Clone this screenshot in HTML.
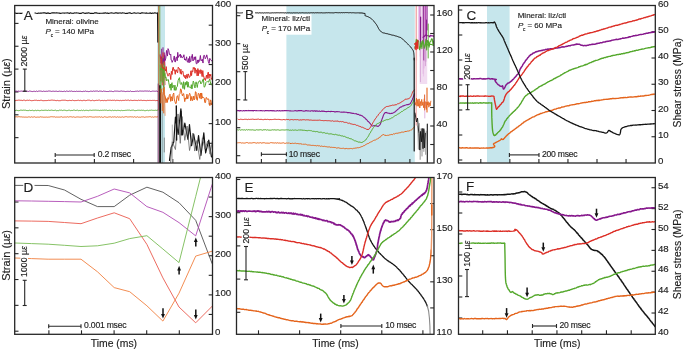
<!DOCTYPE html>
<html><head><meta charset="utf-8"><style>
html,body{margin:0;padding:0;background:#fff;}
svg{display:block;font-family:"Liberation Sans",sans-serif;will-change:transform;}
text{fill:#1e1e1e;stroke:#1e1e1e;stroke-width:0.15px;}
</style></head><body>
<svg width="685" height="350" viewBox="0 0 685 350">
<defs>
<clipPath id="c00"><rect x="14.7" y="5.5" width="197.8" height="157.5"/></clipPath>
<clipPath id="c01"><rect x="14.7" y="177.5" width="197.8" height="156.8"/></clipPath>
<clipPath id="c10"><rect x="236.5" y="5.5" width="197.5" height="157.5"/></clipPath>
<clipPath id="c11"><rect x="236.5" y="177.5" width="197.5" height="156.8"/></clipPath>
<clipPath id="c20"><rect x="458.5" y="5.5" width="196.8" height="157.5"/></clipPath>
<clipPath id="c21"><rect x="458.5" y="177.5" width="196.8" height="156.8"/></clipPath>
</defs>
<rect x="157.2" y="6" width="7.8" height="156.4" fill="#c6e6ec"/>
<rect x="286.4" y="6" width="128.4" height="156.4" fill="#c6e6ec"/>
<rect x="487" y="6" width="22.6" height="156.4" fill="#c6e6ec"/>
<line x1="14.7" y1="23.4" x2="18.5" y2="23.4" stroke="#262626" stroke-width="1.1"/>
<line x1="14.7" y1="46.25" x2="18.5" y2="46.25" stroke="#262626" stroke-width="1.1"/>
<line x1="14.7" y1="69.1" x2="18.5" y2="69.1" stroke="#262626" stroke-width="1.1"/>
<line x1="14.7" y1="91.95" x2="18.5" y2="91.95" stroke="#262626" stroke-width="1.1"/>
<line x1="14.7" y1="114.8" x2="18.5" y2="114.8" stroke="#262626" stroke-width="1.1"/>
<line x1="14.7" y1="137.65" x2="18.5" y2="137.65" stroke="#262626" stroke-width="1.1"/>
<line x1="208.7" y1="143.31" x2="212.5" y2="143.31" stroke="#262626" stroke-width="1.1"/>
<line x1="208.7" y1="123.62" x2="212.5" y2="123.62" stroke="#262626" stroke-width="1.1"/>
<line x1="208.7" y1="103.94" x2="212.5" y2="103.94" stroke="#262626" stroke-width="1.1"/>
<line x1="208.7" y1="84.25" x2="212.5" y2="84.25" stroke="#262626" stroke-width="1.1"/>
<line x1="208.7" y1="64.56" x2="212.5" y2="64.56" stroke="#262626" stroke-width="1.1"/>
<line x1="208.7" y1="44.88" x2="212.5" y2="44.88" stroke="#262626" stroke-width="1.1"/>
<line x1="208.7" y1="25.19" x2="212.5" y2="25.19" stroke="#262626" stroke-width="1.1"/>
<line x1="55.2" y1="159" x2="55.2" y2="163" stroke="#262626" stroke-width="1.1"/>
<line x1="94.4" y1="159" x2="94.4" y2="163" stroke="#262626" stroke-width="1.1"/>
<line x1="133.6" y1="159" x2="133.6" y2="163" stroke="#262626" stroke-width="1.1"/>
<line x1="172.8" y1="159" x2="172.8" y2="163" stroke="#262626" stroke-width="1.1"/>
<text x="215.1" y="6.7" font-size="9.7" text-anchor="start" >400</text>
<text x="215.1" y="46.08" font-size="9.7" text-anchor="start" >300</text>
<text x="215.1" y="85.45" font-size="9.7" text-anchor="start" >200</text>
<text x="215.1" y="124.83" font-size="9.7" text-anchor="start" >100</text>
<text x="215.1" y="164.2" font-size="9.7" text-anchor="start" >0</text>
<line x1="236.5" y1="15.7" x2="240.3" y2="15.7" stroke="#262626" stroke-width="1.1"/>
<line x1="236.5" y1="43.7" x2="240.3" y2="43.7" stroke="#262626" stroke-width="1.1"/>
<line x1="236.5" y1="71.7" x2="240.3" y2="71.7" stroke="#262626" stroke-width="1.1"/>
<line x1="236.5" y1="99.7" x2="240.3" y2="99.7" stroke="#262626" stroke-width="1.1"/>
<line x1="236.5" y1="127.7" x2="240.3" y2="127.7" stroke="#262626" stroke-width="1.1"/>
<line x1="236.5" y1="155.7" x2="240.3" y2="155.7" stroke="#262626" stroke-width="1.1"/>
<line x1="430.2" y1="144.5" x2="434" y2="144.5" stroke="#262626" stroke-width="1.1"/>
<line x1="430.2" y1="126" x2="434" y2="126" stroke="#262626" stroke-width="1.1"/>
<line x1="430.2" y1="107.5" x2="434" y2="107.5" stroke="#262626" stroke-width="1.1"/>
<line x1="430.2" y1="89" x2="434" y2="89" stroke="#262626" stroke-width="1.1"/>
<line x1="430.2" y1="70.5" x2="434" y2="70.5" stroke="#262626" stroke-width="1.1"/>
<line x1="430.2" y1="52" x2="434" y2="52" stroke="#262626" stroke-width="1.1"/>
<line x1="430.2" y1="33.5" x2="434" y2="33.5" stroke="#262626" stroke-width="1.1"/>
<line x1="430.2" y1="15" x2="434" y2="15" stroke="#262626" stroke-width="1.1"/>
<line x1="261.4" y1="159" x2="261.4" y2="163" stroke="#262626" stroke-width="1.1"/>
<line x1="286.15" y1="159" x2="286.15" y2="163" stroke="#262626" stroke-width="1.1"/>
<line x1="310.9" y1="159" x2="310.9" y2="163" stroke="#262626" stroke-width="1.1"/>
<line x1="335.65" y1="159" x2="335.65" y2="163" stroke="#262626" stroke-width="1.1"/>
<line x1="360.4" y1="159" x2="360.4" y2="163" stroke="#262626" stroke-width="1.1"/>
<line x1="385.15" y1="159" x2="385.15" y2="163" stroke="#262626" stroke-width="1.1"/>
<line x1="409.9" y1="159" x2="409.9" y2="163" stroke="#262626" stroke-width="1.1"/>
<text x="436.6" y="16.2" font-size="9.7" text-anchor="start" >160</text>
<text x="436.6" y="53.2" font-size="9.7" text-anchor="start" >120</text>
<text x="436.6" y="90.2" font-size="9.7" text-anchor="start" >80</text>
<text x="436.6" y="127.2" font-size="9.7" text-anchor="start" >40</text>
<text x="436.6" y="164.2" font-size="9.7" text-anchor="start" >0</text>
<line x1="458.5" y1="10" x2="462.3" y2="10" stroke="#262626" stroke-width="1.1"/>
<line x1="458.5" y1="35" x2="462.3" y2="35" stroke="#262626" stroke-width="1.1"/>
<line x1="458.5" y1="60" x2="462.3" y2="60" stroke="#262626" stroke-width="1.1"/>
<line x1="458.5" y1="85" x2="462.3" y2="85" stroke="#262626" stroke-width="1.1"/>
<line x1="458.5" y1="110" x2="462.3" y2="110" stroke="#262626" stroke-width="1.1"/>
<line x1="458.5" y1="135" x2="462.3" y2="135" stroke="#262626" stroke-width="1.1"/>
<line x1="458.5" y1="160" x2="462.3" y2="160" stroke="#262626" stroke-width="1.1"/>
<line x1="651.5" y1="136.75" x2="655.3" y2="136.75" stroke="#262626" stroke-width="1.1"/>
<line x1="651.5" y1="110.5" x2="655.3" y2="110.5" stroke="#262626" stroke-width="1.1"/>
<line x1="651.5" y1="84.25" x2="655.3" y2="84.25" stroke="#262626" stroke-width="1.1"/>
<line x1="651.5" y1="58" x2="655.3" y2="58" stroke="#262626" stroke-width="1.1"/>
<line x1="651.5" y1="31.75" x2="655.3" y2="31.75" stroke="#262626" stroke-width="1.1"/>
<line x1="480.8" y1="159" x2="480.8" y2="163" stroke="#262626" stroke-width="1.1"/>
<line x1="509.85" y1="159" x2="509.85" y2="163" stroke="#262626" stroke-width="1.1"/>
<line x1="538.9" y1="159" x2="538.9" y2="163" stroke="#262626" stroke-width="1.1"/>
<line x1="567.95" y1="159" x2="567.95" y2="163" stroke="#262626" stroke-width="1.1"/>
<line x1="597" y1="159" x2="597" y2="163" stroke="#262626" stroke-width="1.1"/>
<line x1="626.05" y1="159" x2="626.05" y2="163" stroke="#262626" stroke-width="1.1"/>
<text x="657.9" y="6.7" font-size="9.7" text-anchor="start" >60</text>
<text x="657.9" y="32.95" font-size="9.7" text-anchor="start" >50</text>
<text x="657.9" y="59.2" font-size="9.7" text-anchor="start" >40</text>
<text x="657.9" y="85.45" font-size="9.7" text-anchor="start" >30</text>
<text x="657.9" y="111.7" font-size="9.7" text-anchor="start" >20</text>
<text x="657.9" y="137.95" font-size="9.7" text-anchor="start" >10</text>
<text x="657.9" y="164.2" font-size="9.7" text-anchor="start" >0</text>
<line x1="14.7" y1="202" x2="18.5" y2="202" stroke="#262626" stroke-width="1.1"/>
<line x1="14.7" y1="227.84" x2="18.5" y2="227.84" stroke="#262626" stroke-width="1.1"/>
<line x1="14.7" y1="253.68" x2="18.5" y2="253.68" stroke="#262626" stroke-width="1.1"/>
<line x1="14.7" y1="279.52" x2="18.5" y2="279.52" stroke="#262626" stroke-width="1.1"/>
<line x1="14.7" y1="305.36" x2="18.5" y2="305.36" stroke="#262626" stroke-width="1.1"/>
<line x1="14.7" y1="331.2" x2="18.5" y2="331.2" stroke="#262626" stroke-width="1.1"/>
<line x1="208.7" y1="314.44" x2="212.5" y2="314.44" stroke="#262626" stroke-width="1.1"/>
<line x1="208.7" y1="294.88" x2="212.5" y2="294.88" stroke="#262626" stroke-width="1.1"/>
<line x1="208.7" y1="275.31" x2="212.5" y2="275.31" stroke="#262626" stroke-width="1.1"/>
<line x1="208.7" y1="255.75" x2="212.5" y2="255.75" stroke="#262626" stroke-width="1.1"/>
<line x1="208.7" y1="236.19" x2="212.5" y2="236.19" stroke="#262626" stroke-width="1.1"/>
<line x1="208.7" y1="216.62" x2="212.5" y2="216.62" stroke="#262626" stroke-width="1.1"/>
<line x1="208.7" y1="197.06" x2="212.5" y2="197.06" stroke="#262626" stroke-width="1.1"/>
<line x1="48.9" y1="330.3" x2="48.9" y2="334.3" stroke="#262626" stroke-width="1.1"/>
<line x1="81.5" y1="330.3" x2="81.5" y2="334.3" stroke="#262626" stroke-width="1.1"/>
<line x1="114.1" y1="330.3" x2="114.1" y2="334.3" stroke="#262626" stroke-width="1.1"/>
<line x1="146.7" y1="330.3" x2="146.7" y2="334.3" stroke="#262626" stroke-width="1.1"/>
<line x1="179.3" y1="330.3" x2="179.3" y2="334.3" stroke="#262626" stroke-width="1.1"/>
<text x="215.1" y="178.7" font-size="9.7" text-anchor="start" >400</text>
<text x="215.1" y="217.82" font-size="9.7" text-anchor="start" >300</text>
<text x="215.1" y="256.95" font-size="9.7" text-anchor="start" >200</text>
<text x="215.1" y="296.07" font-size="9.7" text-anchor="start" >100</text>
<text x="215.1" y="335.2" font-size="9.7" text-anchor="start" >0</text>
<line x1="236.5" y1="179.5" x2="240.3" y2="179.5" stroke="#262626" stroke-width="1.1"/>
<line x1="236.5" y1="212.7" x2="240.3" y2="212.7" stroke="#262626" stroke-width="1.1"/>
<line x1="236.5" y1="245.9" x2="240.3" y2="245.9" stroke="#262626" stroke-width="1.1"/>
<line x1="236.5" y1="279.1" x2="240.3" y2="279.1" stroke="#262626" stroke-width="1.1"/>
<line x1="236.5" y1="312.3" x2="240.3" y2="312.3" stroke="#262626" stroke-width="1.1"/>
<line x1="430.2" y1="307.92" x2="434" y2="307.92" stroke="#262626" stroke-width="1.1"/>
<line x1="430.2" y1="281.83" x2="434" y2="281.83" stroke="#262626" stroke-width="1.1"/>
<line x1="430.2" y1="255.75" x2="434" y2="255.75" stroke="#262626" stroke-width="1.1"/>
<line x1="430.2" y1="229.67" x2="434" y2="229.67" stroke="#262626" stroke-width="1.1"/>
<line x1="430.2" y1="203.58" x2="434" y2="203.58" stroke="#262626" stroke-width="1.1"/>
<line x1="258.5" y1="330.3" x2="258.5" y2="334.3" stroke="#262626" stroke-width="1.1"/>
<line x1="299.6" y1="330.3" x2="299.6" y2="334.3" stroke="#262626" stroke-width="1.1"/>
<line x1="340.7" y1="330.3" x2="340.7" y2="334.3" stroke="#262626" stroke-width="1.1"/>
<line x1="381.8" y1="330.3" x2="381.8" y2="334.3" stroke="#262626" stroke-width="1.1"/>
<line x1="422.9" y1="330.3" x2="422.9" y2="334.3" stroke="#262626" stroke-width="1.1"/>
<text x="436.6" y="178.7" font-size="9.7" text-anchor="start" >170</text>
<text x="436.6" y="230.87" font-size="9.7" text-anchor="start" >150</text>
<text x="436.6" y="283.03" font-size="9.7" text-anchor="start" >130</text>
<text x="436.6" y="335.2" font-size="9.7" text-anchor="start" >110</text>
<line x1="458.5" y1="192" x2="462.3" y2="192" stroke="#262626" stroke-width="1.1"/>
<line x1="458.5" y1="213" x2="462.3" y2="213" stroke="#262626" stroke-width="1.1"/>
<line x1="458.5" y1="234" x2="462.3" y2="234" stroke="#262626" stroke-width="1.1"/>
<line x1="458.5" y1="255" x2="462.3" y2="255" stroke="#262626" stroke-width="1.1"/>
<line x1="458.5" y1="276" x2="462.3" y2="276" stroke="#262626" stroke-width="1.1"/>
<line x1="458.5" y1="297" x2="462.3" y2="297" stroke="#262626" stroke-width="1.1"/>
<line x1="458.5" y1="318" x2="462.3" y2="318" stroke="#262626" stroke-width="1.1"/>
<line x1="651.5" y1="313.02" x2="655.3" y2="313.02" stroke="#262626" stroke-width="1.1"/>
<line x1="651.5" y1="292.14" x2="655.3" y2="292.14" stroke="#262626" stroke-width="1.1"/>
<line x1="651.5" y1="271.26" x2="655.3" y2="271.26" stroke="#262626" stroke-width="1.1"/>
<line x1="651.5" y1="250.38" x2="655.3" y2="250.38" stroke="#262626" stroke-width="1.1"/>
<line x1="651.5" y1="229.5" x2="655.3" y2="229.5" stroke="#262626" stroke-width="1.1"/>
<line x1="651.5" y1="208.62" x2="655.3" y2="208.62" stroke="#262626" stroke-width="1.1"/>
<line x1="651.5" y1="187.74" x2="655.3" y2="187.74" stroke="#262626" stroke-width="1.1"/>
<line x1="482.7" y1="330.3" x2="482.7" y2="334.3" stroke="#262626" stroke-width="1.1"/>
<line x1="507.45" y1="330.3" x2="507.45" y2="334.3" stroke="#262626" stroke-width="1.1"/>
<line x1="532.2" y1="330.3" x2="532.2" y2="334.3" stroke="#262626" stroke-width="1.1"/>
<line x1="556.95" y1="330.3" x2="556.95" y2="334.3" stroke="#262626" stroke-width="1.1"/>
<line x1="581.7" y1="330.3" x2="581.7" y2="334.3" stroke="#262626" stroke-width="1.1"/>
<line x1="606.45" y1="330.3" x2="606.45" y2="334.3" stroke="#262626" stroke-width="1.1"/>
<line x1="631.2" y1="330.3" x2="631.2" y2="334.3" stroke="#262626" stroke-width="1.1"/>
<text x="657.9" y="188.94" font-size="9.7" text-anchor="start" >54</text>
<text x="657.9" y="209.82" font-size="9.7" text-anchor="start" >52</text>
<text x="657.9" y="230.7" font-size="9.7" text-anchor="start" >50</text>
<text x="657.9" y="251.58" font-size="9.7" text-anchor="start" >48</text>
<text x="657.9" y="272.46" font-size="9.7" text-anchor="start" >46</text>
<text x="657.9" y="293.34" font-size="9.7" text-anchor="start" >44</text>
<text x="657.9" y="314.22" font-size="9.7" text-anchor="start" >42</text>
<text x="657.9" y="335.1" font-size="9.7" text-anchor="start" >40</text>
<path d="M15.3,91.19 L16.3,91.09 L17.3,91.39 L18.31,91.04 L19.31,91.32 L20.31,91.22 L21.31,91.03 L22.31,91.3 L23.32,91.02 L24.32,91.26 L25.32,91.04 L26.32,91.05 L27.33,91.25 L28.33,91.5 L29.33,91.07 L30.33,91.13 L31.33,91.38 L32.34,91.57 L33.34,91.35 L34.34,91.24 L35.34,91.59 L36.34,91.03 L37.35,91.52 L38.35,91.17 L39.35,91.09 L40.35,91.07 L41.35,91.19 L42.36,91.49 L43.36,91.11 L44.36,91.35 L45.36,91.38 L46.37,91.22 L47.37,91.33 L48.37,91.04 L49.37,91.04 L50.37,91.12 L51.38,91.41 L52.38,91.26 L53.38,91.19 L54.38,91.35 L55.38,91.27 L56.39,91.18 L57.39,91.48 L58.39,91.42 L59.39,91.15 L60.4,91.34 L61.4,91.32 L62.4,91.53 L63.4,91.44 L64.4,91.17 L65.41,91.59 L66.41,91.07 L67.41,91.25 L68.41,91.45 L69.41,91.09 L70.42,91.29 L71.42,91.02 L72.42,91.4 L73.42,91.46 L74.42,91.34 L75.43,91.53 L76.43,91.19 L77.43,91.42 L78.43,91.36 L79.44,91.35 L80.44,91.27 L81.44,91.5 L82.44,91.57 L83.44,91.28 L84.45,91.4 L85.45,91.04 L86.45,91.42 L87.45,91.39 L88.45,91.6 L89.46,91.49 L90.46,91.17 L91.46,91.23 L92.46,91.4 L93.46,91.01 L94.47,91.28 L95.47,91.1 L96.47,91.07 L97.47,91.04 L98.48,91.46 L99.48,91.08 L100.48,91.15 L101.48,91.23 L102.48,91.52 L103.49,91.05 L104.49,91.27 L105.49,91.33 L106.49,91.53 L107.49,91.49 L108.5,91.52 L109.5,91.17 L110.5,91.25 L111.5,91.22 L112.5,91.53 L113.51,91.57 L114.51,91.09 L115.51,91.11 L116.51,91.14 L117.52,91.14 L118.52,91.29 L119.52,91.35 L120.52,91.16 L121.52,91 L122.53,91.25 L123.53,91.22 L124.53,91.34 L125.53,91.57 L126.53,91.41 L127.54,91.31 L128.54,91.37 L129.54,91.41 L130.54,91.03 L131.55,91.54 L132.55,91.47 L133.55,91.52 L134.55,91.48 L135.55,91.24 L136.56,91.24 L137.56,91.06 L138.56,91.38 L139.56,91.04 L140.56,91.04 L141.57,91.13 L142.57,91.1 L143.57,91.2 L144.57,91.03 L145.57,91 L146.58,91.09 L147.58,91.06 L148.58,91.22 L149.58,91.02 L150.59,91.52 L151.59,91.37 L152.59,91.09 L153.59,91.15 L154.59,91.21 L155.6,91.22 L156.6,91.07 L157.6,91.51" fill="none" stroke="#86188c" stroke-width="0.9" stroke-linejoin="round" stroke-linecap="round" opacity="1" clip-path="url(#c00)"/>
<path d="M15.3,100.7 L16.3,100.38 L17.3,100.39 L18.31,100.15 L19.31,100.16 L20.31,100.31 L21.31,100.26 L22.31,100.6 L23.32,100.2 L24.32,100.11 L25.32,100.67 L26.32,100.42 L27.33,100.19 L28.33,100.43 L29.33,100.12 L30.33,100.42 L31.33,100.69 L32.34,100.62 L33.34,100.52 L34.34,100.26 L35.34,100.32 L36.34,100.2 L37.35,100.56 L38.35,100.42 L39.35,100.57 L40.35,100.3 L41.35,100.23 L42.36,100.59 L43.36,100.69 L44.36,100.61 L45.36,100.58 L46.37,100.59 L47.37,100.54 L48.37,100.24 L49.37,100.41 L50.37,100.31 L51.38,100.12 L52.38,100.12 L53.38,100.27 L54.38,100.26 L55.38,100.52 L56.39,100.67 L57.39,100.37 L58.39,100.66 L59.39,100.69 L60.4,100.67 L61.4,100.32 L62.4,100.23 L63.4,100.24 L64.4,100.22 L65.41,100.22 L66.41,100.47 L67.41,100.64 L68.41,100.6 L69.41,100.39 L70.42,100.49 L71.42,100.58 L72.42,100.15 L73.42,100.5 L74.42,100.65 L75.43,100.57 L76.43,100.55 L77.43,100.39 L78.43,100.21 L79.44,100.57 L80.44,100.3 L81.44,100.58 L82.44,100.68 L83.44,100.34 L84.45,100.34 L85.45,100.67 L86.45,100.53 L87.45,100.2 L88.45,100.18 L89.46,100.19 L90.46,100.64 L91.46,100.58 L92.46,100.19 L93.46,100.6 L94.47,100.69 L95.47,100.49 L96.47,100.31 L97.47,100.43 L98.48,100.18 L99.48,100.11 L100.48,100.68 L101.48,100.49 L102.48,100.42 L103.49,100.66 L104.49,100.36 L105.49,100.62 L106.49,100.6 L107.49,100.23 L108.5,100.25 L109.5,100.28 L110.5,100.24 L111.5,100.45 L112.5,100.26 L113.51,100.35 L114.51,100.18 L115.51,100.65 L116.51,100.31 L117.52,100.37 L118.52,100.45 L119.52,100.64 L120.52,100.35 L121.52,100.65 L122.53,100.4 L123.53,100.42 L124.53,100.41 L125.53,100.11 L126.53,100.36 L127.54,100.21 L128.54,100.1 L129.54,100.58 L130.54,100.2 L131.55,100.38 L132.55,100.54 L133.55,100.43 L134.55,100.3 L135.55,100.41 L136.56,100.43 L137.56,100.57 L138.56,100.16 L139.56,100.44 L140.56,100.25 L141.57,100.27 L142.57,100.56 L143.57,100.4 L144.57,100.44 L145.57,100.56 L146.58,100.65 L147.58,100.37 L148.58,100.47 L149.58,100.4 L150.59,100.41 L151.59,100.52 L152.59,100.37 L153.59,100.42 L154.59,100.39 L155.6,100.66 L156.6,100.52 L157.6,100.63" fill="none" stroke="#dc2e26" stroke-width="0.9" stroke-linejoin="round" stroke-linecap="round" opacity="1" clip-path="url(#c00)"/>
<path d="M15.3,110.67 L16.3,110.26 L17.3,110.44 L18.31,110.67 L19.31,110.6 L20.31,110.18 L21.31,110.17 L22.31,110.37 L23.32,110.14 L24.32,110.24 L25.32,110.14 L26.32,110.5 L27.33,110.57 L28.33,110.64 L29.33,110.19 L30.33,110.53 L31.33,110.5 L32.34,110.19 L33.34,110.63 L34.34,110.68 L35.34,110.23 L36.34,110.67 L37.35,110.34 L38.35,110.39 L39.35,110.69 L40.35,110.6 L41.35,110.2 L42.36,110.36 L43.36,110.41 L44.36,110.3 L45.36,110.22 L46.37,110.29 L47.37,110.53 L48.37,110.11 L49.37,110.43 L50.37,110.36 L51.38,110.11 L52.38,110.3 L53.38,110.47 L54.38,110.41 L55.38,110.14 L56.39,110.69 L57.39,110.57 L58.39,110.68 L59.39,110.16 L60.4,110.26 L61.4,110.12 L62.4,110.57 L63.4,110.26 L64.4,110.18 L65.41,110.35 L66.41,110.65 L67.41,110.59 L68.41,110.26 L69.41,110.19 L70.42,110.65 L71.42,110.44 L72.42,110.52 L73.42,110.15 L74.42,110.13 L75.43,110.51 L76.43,110.36 L77.43,110.14 L78.43,110.66 L79.44,110.48 L80.44,110.58 L81.44,110.15 L82.44,110.61 L83.44,110.14 L84.45,110.62 L85.45,110.37 L86.45,110.3 L87.45,110.43 L88.45,110.66 L89.46,110.26 L90.46,110.18 L91.46,110.42 L92.46,110.24 L93.46,110.17 L94.47,110.2 L95.47,110.13 L96.47,110.22 L97.47,110.29 L98.48,110.28 L99.48,110.56 L100.48,110.27 L101.48,110.4 L102.48,110.21 L103.49,110.31 L104.49,110.11 L105.49,110.25 L106.49,110.11 L107.49,110.54 L108.5,110.43 L109.5,110.21 L110.5,110.38 L111.5,110.66 L112.5,110.16 L113.51,110.59 L114.51,110.36 L115.51,110.4 L116.51,110.6 L117.52,110.34 L118.52,110.4 L119.52,110.51 L120.52,110.69 L121.52,110.31 L122.53,110.6 L123.53,110.52 L124.53,110.48 L125.53,110.34 L126.53,110.31 L127.54,110.13 L128.54,110.18 L129.54,110.14 L130.54,110.54 L131.55,110.25 L132.55,110.2 L133.55,110.15 L134.55,110.6 L135.55,110.62 L136.56,110.5 L137.56,110.27 L138.56,110.25 L139.56,110.28 L140.56,110.38 L141.57,110.19 L142.57,110.37 L143.57,110.26 L144.57,110.68 L145.57,110.68 L146.58,110.43 L147.58,110.25 L148.58,110.68 L149.58,110.29 L150.59,110.31 L151.59,110.1 L152.59,110.33 L153.59,110.38 L154.59,110.4 L155.6,110.22 L156.6,110.4 L157.6,110.1" fill="none" stroke="#54a82c" stroke-width="0.9" stroke-linejoin="round" stroke-linecap="round" opacity="1" clip-path="url(#c00)"/>
<path d="M15.3,116.86 L16.3,116.75 L17.3,116.94 L18.31,116.73 L19.31,116.71 L20.31,116.88 L21.31,116.84 L22.31,117.05 L23.32,117.02 L24.32,117.15 L25.32,117.09 L26.32,117.13 L27.33,117.23 L28.33,116.93 L29.33,116.9 L30.33,117.29 L31.33,116.79 L32.34,117.13 L33.34,117.09 L34.34,116.73 L35.34,117.2 L36.34,117.24 L37.35,117.08 L38.35,117.14 L39.35,117.19 L40.35,116.78 L41.35,117.01 L42.36,117 L43.36,117.2 L44.36,117.18 L45.36,117.2 L46.37,117.05 L47.37,117.24 L48.37,117.11 L49.37,117.12 L50.37,116.84 L51.38,116.72 L52.38,116.78 L53.38,116.92 L54.38,116.76 L55.38,117.2 L56.39,117.04 L57.39,117.08 L58.39,117.08 L59.39,117.11 L60.4,116.99 L61.4,116.7 L62.4,117.18 L63.4,117.15 L64.4,117 L65.41,117.02 L66.41,117.1 L67.41,116.74 L68.41,117.14 L69.41,116.85 L70.42,116.74 L71.42,116.86 L72.42,117.14 L73.42,116.82 L74.42,117.14 L75.43,117.29 L76.43,117 L77.43,116.93 L78.43,116.99 L79.44,117.11 L80.44,117.16 L81.44,117.07 L82.44,117.09 L83.44,116.75 L84.45,116.79 L85.45,116.85 L86.45,117.15 L87.45,116.88 L88.45,117.04 L89.46,116.71 L90.46,116.74 L91.46,116.86 L92.46,117.1 L93.46,117.12 L94.47,117.11 L95.47,116.87 L96.47,117.01 L97.47,116.98 L98.48,116.98 L99.48,116.77 L100.48,117.24 L101.48,116.82 L102.48,117.29 L103.49,117.26 L104.49,116.71 L105.49,116.98 L106.49,117.19 L107.49,117.28 L108.5,116.97 L109.5,116.86 L110.5,116.83 L111.5,117.27 L112.5,116.83 L113.51,117.05 L114.51,116.79 L115.51,117.01 L116.51,117.27 L117.52,116.78 L118.52,117.19 L119.52,117.01 L120.52,117.23 L121.52,117.12 L122.53,116.84 L123.53,117.24 L124.53,116.99 L125.53,116.71 L126.53,116.7 L127.54,117 L128.54,116.97 L129.54,116.88 L130.54,116.78 L131.55,116.91 L132.55,116.89 L133.55,117.2 L134.55,116.7 L135.55,117.15 L136.56,117.2 L137.56,116.77 L138.56,117.26 L139.56,117.13 L140.56,117.24 L141.57,116.87 L142.57,116.92 L143.57,116.94 L144.57,117.3 L145.57,117.05 L146.58,116.92 L147.58,116.96 L148.58,116.87 L149.58,116.73 L150.59,116.76 L151.59,117.2 L152.59,116.87 L153.59,117.26 L154.59,116.85 L155.6,116.86 L156.6,117.01 L157.6,116.81" fill="none" stroke="#e4641c" stroke-width="0.9" stroke-linejoin="round" stroke-linecap="round" opacity="1" clip-path="url(#c00)"/>
<path d="M15.3,13.01 L16.3,13.42 L17.3,13.37 L18.3,13.32 L19.3,13.19 L20.3,13.39 L21.3,13.41 L22.3,13.13 L23.31,13.25 L24.31,12.78 L25.31,13.26 L26.31,13.07 L27.31,13.28 L28.31,13.2 L29.31,12.95 L30.31,12.78 L31.31,13.4 L32.31,12.84 L33.31,13.08 L34.31,12.99 L35.31,12.96 L36.31,13.27 L37.32,13.43 L38.32,12.93 L39.32,13.21 L40.32,12.96 L41.32,13.14 L42.32,13.03 L43.32,12.87 L44.32,12.86 L45.32,12.9 L46.32,13.38 L47.32,13.1 L48.32,12.9 L49.32,13.38 L50.32,13.45 L51.33,13.06 L52.33,12.85 L53.33,12.88 L54.33,12.81 L55.33,12.99 L56.33,12.81 L57.33,12.92 L58.33,12.93 L59.33,13.15 L60.33,13.37 L61.33,13.27 L62.33,13.04 L63.33,13.04 L64.33,13.12 L65.34,13.01 L66.34,12.99 L67.34,12.79 L68.34,12.94 L69.34,13.43 L70.34,12.84 L71.34,13.1 L72.34,13.19 L73.34,13.35 L74.34,12.9 L75.34,12.94 L76.34,12.92 L77.34,13.03 L78.34,13.06 L79.35,13.42 L80.35,13.34 L81.35,13.36 L82.35,12.77 L83.35,12.77 L84.35,13.25 L85.35,13.38 L86.35,13.08 L87.35,13.16 L88.35,12.75 L89.35,13.02 L90.35,13.4 L91.35,13.33 L92.35,13.35 L93.35,13.43 L94.36,12.92 L95.36,12.83 L96.36,12.86 L97.36,13.12 L98.36,13.23 L99.36,13.41 L100.36,13.26 L101.36,13.2 L102.36,13.29 L103.36,13.07 L104.36,13.14 L105.36,12.78 L106.36,13.3 L107.36,12.91 L108.37,13.39 L109.37,13.2 L110.37,12.96 L111.37,12.84 L112.37,12.93 L113.37,13.2 L114.37,13.24 L115.37,12.83 L116.37,12.8 L117.37,13.12 L118.37,13.16 L119.37,13.02 L120.37,12.91 L121.37,13.17 L122.38,12.76 L123.38,12.96 L124.38,13.07 L125.38,13.42 L126.38,13.2 L127.38,13.37 L128.38,13.08 L129.38,12.91 L130.38,12.92 L131.38,13.42 L132.38,13.24 L133.38,12.97 L134.38,12.77 L135.38,13.1 L136.39,13.22 L137.39,13.04 L138.39,12.93 L139.39,13.22 L140.39,13.4 L141.39,12.91 L142.39,12.77 L143.39,12.99 L144.39,13.04 L145.39,13.23 L146.39,12.89 L147.39,13.31 L148.39,13.27 L149.39,13.1 L150.4,12.89 L151.4,13.43 L152.4,12.97 L153.4,13.32 L154.4,12.91 L155.4,12.91 L156.4,13.28 L157.4,12.96" fill="none" stroke="#141414" stroke-width="1.1" stroke-linejoin="round" stroke-linecap="round" opacity="1" clip-path="url(#c00)"/>
<path d="M157.6,13.2 L157.8,30 L157.9,42" fill="none" stroke="#141414" stroke-width="1.3" stroke-linejoin="round" stroke-linecap="round" opacity="1" clip-path="url(#c00)"/>
<path d="M158.7,6 L158.7,110" fill="none" stroke="#b86a30" stroke-width="1.0" stroke-linejoin="round" stroke-linecap="round" opacity="0.95" clip-path="url(#c00)"/>
<path d="M159.8,5.8 L159.8,90" fill="none" stroke="#7aa040" stroke-width="1.0" stroke-linejoin="round" stroke-linecap="round" opacity="0.95" clip-path="url(#c00)"/>
<path d="M158.2,84 L158.2,162.5" fill="none" stroke="#9a3a6a" stroke-width="1.0" stroke-linejoin="round" stroke-linecap="round" opacity="0.95" clip-path="url(#c00)"/>
<path d="M160.1,86 L160.1,162.5" fill="none" stroke="#111" stroke-width="1.9" stroke-linejoin="round" stroke-linecap="round" opacity="1" clip-path="url(#c00)"/>
<path d="M162.4,95 L162.4,162.5" fill="none" stroke="#8fa8ac" stroke-width="1.3" stroke-linejoin="round" stroke-linecap="round" opacity="0.8" clip-path="url(#c00)"/>
<path d="M164.3,138 L164.3,152" fill="none" stroke="#777" stroke-width="0.9" stroke-linejoin="round" stroke-linecap="round" opacity="0.9" clip-path="url(#c00)"/>
<path d="M172.3,125 L172.3,162.5" fill="none" stroke="#999" stroke-width="0.9" stroke-linejoin="round" stroke-linecap="round" opacity="0.8" clip-path="url(#c00)"/>
<path d="M160.2,55.35 L160.9,63.24 L161.6,48.81 L162.3,69.69 L163,47.35 L163.7,65.19 L164.4,52.53 L165.1,66.95" fill="none" stroke="#86188c" stroke-width="0.8" stroke-linejoin="round" stroke-linecap="round" opacity="0.75" clip-path="url(#c00)"/>
<path d="M160.2,54.36 L160.9,81.35 L161.6,60.11 L162.3,85.32 L163,52.46 L163.7,87.23 L164.4,54.8 L165.1,84.64" fill="none" stroke="#dc2e26" stroke-width="0.8" stroke-linejoin="round" stroke-linecap="round" opacity="0.75" clip-path="url(#c00)"/>
<path d="M160.2,65.13 L160.9,92.71 L161.6,59.29 L162.3,82.43 L163,57.57 L163.7,91.57 L164.4,65.61 L165.1,80.1" fill="none" stroke="#54a82c" stroke-width="0.8" stroke-linejoin="round" stroke-linecap="round" opacity="0.75" clip-path="url(#c00)"/>
<path d="M160.2,88.76 L160.9,103.3 L161.6,88.88 L162.3,110.96 L163,92.3 L163.7,113.27 L164.4,87.1 L165.1,115.43" fill="none" stroke="#e4641c" stroke-width="0.8" stroke-linejoin="round" stroke-linecap="round" opacity="0.75" clip-path="url(#c00)"/>
<path d="M160.8,58.06 L161.39,56.82 L162.1,63.58 L162.7,62.57 L163.21,58.46 L163.76,61.2 L164.21,61.43 L164.71,55.49 L165.14,60.53 L165.83,58.19 L166.47,50.44 L167.01,53.28 L167.47,56.07 L168.03,48.61 L168.74,50.29 L169.49,54.53 L170.11,54.71 L170.71,53.98 L171.14,59.95 L171.64,60.14 L172.14,62.36 L172.88,60.57 L173.58,59.4 L174.26,55.96 L174.85,61.58 L175.34,62.11 L176.08,57.27 L176.63,57.05 L177.19,60.74 L177.75,52.38 L178.21,57.53 L178.98,55.46 L179.58,55.99 L180.27,54.02 L180.91,57.8 L181.55,55.68 L182.03,57.44 L182.79,57.58 L183.42,56.99 L183.88,54.76 L184.59,59.98 L185.15,58.96 L185.81,60.46 L186.58,56.81 L187.35,61.99 L187.98,62.08 L188.58,58.58 L189.09,62.87 L189.57,56.5 L190.28,61.8 L190.87,61.65 L191.31,56.54 L191.84,57.39 L192.32,54.35 L192.86,60.99 L193.63,60.22 L194.23,56.85 L194.99,59.77 L195.67,56.69 L196.17,63.54 L196.88,63.94 L197.51,59.95 L198.14,62.82 L198.67,59.88 L199.19,61.48 L199.61,60.75 L200.38,55.5 L201.01,60.61 L201.74,60.44 L202.25,59.16 L203.02,63.05 L203.48,56.26 L203.94,55.25 L204.52,55.43 L205.25,58.73 L205.72,57.58 L206.25,57.21 L206.75,54.85 L207.24,57.07 L207.91,59.51 L208.35,61.61 L209.09,63.48 L209.79,58.37 L210.38,59.32 L211.07,60.39 L211.75,60.87" fill="none" stroke="#86188c" stroke-width="1.0" stroke-linejoin="round" stroke-linecap="round" opacity="1" clip-path="url(#c00)"/>
<path d="M160.8,56.59 L161.58,60.06 L162.04,65.35 L162.59,68.67 L163.09,70.15 L163.63,67.47 L164.38,68.58 L165.13,69.1 L165.57,70.94 L166.2,66.61 L166.69,72.09 L167.32,74.18 L168.02,76.17 L168.64,75.49 L169.28,73.08 L170.05,74.67 L170.75,79.57 L171.4,71.31 L172.12,74.53 L172.61,68.19 L173.22,67.14 L173.97,70.65 L174.58,69.59 L175.24,74.27 L175.77,70.04 L176.4,69.8 L177.03,72.02 L177.61,72.88 L178.22,67.17 L179,68.71 L179.57,68.7 L180.33,73.54 L180.93,69.25 L181.39,74.3 L181.87,72.15 L182.41,71.37 L182.96,71.26 L183.4,75.02 L184.1,76.84 L184.59,77.53 L185.03,75.09 L185.75,78.8 L186.34,77.52 L186.94,74.23 L187.57,78.2 L188.25,73.86 L188.94,75.82 L189.48,77.44 L190.2,76.16 L190.96,70.79 L191.56,75.6 L192.1,70.68 L192.77,71.76 L193.29,67.39 L194.06,69.11 L194.52,67.6 L195.03,73.27 L195.51,68.45 L195.97,70.64 L196.46,70.12 L197.15,75.94 L197.87,68.54 L198.43,75.68 L198.86,69.85 L199.45,71.08 L200.14,73.68 L200.73,69.56 L201.23,69.99 L201.68,73.97 L202.15,76.65 L202.81,70.55 L203.41,76.54 L203.84,76.29 L204.27,79.36 L204.69,78.57 L205.47,80.51 L205.97,77.41 L206.44,75.21 L207.17,78.54 L207.6,74.26 L208.25,72.08 L208.96,78.43 L209.57,74.11 L210.3,76.04 L210.79,74.32 L211.27,79.46 L211.87,78.18" fill="none" stroke="#dc2e26" stroke-width="1.0" stroke-linejoin="round" stroke-linecap="round" opacity="1" clip-path="url(#c00)"/>
<path d="M160.5,69.86 L160.95,68.37 L161.52,69.63 L161.99,67.85 L162.57,69.74 L163.15,69.06 L163.6,76.18 L164.18,74.68 L164.86,73.44 L165.3,77.67 L165.93,76.92 L166.58,80.83 L167.13,80.01 L167.68,79.8 L168.34,79.55 L168.79,82.67 L169.47,86.06 L170.05,88.13 L170.53,84.06 L171.07,90.32 L171.56,83.54 L172.02,82.7 L172.54,87.72 L173.25,85.54 L173.8,85.57 L174.33,90.29 L174.95,85.14 L175.41,90.12 L176.08,90.34 L176.59,87.2 L177.34,86.45 L178.1,80.64 L178.87,78.67 L179.44,77.65 L180.15,83.41 L180.92,84.49 L181.69,82.54 L182.46,85.62 L183.01,88.57 L183.56,81.72 L184.01,84.68 L184.5,89.32 L185.26,82.28 L185.72,85.06 L186.2,84.79 L186.91,81.22 L187.48,87.19 L188.06,81.98 L188.81,87.19 L189.55,86.93 L190.12,87.66 L190.84,87.88 L191.34,84.7 L191.91,89.03 L192.53,86.27 L193.25,81.08 L193.89,82.48 L194.52,86.89 L195.02,87.95 L195.47,84.44 L196.09,81.83 L196.71,84.68 L197.29,87.47 L197.71,84.31 L198.42,81.83 L199.15,81.69 L199.81,80.51 L200.4,81.96 L200.84,83.97 L201.44,83.37 L202.05,82.08 L202.66,80.02 L203.4,78.88 L204.14,87.21 L204.74,86.82 L205.4,85.32 L205.93,82.41 L206.47,81.83 L207.24,81.48 L207.8,81.8 L208.51,82.16 L209.13,80.26 L209.65,79.09 L210.15,81.27 L210.88,84.24 L211.34,84.09 L211.8,85.08" fill="none" stroke="#54a82c" stroke-width="1.0" stroke-linejoin="round" stroke-linecap="round" opacity="1" clip-path="url(#c00)"/>
<path d="M163.2,88.28 L163.98,94.59 L164.64,95.25 L165.33,96.85 L166.01,102.76 L166.7,98.67 L167.44,102.42 L167.9,97.56 L168.66,99.33 L169.24,95.56 L170.01,94.18 L170.7,101.38 L171.18,96.61 L171.71,98.33 L172.26,101 L173.01,94.57 L173.75,93.01 L174.21,99.02 L174.92,101.58 L175.69,103.77 L176.21,103.24 L176.96,96.22 L177.56,95.81 L178.03,97.83 L178.69,100.55 L179.16,94.62 L179.94,93.82 L180.55,88.93 L181.2,89.4 L181.85,93.61 L182.41,95.87 L182.97,94.14 L183.69,93.63 L184.18,97.68 L184.76,101.62 L185.27,97.85 L185.71,99.14 L186.24,99.06 L186.94,94.13 L187.71,99 L188.42,96.5 L189.05,94.95 L189.61,93.28 L190.14,94.37 L190.68,100.82 L191.39,99.4 L191.82,96.39 L192.43,100.69 L193,100.04 L193.75,96.02 L194.31,99.8 L194.84,98.7 L195.41,91.74 L195.99,91.99 L196.69,99.33 L197.3,100.3 L197.8,96.6 L198.28,93.37 L199,93.77 L199.76,98.25 L200.43,93.07 L201.18,99.09 L201.63,92.98 L202.1,95.55 L202.55,98.1 L203.15,97.41 L203.66,97.46 L204.25,98.32 L204.81,102.54 L205.54,102.55 L206.08,97.56 L206.56,97.58 L207.33,99.38 L208.06,98.89 L208.7,98.94 L209.23,103.54 L209.87,105.68 L210.38,99.98 L210.82,100.09 L211.59,104.63" fill="none" stroke="#e4641c" stroke-width="1.0" stroke-linejoin="round" stroke-linecap="round" opacity="1" clip-path="url(#c00)"/>
<path d="M169.5,160.44 L171.16,147.55 L173.78,141.99 L175.44,117.09 L178.18,134.33 L180.89,108.76 L182.59,134.91 L184.82,123.04 L187.96,139.43 L189.46,124.63 L191.61,145.64 L193.64,134.21 L196.71,150.49 L198.54,135.62 L200.93,155.5 L203.81,132.87 L205.63,152.85 L208.76,140.17 L211.46,156.92" fill="none" stroke="#141414" stroke-width="1.2" stroke-linejoin="round" stroke-linecap="round" opacity="1" clip-path="url(#c00)"/>
<path d="M170.5,163.5 L172.28,141.78 L175.44,149.56 L178,113.95 L180.28,143.33 L182.09,116.53 L184.81,140.32 L187.11,126.01 L189.54,150.52 L192.94,133.07 L194.72,151.06 L196.86,140.46 L199.76,159.44 L202.41,137.84 L205.07,149.14 L207.65,140.98 L210.03,154.12 L212.85,138.61" fill="none" stroke="#666" stroke-width="1.0" stroke-linejoin="round" stroke-linecap="round" opacity="0.8" clip-path="url(#c00)"/>
<path d="M176.3,106 L176.6,140" fill="none" stroke="#141414" stroke-width="1.4" stroke-linejoin="round" stroke-linecap="round" opacity="1" clip-path="url(#c00)"/>
<path d="M181,111 L181.3,135" fill="none" stroke="#141414" stroke-width="1.2" stroke-linejoin="round" stroke-linecap="round" opacity="1" clip-path="url(#c00)"/>
<path d="M237.5,110.75 L237.86,110.41 L238.24,110.61 L238.65,110.5 L239.07,110.92 L239.51,110.84 L239.97,110.94 L240.45,110.53 L240.95,110.84 L241.46,110.82 L241.99,110.71 L242.54,110.96 L243.11,110.78 L243.69,110.58 L244.28,110.84 L244.89,110.7 L245.52,110.54 L246.16,110.78 L246.81,110.44 L247.48,110.68 L248.16,110.74 L248.85,110.41 L249.55,110.8 L250.26,110.46 L250.99,110.8 L251.72,110.62 L252.47,110.43 L253.22,111.01 L253.99,110.45 L254.76,110.51 L255.54,110.72 L256.33,110.56 L257.12,110.73 L257.92,110.7 L258.73,110.76 L259.55,110.74 L260.37,110.6 L261.19,110.55 L262.02,110.84 L262.86,110.68 L263.7,110.73 L264.54,110.97 L265.38,110.43 L266.23,110.59 L267.08,110.76 L267.93,110.46 L268.78,110.88 L269.63,110.67 L270.48,110.62 L271.33,110.55 L272.18,111.01 L273.03,110.46 L273.88,110.92 L274.72,110.86 L275.57,110.97 L276.41,110.86 L277.24,110.64 L278.07,110.77 L278.9,110.99 L279.73,110.46 L280.54,110.95 L281.36,110.85 L282.16,110.56 L282.96,111.03 L283.76,110.63 L284.54,110.45 L285.32,110.61 L286.09,110.76 L286.85,110.47 L287.6,110.81 L288.34,110.72 L289.07,110.66 L289.8,110.91 L290.51,110.83 L291.2,111.04 L291.89,110.99 L292.56,110.98 L293.23,111.03 L293.87,110.98 L294.51,110.77 L295.13,110.52 L295.73,110.75 L296.32,110.85 L296.9,111.07 L297.46,110.88 L298,110.83 L298.53,110.54 L299.04,110.88 L299.53,110.52 L300,110.59 L301.42,110.54 L302.74,110.96 L303.97,111.09 L305.11,110.9 L306.17,110.6 L307.15,111.01 L308.06,110.68 L308.9,111.01 L309.68,111.01 L310.4,111.18 L311.08,110.73 L311.7,110.78 L312.29,110.85 L312.84,110.71 L313.37,111.25 L313.87,111.07 L314.35,110.78 L314.82,111.02 L315.28,110.81 L315.74,111.34 L316.21,110.99 L316.68,110.8 L317.17,111.26 L317.67,111.03 L318.2,111.24 L318.76,111.33 L319.36,110.93 L320,111.23 L320.77,111.49 L321.53,111.08 L322.3,111.11 L323.05,111.39 L323.81,111.04 L324.55,111.52 L325.3,111.53 L326.04,111.64 L326.77,111.59 L327.5,111.46 L328.22,111.41 L328.94,111.48 L329.65,111.57 L330.35,111.8 L331.05,111.33 L331.74,111.56 L332.42,111.56 L333.1,111.46 L333.77,111.44 L334.43,111.84 L335.09,111.76 L335.73,111.85 L336.37,111.62 L337,111.79 L337.83,111.64 L338.64,111.68 L339.43,111.71 L340.22,112.06 L340.98,112.22 L341.74,112.1 L342.48,112.27 L343.22,111.9 L343.94,112.21 L344.65,112.04 L345.35,112.32 L346.04,112.21 L346.72,112.28 L347.39,112.74 L348.05,112.59 L348.71,112.48 L349.36,112.71 L350,112.67 L350.82,113.09 L351.63,112.98 L352.43,113.38 L353.22,113.37 L354,113.55 L354.76,113.67 L355.5,113.81 L356.22,113.66 L356.92,114.27 L357.59,114.33 L358.24,114.28 L358.86,114.62 L359.45,115.08 L360,115.09 L360.86,115.37 L361.6,115.7 L362.24,115.78 L362.81,116.4 L363.34,116.76 L363.87,117.31 L364.41,117.61 L365,117.99 L365.51,118.87 L366.05,119.02 L366.59,119.57 L367.14,120.28 L367.69,121.18 L368.22,121.62 L368.72,121.86 L369.19,122.36 L369.62,123.09 L370,123.24 L370.69,124.16 L371.12,124.7 L371.5,125.6 L372,125.93 L372.68,126.06 L373.44,125.89 L374.23,125.43 L375,125.57 L375.77,126.06 L376.56,125.83 L377.32,126.3 L378,126.48 L378.74,125.89 L379.37,125.43 L380,124.68 L380.25,124.2 L380.5,123.32 L380.75,123.05 L381,121.93 L381.25,121.25 L381.5,120.61 L381.75,119.81 L382,119.27 L382.25,118.51 L382.5,118 L382.75,117.3 L383,116.53 L383.25,115.86 L383.5,114.83 L383.75,114.48 L384,114.07 L384.59,113.22 L385.19,112.52 L386,112.64 L386.66,112.41 L387.41,113.02 L388.23,113.24 L389.1,113.16 L390,113.75 L390.66,113.59 L391.36,113.32 L392.07,113.38 L392.8,113.09 L393.54,112.74 L394.28,112.36 L395,111.93 L395.56,111.19 L396.11,111.03 L396.67,110.19 L397.22,109.96 L397.78,109.21 L398.33,109 L398.89,108.61 L399.44,107.72 L400,107.54 L400.71,106.94 L401.43,106.98 L402.14,106.37 L402.86,105.89 L403.57,105.9 L404.29,105.54 L405,105.31 L405.73,105.06 L406.49,104.75 L407.25,104.62 L408,104.78 L408.72,104.31 L409.39,104.18 L410,103.84 L410.43,103.49 L410.83,102.52 L411.21,101.98 L411.56,101.09 L411.89,100.41 L412.2,100.08 L412.49,99.21 L412.75,98.14 L413,98.09 L413.39,96.74 L413.7,95.98 L413.96,95.31 L414.15,94.31 L414.3,93.87" fill="none" stroke="#86188c" stroke-width="1.1" stroke-linejoin="round" stroke-linecap="round" opacity="1" clip-path="url(#c10)"/>
<path d="M238,119.19 L238.36,119.36 L238.74,119.59 L239.14,119.1 L239.56,119.59 L239.99,119.36 L240.45,119.3 L240.92,119.06 L241.4,119.45 L241.9,119.07 L242.42,119.54 L242.95,119.19 L243.5,119.53 L244.07,119.49 L244.64,119.26 L245.23,119.22 L245.84,119.39 L246.46,119.33 L247.09,119.3 L247.73,119.65 L248.38,119.27 L249.05,119.28 L249.73,119.51 L250.41,119.34 L251.11,119.23 L251.82,119.33 L252.54,119.15 L253.27,119.19 L254,119.58 L254.75,119.38 L255.5,119.37 L256.26,119.38 L257.03,119.22 L257.81,119.18 L258.59,119.12 L259.38,119.48 L260.17,119.31 L260.97,119.53 L261.78,119.33 L262.58,119.61 L263.4,119.7 L264.22,119.37 L265.04,119.52 L265.86,119.26 L266.69,119.52 L267.52,119.34 L268.35,119.44 L269.18,119.67 L270.02,119.71 L270.85,119.44 L271.69,119.6 L272.52,119.53 L273.36,119.44 L274.19,119.26 L275.02,119.25 L275.86,119.31 L276.69,119.48 L277.51,119.41 L278.34,119.36 L279.16,119.43 L279.98,119.46 L280.8,119.72 L281.61,119.75 L282.42,119.75 L283.22,119.62 L284.01,119.32 L284.8,119.8 L285.59,119.78 L286.37,119.38 L287.14,119.47 L287.9,119.6 L288.66,119.47 L289.41,119.94 L290.15,119.73 L290.88,119.71 L291.61,119.52 L292.32,119.62 L293.02,119.72 L293.72,119.86 L294.4,119.61 L295.07,119.67 L295.73,119.63 L296.38,119.73 L297.01,119.64 L297.64,119.6 L298.25,119.81 L298.85,120.02 L299.43,120.06 L300,120.07 L300.95,119.73 L301.88,120.11 L302.81,119.64 L303.73,119.73 L304.64,119.72 L305.54,119.99 L306.43,119.79 L307.31,119.83 L308.18,119.75 L309.04,120.12 L309.89,120.1 L310.74,120.02 L311.57,120.14 L312.39,120.31 L313.21,120.39 L314.01,119.97 L314.81,120.37 L315.6,120.25 L316.38,120.34 L317.14,120.02 L317.9,120.54 L318.65,120.21 L319.39,120.07 L320.13,120.34 L320.85,120.26 L321.56,120.52 L322.27,120.49 L322.96,120.63 L323.65,120.69 L324.33,120.67 L325,120.45 L325.65,120.56 L326.31,120.58 L326.95,120.74 L327.58,120.71 L328.2,120.73 L328.82,120.61 L329.43,120.73 L330.02,120.7 L330.61,120.97 L331.19,121.1 L331.76,120.97 L332.33,120.81 L332.88,120.78 L333.43,121.24 L333.96,121.26 L334.49,121.23 L335.01,121.29 L335.52,121.12 L336.02,121.27 L336.51,121.17 L337,120.92 L338.32,121.33 L339.51,121.7 L340.59,121.45 L341.56,121.75 L342.43,121.54 L343.22,121.98 L343.94,121.93 L344.59,122.42 L345.19,122.28 L345.74,122.51 L346.27,122.42 L346.78,122.57 L347.27,122.97 L347.77,122.94 L348.28,123.15 L348.82,123.45 L349.39,123.12 L350,123.41 L350.81,123.92 L351.61,123.97 L352.4,124.24 L353.16,124.33 L353.92,124.59 L354.65,124.4 L355.38,124.62 L356.08,125.22 L356.77,125.4 L357.45,125.36 L358.11,125.65 L358.76,126.11 L359.39,126.33 L360,126.15 L360.84,126.9 L361.66,127.25 L362.45,127.24 L363.21,127.71 L363.94,127.87 L364.63,128.37 L365.29,128.54 L365.9,128.85 L366.48,129.27 L367,129.5 L367.98,129.36 L368.62,129.56 L369.2,128.53 L370,127.91 L370.3,127.7 L370.61,126.71 L370.94,126.24 L371.28,125.79 L371.64,125.04 L372,124.76 L372.38,123.87 L372.75,122.87 L373.13,122.37 L373.51,121.73 L373.89,121.19 L374.27,120.29 L374.64,120.03 L375,119.25 L375.45,118.68 L375.9,117.95 L376.34,117.62 L376.78,116.5 L377.22,116.31 L377.66,115.8 L378.11,115.3 L378.56,114.19 L379.03,113.74 L379.51,113.27 L380,113.02 L380.5,112.34 L380.99,111.64 L381.48,111.16 L381.98,110.49 L382.49,110.14 L383.01,109.33 L383.56,108.76 L384.12,108.1 L384.71,107.95 L385.34,107.15 L386,106.98 L386.6,106.48 L387.26,106.47 L387.95,106.35 L388.68,106.29 L389.43,105.98 L390.18,105.91 L390.94,105.45 L391.69,105.47 L392.43,105.14 L393.13,105.33 L393.81,105.11 L394.43,105.06 L395,104.63 L395.92,104.89 L396.72,104.54 L397.42,103.87 L398.07,103.99 L398.69,103.53 L399.32,103.28 L400,102.83 L400.62,102.71 L401.25,101.82 L401.88,101.83 L402.5,101.33 L403.12,100.87 L403.75,100.62 L404.38,100.21 L405,99.3 L405.73,99.16 L406.49,99.23 L407.25,99.03 L408,98.86 L408.72,98.63 L409.39,98.42 L410,97.57 L410.39,97.14 L410.76,96.6 L411.1,96.06 L411.43,95.36 L411.73,94.53 L412.02,93.73 L412.29,93.17 L412.54,92.2 L412.78,91.69 L413,91.69 L413.84,90.42 L414.3,89.81" fill="none" stroke="#dc2e26" stroke-width="1.0" stroke-linejoin="round" stroke-linecap="round" opacity="1" clip-path="url(#c10)"/>
<path d="M237.5,129.84 L237.86,129.78 L238.25,129.89 L238.65,130.12 L239.07,130.08 L239.52,129.62 L239.98,130 L240.46,130.18 L240.97,129.86 L241.49,129.81 L242.02,129.72 L242.58,129.8 L243.15,130.17 L243.73,129.82 L244.34,129.77 L244.95,129.86 L245.59,130.16 L246.23,129.63 L246.89,129.63 L247.57,130.04 L248.25,129.65 L248.95,129.78 L249.66,129.88 L250.39,129.9 L251.12,129.82 L251.86,130.03 L252.62,129.81 L253.38,129.99 L254.16,130.17 L254.94,130.09 L255.73,130.17 L256.52,129.72 L257.33,129.89 L258.14,130.02 L258.96,129.85 L259.78,129.84 L260.61,129.71 L261.45,129.87 L262.29,130.22 L263.13,129.9 L263.97,129.7 L264.82,129.87 L265.67,129.67 L266.53,130.12 L267.38,129.79 L268.24,130.02 L269.1,130.24 L269.96,129.97 L270.81,130.23 L271.67,129.99 L272.53,129.78 L273.38,129.95 L274.23,129.72 L275.08,130.05 L275.93,129.93 L276.77,130.04 L277.61,129.81 L278.44,129.89 L279.27,130.22 L280.1,130.1 L280.92,130.12 L281.73,129.9 L282.53,129.9 L283.33,129.99 L284.12,129.8 L284.9,130.22 L285.68,129.88 L286.44,129.82 L287.19,129.84 L287.94,129.96 L288.67,129.93 L289.4,130.27 L290.11,130.14 L290.81,130.12 L291.5,130.32 L292.17,129.99 L292.83,129.96 L293.48,130.24 L294.11,130.14 L294.73,130.09 L295.33,129.88 L295.92,130.32 L296.49,130.25 L297.05,130.02 L297.58,130.37 L298.1,130.05 L298.61,130 L299.09,130.35 L299.55,129.95 L300,129.95 L301.74,130.06 L303.28,130.28 L304.64,130.31 L305.82,130.57 L306.85,130.65 L307.75,130.71 L308.52,130.43 L309.18,130.55 L309.75,130.44 L310.25,130.49 L310.68,130.71 L311.06,130.72 L311.42,130.65 L311.76,130.95 L312.1,131.08 L312.45,131.34 L312.84,131.01 L313.27,131.5 L313.77,131.13 L314.34,131.39 L315,131.3 L315.72,131.81 L316.45,131.5 L317.19,131.69 L317.93,131.64 L318.68,132.22 L319.43,132.33 L320.19,132.04 L320.94,132.45 L321.69,132.25 L322.44,132.84 L323.18,132.76 L323.92,132.59 L324.65,132.76 L325.37,133.25 L326.08,133.23 L326.77,133.35 L327.45,133.21 L328.12,133.76 L328.77,133.88 L329.39,133.9 L330,134.07 L330.87,133.72 L331.69,133.97 L332.47,134.31 L333.22,134.46 L333.94,134.43 L334.64,134.71 L335.31,134.29 L335.98,134.52 L336.63,134.77 L337.29,134.95 L337.95,135.08 L338.62,135.24 L339.3,135.05 L340,135.55 L340.72,135.65 L341.46,135.92 L342.22,135.94 L342.97,135.87 L343.74,136.56 L344.5,136.33 L345.25,136.85 L345.99,137.09 L346.72,137.51 L347.43,137.72 L348.12,138.07 L348.78,137.77 L349.41,138.56 L350,138.74 L350.84,138.78 L351.6,138.96 L352.3,139.54 L352.94,139.78 L353.55,140.09 L354.15,140.65 L354.74,140.82 L355.36,140.87 L356,140.86 L356.76,141.48 L357.55,141.66 L358.34,142.08 L359.12,142.1 L359.9,142.07 L360.64,142.36 L361.35,142.52 L362,142.43 L362.78,142.05 L363.48,141.57 L364.12,141.2 L364.74,140.69 L365.36,140.17 L366,139.86 L366.4,139.17 L366.78,138.33 L367.17,137.79 L367.55,137.42 L367.94,136.97 L368.33,136.26 L368.73,135.52 L369.14,134.66 L369.56,133.73 L370,133.19 L370.38,132.79 L370.78,131.82 L371.18,131.08 L371.59,130.67 L372.01,129.76 L372.44,129.13 L372.87,128.37 L373.3,127.75 L373.73,127.37 L374.16,126.87 L374.58,126.41 L375,125.42 L375.62,125.35 L376.25,124.47 L376.88,123.88 L377.5,123.6 L378.12,123.42 L378.75,123.18 L379.38,122.63 L380,122.35 L380.71,122.13 L381.43,121.98 L382.14,121.65 L382.86,120.86 L383.57,121.07 L384.29,120.47 L385,120.51 L385.71,119.98 L386.43,119.67 L387.14,119.88 L387.86,119.46 L388.57,119.52 L389.29,119.05 L390,118.86 L390.62,118.6 L391.25,118.13 L391.88,117.74 L392.5,117.66 L393.12,117.21 L393.75,116.63 L394.38,116.14 L395,115.87 L395.62,115.4 L396.25,115.23 L396.88,114.92 L397.5,114.3 L398.12,113.82 L398.75,113.79 L399.38,113.3 L400,112.88 L400.62,112.47 L401.25,111.71 L401.88,111.46 L402.5,111.41 L403.12,110.73 L403.75,110.17 L404.38,109.85 L405,109.58 L405.64,109.31 L406.3,108.86 L406.96,108.3 L407.62,107.81 L408.27,107.46 L408.89,107.4 L409.47,106.81 L410,106.59 L410.55,106.03 L411.05,105.45 L411.51,104.68 L411.94,103.82 L412.33,103.25 L412.68,102.78 L413,101.97 L413.48,101.14 L413.84,100.25 L414.11,99.41 L414.3,99.05" fill="none" stroke="#54a82c" stroke-width="1.0" stroke-linejoin="round" stroke-linecap="round" opacity="1" clip-path="url(#c10)"/>
<path d="M237.5,142.79 L237.86,143.08 L238.25,143 L238.66,142.63 L239.09,143.01 L239.54,142.62 L240.02,142.61 L240.51,142.66 L241.03,142.91 L241.57,143.05 L242.12,142.78 L242.69,142.99 L243.29,143.13 L243.89,142.86 L244.52,143.09 L245.16,142.87 L245.82,142.95 L246.49,142.57 L247.17,142.64 L247.87,142.7 L248.58,143.13 L249.31,142.93 L250.04,142.98 L250.79,142.95 L251.55,143.03 L252.31,142.88 L253.09,142.71 L253.88,142.61 L254.67,142.67 L255.47,142.9 L256.28,143.16 L257.09,142.99 L257.91,142.63 L258.74,143.08 L259.57,142.87 L260.4,142.64 L261.24,143.15 L262.08,142.84 L262.92,142.93 L263.76,142.7 L264.61,142.81 L265.45,143.12 L266.3,143.12 L267.14,143.05 L267.98,143.16 L268.82,143.16 L269.66,143.15 L270.49,142.69 L271.32,142.64 L272.14,142.89 L272.96,142.79 L273.78,142.96 L274.58,143.03 L275.38,142.79 L276.18,143.12 L276.96,143.09 L277.74,142.69 L278.5,143.11 L279.26,142.95 L280.01,143.14 L280.74,143.19 L281.46,143.13 L282.17,142.9 L282.87,143.03 L283.55,142.8 L284.22,143.37 L284.88,143.11 L285.52,143.35 L286.14,142.96 L286.75,143.01 L287.33,142.99 L287.91,143.32 L288.46,143.03 L288.99,143.31 L289.51,142.98 L290,143.47 L291.25,143.49 L292.43,143.24 L293.53,143.48 L294.56,143.34 L295.53,143.21 L296.44,143.59 L297.29,143.51 L298.08,143.58 L298.83,143.74 L299.54,143.81 L300.21,143.75 L300.85,143.72 L301.45,144.11 L302.03,143.72 L302.59,144.3 L303.13,144.05 L303.67,144.35 L304.19,144.5 L304.71,144.15 L305.23,144.17 L305.76,144.25 L306.3,144.57 L306.85,144.58 L307.43,145 L308.02,144.81 L308.65,145.01 L309.31,145.1 L310,144.77 L310.72,145.33 L311.44,145.43 L312.17,145.42 L312.9,145.35 L313.64,145.42 L314.38,145.57 L315.12,145.46 L315.86,145.7 L316.6,145.86 L317.35,145.46 L318.09,145.94 L318.83,145.78 L319.57,145.77 L320.31,146.36 L321.05,146.12 L321.78,146.06 L322.5,146.38 L323.23,146.42 L323.94,146.55 L324.65,146.29 L325.35,146.52 L326.05,146.97 L326.73,146.62 L327.41,146.92 L328.07,147.13 L328.73,146.86 L329.37,146.87 L330,147.07 L330.83,147.46 L331.64,147.24 L332.45,147.41 L333.24,147.46 L334.02,147.32 L334.8,147.58 L335.56,147.57 L336.3,148.04 L337.04,148.08 L337.77,147.83 L338.48,147.76 L339.18,147.9 L339.88,148.37 L340.56,148.36 L341.22,148.43 L341.88,148.42 L342.53,148.36 L343.16,148.29 L343.79,148.29 L344.4,148.67 L345,148.5 L345.88,148.72 L346.72,148.41 L347.53,148.7 L348.31,148.74 L349.06,148.53 L349.79,148.7 L350.5,148.47 L351.19,148.5 L351.85,148.57 L352.51,148.76 L353.15,148.33 L353.77,148.37 L354.39,148.28 L355,148.39 L355.82,147.91 L356.58,147.96 L357.29,147.78 L357.97,147.54 L358.62,147.75 L359.27,147.58 L359.92,147.35 L360.58,147.08 L361.27,146.74 L362,146.61 L362.63,146.39 L363.28,145.81 L363.93,145.81 L364.59,145.57 L365.26,144.82 L365.94,144.5 L366.62,144.14 L367.3,143.71 L367.98,143.56 L368.66,143.38 L369.33,142.64 L370,142.7 L370.68,141.79 L371.37,141.76 L372.07,141.59 L372.78,140.9 L373.49,140.48 L374.19,140.38 L374.88,139.91 L375.56,139.96 L376.21,139.34 L376.84,139.2 L377.44,139.08 L378,138.33 L378.78,138.18 L379.51,137.21 L380.18,137.1 L380.81,136.58 L381.4,135.56 L381.96,135.45 L382.49,134.98 L383,134.62 L383.75,134.52 L384.25,135.13 L384.88,135.29 L386,135.37 L386.49,135.49 L387.04,135.61 L387.65,135.25 L388.29,135.31 L388.98,135.24 L389.7,134.8 L390.44,134.69 L391.19,134.39 L391.96,134.68 L392.73,134.53 L393.5,133.82 L394.26,134.13 L395,133.53 L395.7,133.42 L396.42,133.31 L397.17,133.1 L397.93,133.49 L398.7,132.88 L399.48,132.75 L400.25,132.78 L401.01,132.29 L401.76,132.12 L402.48,132.12 L403.17,132.05 L403.83,132.22 L404.44,131.78 L405,131.44 L405.99,131.5 L406.85,131.35 L407.6,131.07 L408.26,131.13 L408.86,130.89 L409.43,130.79 L410,130.67 L410.76,129.86 L411.43,129.93 L412.02,129.38 L412.54,128.97 L413,128.59 L413.84,127.41 L414.3,126.83" fill="none" stroke="#e4641c" stroke-width="1.0" stroke-linejoin="round" stroke-linecap="round" opacity="1" clip-path="url(#c10)"/>
<path d="M237.5,12.81 L237.86,12.75 L238.23,12.91 L238.63,12.78 L239.03,12.78 L239.45,12.96 L239.89,13 L240.34,13.01 L240.8,12.86 L241.28,12.8 L241.78,12.97 L242.28,12.77 L242.8,12.83 L243.33,12.94 L243.88,12.76 L244.43,12.76 L245,12.75 L245.58,12.81 L246.18,12.75 L246.78,12.83 L247.39,12.85 L248.02,13.04 L248.65,12.83 L249.3,13.04 L249.95,12.89 L250.62,12.88 L251.29,12.94 L251.97,12.76 L252.66,13.03 L253.36,12.97 L254.07,12.99 L254.79,12.89 L255.51,12.8 L256.24,12.93 L256.98,12.76 L257.72,12.87 L258.47,13.04 L259.22,12.81 L259.99,12.76 L260.75,12.95 L261.53,12.94 L262.31,12.8 L263.09,13.02 L263.87,13.04 L264.67,12.78 L265.46,12.95 L266.26,12.81 L267.06,12.97 L267.87,12.82 L268.67,12.84 L269.48,13.03 L270.3,13 L271.11,12.96 L271.93,12.89 L272.74,12.79 L273.56,12.92 L274.38,12.79 L275.2,12.91 L276.02,12.81 L276.84,12.77 L277.66,12.78 L278.48,12.78 L279.29,12.89 L280.11,12.76 L280.92,12.82 L281.74,12.79 L282.55,12.79 L283.36,12.76 L284.16,13.04 L284.97,12.79 L285.77,12.81 L286.57,13 L287.36,12.79 L288.15,12.91 L288.93,12.79 L289.71,12.79 L290.49,12.96 L291.26,12.88 L292.02,12.96 L292.78,13.01 L293.54,12.77 L294.28,12.92 L295.02,12.83 L295.76,12.92 L296.48,12.85 L297.2,12.82 L297.91,12.86 L298.62,13.05 L299.31,12.78 L300,12.97 L300.73,12.9 L301.46,12.84 L302.2,12.75 L302.94,12.76 L303.69,12.92 L304.45,12.93 L305.21,12.84 L305.97,12.99 L306.74,12.85 L307.52,12.98 L308.29,12.78 L309.08,13.03 L309.86,12.9 L310.65,12.78 L311.44,12.73 L312.23,12.88 L313.03,12.76 L313.83,12.77 L314.63,12.96 L315.43,12.72 L316.24,12.87 L317.04,12.71 L317.85,12.79 L318.66,12.85 L319.47,12.82 L320.27,12.88 L321.08,12.73 L321.89,12.8 L322.7,12.93 L323.5,12.88 L324.31,12.9 L325.11,12.84 L325.92,12.84 L326.72,12.71 L327.52,12.81 L328.31,12.67 L329.11,12.8 L329.9,12.75 L330.69,12.83 L331.47,12.81 L332.25,12.84 L333.03,12.88 L333.81,12.88 L334.57,12.73 L335.34,12.59 L336.1,12.58 L336.86,12.71 L337.61,12.71 L338.35,12.79 L339.09,12.62 L339.82,12.73 L340.55,12.8 L341.27,12.59 L341.98,12.69 L342.69,12.77 L343.39,12.58 L344.08,12.8 L344.76,12.7 L345.44,12.57 L346.11,12.65 L346.77,12.6 L347.42,12.58 L348.06,12.75 L348.69,12.77 L349.31,12.71 L349.93,12.69 L350.53,12.64 L351.12,12.7 L351.7,12.87 L352.27,12.77 L352.83,12.7 L353.38,12.73 L353.92,12.77 L354.45,12.85 L354.96,12.83 L355.46,12.91 L355.95,12.92 L356.43,12.91 L356.89,12.84 L357.34,12.9 L357.78,12.77 L358.2,12.95 L358.61,12.79 L359,12.94 L361.99,12.98 L363.9,13.35 L364.93,13.5 L365.31,13.79 L365.25,14.24 L364.97,14.65 L364.69,14.92 L364.63,15.06 L365,15.48 L365.66,15.88 L366.33,16.16 L367,16.32 L367.67,16.6 L368.34,16.86 L369,17.3 L369.64,17.58 L370.28,17.92 L370.9,18.52 L371.44,18.88 L371.97,19.36 L372.49,19.7 L373,20.27 L373.5,20.76 L374,21.42 L374.5,22.06 L374.99,22.72 L375.49,23.37 L376,24 L376.38,24.46 L376.75,25.11 L377.1,25.76 L377.44,26.32 L377.79,26.97 L378.14,27.64 L378.49,28.45 L378.86,29.04 L379.25,29.56 L379.66,30.14 L380.11,30.73 L380.58,31.36 L381.1,31.66 L381.66,31.96 L382.25,32.5 L382.87,32.72 L383.52,32.95 L384.19,33.05 L384.88,33.14 L385.59,33.46 L386.31,33.56 L387.04,33.85 L387.78,33.74 L388.52,34.15 L389.26,34.28 L390,34.45 L390.65,34.65 L391.33,34.91 L392.03,35 L392.75,35.23 L393.48,35.25 L394.21,35.55 L394.95,35.66 L395.68,36.03 L396.4,36.14 L397.1,36.24 L397.78,36.66 L398.44,36.88 L399.07,37.14 L399.65,37.25 L400.2,37.35 L400.94,37.78 L401.6,38.36 L402.2,38.78 L402.75,39.2 L403.26,39.48 L403.74,40.09 L404.21,40.68 L404.69,41.07 L405.18,41.65 L405.7,41.88 L406.25,42.52 L406.82,43.07 L407.39,43.62 L407.96,44.15 L408.53,44.85 L409.08,45.33 L409.61,45.84 L410.12,46.5 L410.58,46.87 L411,47.46 L411.53,48.23 L412,48.61 L412.41,49.44 L412.77,49.86 L413.08,50.34 L413.36,51.23 L413.6,51.97 L413.73,52.63 L413.84,53.22 L413.92,54.19 L413.99,55.09 L414.04,55.76 L414.08,56.63 L414.11,57.64 L414.13,58.43 L414.15,59.06 L414.18,59.69 L414.2,59.99" fill="none" stroke="#141414" stroke-width="1.0" stroke-linejoin="round" stroke-linecap="round" opacity="1" clip-path="url(#c10)"/>
<path d="M414.2,58 L414.2,151" fill="none" stroke="#141414" stroke-width="1.2" stroke-linejoin="round" stroke-linecap="round" opacity="1" clip-path="url(#c10)"/>
<rect x="419.6" y="6" width="7.6" height="78" fill="#e8c4e8" opacity="0.6" clip-path="url(#c10)"/>
<path d="M423.06,6 L423.06,73.47" fill="none" stroke="#dcaadc" stroke-width="0.6807329282398261" stroke-linejoin="round" stroke-linecap="round" opacity="0.8" clip-path="url(#c10)"/>
<path d="M425.96,6 L425.96,61.27" fill="none" stroke="#c888c8" stroke-width="0.6903052944835505" stroke-linejoin="round" stroke-linecap="round" opacity="0.8" clip-path="url(#c10)"/>
<path d="M424.22,6 L424.22,61.14" fill="none" stroke="#dcaadc" stroke-width="0.6213605050498102" stroke-linejoin="round" stroke-linecap="round" opacity="0.8" clip-path="url(#c10)"/>
<path d="M420.45,6 L420.45,81.72" fill="none" stroke="#c888c8" stroke-width="0.7537811131533394" stroke-linejoin="round" stroke-linecap="round" opacity="0.8" clip-path="url(#c10)"/>
<path d="M424.09,6 L424.09,68.07" fill="none" stroke="#dcaadc" stroke-width="0.7615690134135362" stroke-linejoin="round" stroke-linecap="round" opacity="0.8" clip-path="url(#c10)"/>
<path d="M424.23,6 L424.23,60.2" fill="none" stroke="#d090d0" stroke-width="0.8326806501399913" stroke-linejoin="round" stroke-linecap="round" opacity="0.8" clip-path="url(#c10)"/>
<path d="M420.25,6 L420.25,56.18" fill="none" stroke="#d090d0" stroke-width="0.7398472339811402" stroke-linejoin="round" stroke-linecap="round" opacity="0.8" clip-path="url(#c10)"/>
<path d="M425.4,6 L425.4,65.77" fill="none" stroke="#c888c8" stroke-width="0.8369708514074128" stroke-linejoin="round" stroke-linecap="round" opacity="0.8" clip-path="url(#c10)"/>
<path d="M423.54,6 L423.54,76.13" fill="none" stroke="#dcaadc" stroke-width="0.5018375088645504" stroke-linejoin="round" stroke-linecap="round" opacity="0.8" clip-path="url(#c10)"/>
<path d="M420.41,6 L420.41,76.61" fill="none" stroke="#dcaadc" stroke-width="0.8990624801852338" stroke-linejoin="round" stroke-linecap="round" opacity="0.8" clip-path="url(#c10)"/>
<path d="M416.2,6 L416.2,125" fill="none" stroke="#f2aaaa" stroke-width="1.3" stroke-linejoin="round" stroke-linecap="round" opacity="0.95" clip-path="url(#c10)"/>
<path d="M420.6,17 L420.6,46" fill="none" stroke="#86188c" stroke-width="1.2" stroke-linejoin="round" stroke-linecap="round" opacity="1" clip-path="url(#c10)"/>
<path d="M419.1,6 L419.1,40" fill="none" stroke="#c040c0" stroke-width="0.8" stroke-linejoin="round" stroke-linecap="round" opacity="0.9" clip-path="url(#c10)"/>
<path d="M423.3,6 L423.3,42" fill="none" stroke="#86188c" stroke-width="1.0" stroke-linejoin="round" stroke-linecap="round" opacity="0.95" clip-path="url(#c10)"/>
<path d="M425.6,6 L425.6,36" fill="none" stroke="#b030b0" stroke-width="0.9" stroke-linejoin="round" stroke-linecap="round" opacity="0.9" clip-path="url(#c10)"/>
<path d="M427.1,6 L427.1,30" fill="none" stroke="#86188c" stroke-width="1.0" stroke-linejoin="round" stroke-linecap="round" opacity="0.95" clip-path="url(#c10)"/>
<path d="M416.6,6 L416.6,60" fill="none" stroke="#f0a8a8" stroke-width="0.9" stroke-linejoin="round" stroke-linecap="round" opacity="0.9" clip-path="url(#c10)"/>
<path d="M423.7,6 L423.7,30 L423.6,60" fill="none" stroke="#9a3a9a" stroke-width="0.9" stroke-linejoin="round" stroke-linecap="round" opacity="0.9" clip-path="url(#c10)"/>
<path d="M426.5,20 L426.5,42" fill="none" stroke="#86188c" stroke-width="1.0" stroke-linejoin="round" stroke-linecap="round" opacity="0.9" clip-path="url(#c10)"/>
<path d="M423,37.19 L424.27,36.5 L425.12,35.35 L425.96,34.97 L427.17,35.76 L428.45,35.73 L429.81,36.83 L430.41,35.3 L431.74,35.93 L433.13,35.75 L433.78,36.31" fill="none" stroke="#86188c" stroke-width="1.2" stroke-linejoin="round" stroke-linecap="round" opacity="1" clip-path="url(#c10)"/>
<path d="M427,44.63 L427.67,44.73 L429.04,45.41 L429.74,44.59 L430.42,44.3 L431.65,44.48 L432.7,44.92 L433.45,45.37" fill="none" stroke="#54a82c" stroke-width="1.1" stroke-linejoin="round" stroke-linecap="round" opacity="1" clip-path="url(#c10)"/>
<path d="M414.8,48 L415.5,45.72 L416.3,39.4 L417.1,43.05 L417.9,40.55 L418.7,41.24 L419.5,49.65 L420.3,47.64 L421.1,41.65 L421.9,48.62 L422.7,40.53 L423.5,42.73 L424.3,48.25 L425.1,45.7 L425.9,39.2 L426.7,49.87 L427.5,40.56 L428.3,41.1 L429.1,47.27 L429.9,41.95 L430.7,41.56 L431.5,38.88 L432.3,39.08 L433.1,44.99 L433.9,40.92" fill="none" stroke="#54a82c" stroke-width="1.1" stroke-linejoin="round" stroke-linecap="round" opacity="1" clip-path="url(#c10)"/>
<path d="M428.2,24 L428.2,58" fill="none" stroke="#54a82c" stroke-width="1.0" stroke-linejoin="round" stroke-linecap="round" opacity="0.9" clip-path="url(#c10)"/>
<path d="M414.6,44 L416.64,42.46 L416.14,49.51 L416.24,44.89 L417.55,40.19 L415.12,48.9 L417.38,40.99 L415.25,46.87 L417.8,40.36 L417.83,48.59 L416.65,43.06" fill="none" stroke="#dc2e26" stroke-width="1.3" stroke-linejoin="round" stroke-linecap="round" opacity="1" clip-path="url(#c10)"/>
<path d="M415.2,102.48 L415.85,105.19 L416.5,98.19 L417.15,106.19 L417.8,99.48 L418.45,106.28 L419.1,98.88 L419.75,107.98 L420.4,101.53 L421.05,105.88 L421.7,99.4 L422.35,105.34 L423,101.86 L423.65,107.8 L424.3,98.74 L424.95,108.07 L425.6,101.6 L426.25,109.59 L426.9,101.98 L427.55,105.08 L428.2,101.65 L428.85,107.23 L429.5,102.7 L430.15,105.88 L430.8,101.16" fill="none" stroke="#e4641c" stroke-width="0.9" stroke-linejoin="round" stroke-linecap="round" opacity="0.95" clip-path="url(#c10)"/>
<path d="M424.8,95 L424.8,118" fill="none" stroke="#d8a0d8" stroke-width="1.0" stroke-linejoin="round" stroke-linecap="round" opacity="0.8" clip-path="url(#c10)"/>
<path d="M427,88 L427,112" fill="none" stroke="#e4641c" stroke-width="1.1" stroke-linejoin="round" stroke-linecap="round" opacity="1" clip-path="url(#c10)"/>
<path d="M424.5,95 L424.5,110" fill="none" stroke="#e4641c" stroke-width="1.0" stroke-linejoin="round" stroke-linecap="round" opacity="0.8" clip-path="url(#c10)"/>
<path d="M417.5,125.95 L418.4,149.46 L419.3,123.16 L420.2,159.71 L421.1,128.51 L422,156.35 L422.9,128.19 L423.8,151.75 L424.7,130.51 L425.6,154.65 L426.5,131.16" fill="none" stroke="#a0a0a0" stroke-width="0.8" stroke-linejoin="round" stroke-linecap="round" opacity="0.9" clip-path="url(#c10)"/>
<path d="M415,113 L416.5,122 L417.5,118 L418.5,130 L419,133.62 L419.8,150.07 L420.6,131.39 L421.4,141.86 L422.2,128.5 L423,148.68 L423.8,128.68 L424.6,147.86 L425.4,133.21" fill="none" stroke="#141414" stroke-width="0.9" stroke-linejoin="round" stroke-linecap="round" opacity="1" clip-path="url(#c10)"/>
<path d="M427.3,124 L427.3,162.5" fill="none" stroke="#141414" stroke-width="1.1" stroke-linejoin="round" stroke-linecap="round" opacity="1" clip-path="url(#c10)"/>
<path d="M459.5,78.68 L459.87,79.04 L460.29,78.67 L460.75,79.08 L461.24,79.07 L461.77,78.75 L462.34,79 L462.93,79 L463.56,78.69 L464.22,78.96 L464.9,78.68 L465.61,79.07 L466.35,78.95 L467.1,79.09 L467.88,78.63 L468.67,78.75 L469.49,78.9 L470.31,78.89 L471.15,78.67 L472,79.01 L472.86,78.99 L473.72,78.71 L474.6,78.63 L475.47,78.88 L476.35,78.75 L477.23,78.87 L478.11,78.78 L478.98,78.73 L479.85,78.54 L480.71,78.59 L481.56,78.75 L482.41,78.89 L483.24,78.74 L484.05,78.9 L484.85,78.8 L485.64,78.97 L486.4,78.86 L487.14,78.7 L487.86,78.61 L488.56,78.58 L489.23,78.57 L489.87,78.99 L490.48,79.01 L491.05,78.95 L491.6,78.65 L492.11,78.93 L492.58,78.68 L493.01,79.08 L493.4,78.98 L496.31,79.42 L495.63,79.94 L495,80.56 L495.45,81.4 L495.91,82.18 L496.42,82.57 L497,83.37 L497.56,84.06 L498.2,84.6 L498.86,85 L499.48,85.5 L500,86.13 L500.88,86.35 L501.5,86.46 L502.5,85.79 L502.69,86.08 L502.88,87.22 L503.06,87.85 L503.27,88.92 L503.5,89.04 L503.94,89 L504.44,88.02 L505,87.02 L505.35,86.2 L505.72,85.56 L506.1,84.87 L506.53,84.35 L507,84.08 L507.68,83.3 L508.44,83.02 L509.23,82.81 L510,82.13 L510.6,81.72 L511.2,81.11 L511.8,80.74 L512.4,79.84 L513,79.65 L513.5,78.91 L514,78.41 L514.5,77.76 L515,77.15 L515.5,76.81 L516,76.2 L516.52,75.59 L517.07,74.62 L517.62,74.33 L518.15,73.93 L518.62,73.22 L519,72.61 L519.3,71.99 L519.38,71.18 L519.52,70.73 L520,69.64 L520.25,68.83 L520.55,68.52 L520.88,68 L521.24,67.26 L521.63,66.78 L522.04,66.23 L522.46,65.54 L522.89,64.56 L523.33,63.8 L523.76,63.49 L524.19,62.73 L524.6,62.23 L525,61.68 L525.45,60.76 L525.91,60.29 L526.36,59.55 L526.82,59.2 L527.27,58.58 L527.73,57.79 L528.18,57.39 L528.64,56.93 L529.09,56.26 L529.55,55.77 L530,55.49 L530.62,54.74 L531.25,54.46 L531.88,54.24 L532.5,53.78 L533.12,53.03 L533.75,53.08 L534.38,52.71 L535,52.4 L535.69,51.76 L536.34,51.88 L536.99,51.39 L537.65,51.51 L538.35,51.1 L539.13,50.94 L540,50.64 L540.61,50.84 L541.27,50.37 L541.97,50.54 L542.69,50.21 L543.43,49.88 L544.19,49.98 L544.96,49.76 L545.74,49.37 L546.5,49.62 L547.26,49.21 L548,48.96 L548.7,49.22 L549.37,49.1 L550.02,48.84 L550.66,48.66 L551.3,48.75 L551.96,48.7 L552.65,48.67 L553.39,48.48 L554.18,48.41 L555.05,48.36 L556,47.94 L556.57,47.85 L557.18,47.9 L557.83,47.93 L558.51,47.84 L559.22,47.75 L559.95,47.42 L560.7,47.44 L561.46,47 L562.23,47.01 L563,46.72 L563.77,46.97 L564.54,46.92 L565.3,46.62 L566.05,46.54 L566.78,46.22 L567.49,46.3 L568.17,45.83 L568.82,45.85 L569.43,45.73 L570,45.88 L570.97,45.34 L571.87,45.14 L572.72,44.9 L573.52,45.08 L574.27,44.62 L574.97,44.73 L575.64,44.27 L576.27,44.4 L576.87,43.96 L577.45,44.24 L578,44.24 L578.9,44.24 L579.63,44.35 L580.25,44.73 L580.81,45.04 L581.38,45.34 L582,45.19 L582.77,45.61 L583.5,45.67 L584.26,45.5 L585.07,45.4 L586,45.7 L586.67,45.4 L587.43,45.29 L588.24,45.31 L589.06,44.92 L589.88,44.62 L590.66,44.66 L591.38,44.43 L592,44.19 L592.68,44.33 L592.94,44.48 L593.48,44.13 L595,44.16 L595.46,44.04 L595.96,43.82 L596.51,43.54 L597.11,43.65 L597.74,43.32 L598.41,43.17 L599.11,43.32 L599.84,42.87 L600.59,42.62 L601.36,42.83 L602.14,42.73 L602.94,42.21 L603.75,42.09 L604.56,41.98 L605.36,41.91 L606.17,41.37 L606.97,41.51 L607.75,41.14 L608.52,41.32 L609.27,40.91 L610,41.02 L610.71,40.63 L611.43,40.58 L612.14,40.13 L612.86,40.07 L613.57,39.97 L614.29,39.87 L615,39.63 L615.71,39.61 L616.43,39.3 L617.14,39.4 L617.86,39.46 L618.57,39.27 L619.29,39.01 L620,39.05 L620.71,38.78 L621.43,38.59 L622.14,38.36 L622.86,38.03 L623.57,38.29 L624.29,38.15 L625,37.95 L625.71,37.75 L626.43,37.66 L627.15,37.58 L627.86,37.43 L628.58,37.18 L629.3,36.64 L630.02,36.95 L630.74,36.61 L631.45,36.39 L632.17,36.23 L632.89,35.99 L633.61,35.71 L634.32,35.85 L635.04,35.7 L635.75,35.28 L636.46,35.54 L637.17,35.38 L637.88,35.22 L638.59,34.9 L639.3,34.68 L640,34.59 L640.72,34.39 L641.46,34.54 L642.22,34.37 L643.01,34.21 L643.8,33.87 L644.6,33.72 L645.41,33.66 L646.21,33.31 L647.01,33.11 L647.8,33.36 L648.57,32.86 L649.33,32.73 L650.06,32.71 L650.76,32.38 L651.43,32.47 L652.06,32.18 L652.65,32.4 L653.19,31.93 L653.69,32.2 L654.12,31.85 L654.5,32.04" fill="none" stroke="#86188c" stroke-width="1.5" stroke-linejoin="round" stroke-linecap="round" opacity="1" clip-path="url(#c20)"/>
<path d="M459.5,96.33 L459.87,96.4 L460.29,96.06 L460.75,96.41 L461.24,96.04 L461.78,96.13 L462.34,95.98 L462.94,96.19 L463.57,96.01 L464.23,96.22 L464.92,96.38 L465.63,96.32 L466.37,96.26 L467.13,96.01 L467.91,96.4 L468.71,96.13 L469.52,96.38 L470.35,96.03 L471.19,96.09 L472.05,96.38 L472.91,96.29 L473.78,96.04 L474.65,96.16 L475.53,96.19 L476.41,96.07 L477.29,96.05 L478.17,95.99 L479.05,96.18 L479.92,96.13 L480.78,96.11 L481.64,96.16 L482.48,96.1 L483.31,96.12 L484.13,96.29 L484.93,96.02 L485.71,95.99 L486.47,96.15 L487.21,96.08 L487.93,96.16 L488.62,96.33 L489.28,96.37 L489.92,96.32 L490.52,96.37 L491.1,96.06 L491.63,96.12 L492.13,96.02 L492.6,96.1 L493.02,96.09 L493.4,96.09 L494,96.53 L494.12,97.39 L494.23,98.01 L494.34,99.14 L494.5,100.01 L494.62,100.76 L494.75,101.44 L494.89,102.17 L495.05,103.09 L495.2,103.71 L495.35,104.42 L495.5,104.98 L495.69,105.89 L495.88,107.02 L496.06,107.92 L496.27,108.52 L496.5,109.3 L496.94,108.77 L497.44,108.2 L498,107.29 L498.46,106.82 L498.97,106.43 L499.49,105.89 L500,105.06 L500.51,104.63 L501.03,104.14 L501.54,103.33 L502,102.85 L502.54,102.34 L503.02,102.03 L503.5,101.01 L503.74,100.67 L503.98,99.62 L504.22,99.04 L504.46,98.18 L504.72,97.12 L505,96.52 L505.35,95.97 L505.72,95.05 L506.1,94.21 L506.53,93.73 L507,93.12 L507.54,92.49 L508.13,91.92 L508.75,91.62 L509.38,90.96 L510,90.28 L510.5,89.75 L511,89.35 L511.5,88.56 L512,88.09 L512.5,87.62 L513,86.72 L513.43,86.21 L513.86,85.62 L514.29,85.33 L514.71,84.82 L515.14,84.18 L515.57,83.56 L516,82.69 L516.45,82.19 L516.92,81.52 L517.39,80.74 L517.85,79.98 L518.29,79.35 L518.68,78.68 L519,78.11 L519.5,77.53 L520,76.59 L520.4,76.26 L520.89,75.63 L521.44,75.13 L522,74.38 L522.53,73.6 L523,72.78 L523.42,72.5 L523.73,72.01 L524.03,71.47 L524.42,71.03 L525,70 L525.34,69.49 L525.73,69.03 L526.15,68.27 L526.6,67.9 L527.07,67.05 L527.56,66.65 L528.06,65.97 L528.56,65.36 L529.05,64.52 L529.53,64.15 L530,63.69 L530.5,63.13 L531,62.45 L531.5,61.6 L532,61.31 L532.5,60.5 L533,60.32 L533.5,59.39 L534,58.89 L534.5,58.6 L535,58.01 L535.61,57.9 L536.2,57.46 L536.79,56.78 L537.38,56.68 L537.98,56.1 L538.61,55.95 L539.28,55.26 L540,55.19 L540.55,54.64 L541.12,54.2 L541.71,53.93 L542.31,53.36 L542.93,53 L543.57,52.82 L544.22,52.49 L544.89,52.3 L545.58,51.72 L546.28,51.28 L547,50.9 L547.61,50.51 L548.22,50.65 L548.84,50.32 L549.46,49.9 L550.09,49.9 L550.73,49.65 L551.4,49.4 L552.08,49.07 L552.8,49 L553.54,48.74 L554.32,48.35 L555.14,47.75 L556,47.48 L556.53,47.31 L557.08,47.18 L557.65,46.7 L558.23,46.39 L558.82,45.9 L559.43,45.58 L560.05,45.34 L560.68,45.19 L561.32,44.64 L561.97,44.53 L562.62,44.13 L563.29,43.61 L563.95,43.36 L564.63,43.14 L565.3,42.43 L565.97,42.34 L566.65,42.05 L567.33,41.8 L568,41.18 L568.67,40.99 L569.34,40.74 L570,40.21 L570.64,40.13 L571.29,39.83 L571.94,39.62 L572.61,39.09 L573.29,38.66 L573.97,38.55 L574.65,38.33 L575.34,38.14 L576.03,37.78 L576.72,37.41 L577.41,37.26 L578.09,36.98 L578.77,36.6 L579.45,36.18 L580.11,35.8 L580.77,35.8 L581.42,35.3 L582.05,35.21 L582.68,35.25 L583.28,34.71 L583.87,34.68 L584.45,34.5 L585,34.12 L585.86,33.96 L586.65,33.83 L587.38,33.54 L588.08,33.18 L588.74,33.31 L589.37,33.02 L590,32.69 L590.63,32.8 L591.26,32.65 L591.92,32.55 L592.62,32.37 L593.35,32.17 L594.14,31.79 L595,31.71 L595.58,31.55 L596.18,31.4 L596.79,30.95 L597.42,31.1 L598.07,30.73 L598.73,30.68 L599.4,30.3 L600.09,30.21 L600.78,29.92 L601.48,29.56 L602.19,29.43 L602.9,29.36 L603.62,28.9 L604.34,28.97 L605.05,28.66 L605.77,28.47 L606.49,28.14 L607.21,28.01 L607.91,27.76 L608.62,27.46 L609.31,27.08 L610,27.13 L610.68,26.99 L611.36,26.74 L612.05,26.49 L612.73,26.36 L613.41,25.99 L614.09,26.04 L614.77,25.6 L615.45,25.45 L616.14,25.25 L616.82,25.45 L617.5,25.25 L618.18,24.95 L618.86,24.91 L619.55,24.41 L620.23,24.43 L620.91,24.17 L621.59,23.83 L622.27,23.86 L622.95,23.48 L623.64,23.37 L624.32,23.13 L625,22.99 L625.68,23.09 L626.37,22.73 L627.05,22.57 L627.73,22.21 L628.42,22.03 L629.1,21.82 L629.79,21.9 L630.48,21.66 L631.16,21.55 L631.85,21.29 L632.53,20.96 L633.22,20.84 L633.9,20.64 L634.58,20.7 L635.26,20.41 L635.95,20.28 L636.62,20.02 L637.3,19.96 L637.98,19.69 L638.66,19.16 L639.33,19.01 L640,18.8 L640.72,18.97 L641.46,18.45 L642.22,18.34 L643.01,18.17 L643.8,17.78 L644.6,17.56 L645.41,17.59 L646.21,17.04 L647.01,17.09 L647.8,16.7 L648.57,16.56 L649.33,16.21 L650.06,16.11 L650.76,15.91 L651.43,15.59 L652.06,15.34 L652.65,15.22 L653.19,15.2 L653.69,14.73 L654.12,14.68 L654.5,14.63" fill="none" stroke="#dc2e26" stroke-width="1.4" stroke-linejoin="round" stroke-linecap="round" opacity="1" clip-path="url(#c20)"/>
<path d="M459.5,103.09 L460.21,103 L460.93,102.88 L461.64,103.17 L462.35,103.03 L463.07,103.17 L463.78,102.95 L464.49,103.2 L465.21,103.04 L465.92,102.93 L466.63,102.85 L467.35,103.13 L468.06,102.86 L468.77,103.14 L469.49,103.14 L470.2,102.84 L470.91,103.1 L471.63,103.09 L472.34,102.82 L473.05,103.11 L473.77,103.2 L474.48,102.93 L475.19,103.01 L475.91,102.96 L476.62,102.88 L477.33,102.85 L478.05,103.07 L478.76,103.21 L479.47,102.84 L480.19,102.79 L480.9,103.02 L481.61,102.9 L482.33,103.16 L483.04,102.91 L483.75,102.79 L484.47,102.92 L485.18,102.96 L485.89,102.97 L486.61,102.96 L487.32,102.91 L488.03,103.2 L488.75,102.79 L489.46,102.88 L490.17,103.14 L490.89,102.87 L491.6,102.87" fill="none" stroke="#54a82c" stroke-width="1.4" stroke-linejoin="round" stroke-linecap="round" opacity="1" clip-path="url(#c20)"/>
<path d="M491.7,102.95 L491.7,103.44 L491.7,103.98 L491.7,104.48 L491.7,104.78 L491.7,105.74 L491.7,106.07 L491.7,107.05 L491.7,107.81 L491.71,108.25 L491.71,109.15 L491.71,109.88 L491.71,110.81 L491.72,111.76 L491.73,112.59 L491.74,113.37 L491.75,113.85 L491.76,114.74 L491.78,115.77 L491.8,116.4 L491.82,117.13 L491.85,117.61 L491.87,118.35 L491.9,119.27 L491.93,120.09 L491.97,120.66 L492,121.78 L492.04,122.42 L492.07,123.35 L492.11,124.11 L492.15,124.64 L492.19,125.31 L492.24,126.27 L492.28,126.81 L492.32,127.51 L492.37,128.18 L492.41,128.87 L492.46,129.21 L492.5,129.68 L492.65,131.16 L492.81,131.78 L492.98,132.67 L493.16,133.13 L493.33,133.78 L493.5,134.34 L493.91,135.34 L494.5,135.57 L495.01,135.24 L495.62,135 L496.3,134.14 L497,133.59 L497.57,132.78 L498.16,132.27 L498.78,131.66 L499.39,131.25 L500,130.53 L500.44,130.1 L500.89,129.37 L501.34,128.61 L501.78,127.84 L502.22,127.46 L502.62,126.85 L503,125.92 L503.33,125.27 L503.62,124.71 L503.87,123.99 L504.13,123.5 L504.38,122.74 L504.67,122.11 L505,121.45 L505.38,120.79 L505.78,120.49 L506.22,119.91 L506.66,119.02 L507.11,118.53 L507.56,118.13 L508,117.44 L508.49,116.88 L508.96,116.36 L509.44,115.68 L509.93,115.18 L510.44,114.77 L511,114.29 L511.51,113.41 L512.04,113.29 L512.59,112.47 L513.16,112.22 L513.76,111.43 L514.37,111.07 L515,110.28 L515.42,110.09 L515.85,109.28 L516.29,109.01 L516.74,108.71 L517.21,108 L517.67,107.42 L518.14,106.96 L518.61,106.45 L519.08,105.81 L519.54,105.09 L520,104.37 L520.38,104.07 L520.77,103.34 L521.15,102.91 L521.54,101.98 L521.92,101.29 L522.31,100.68 L522.69,100.23 L523.08,99.47 L523.46,98.61 L523.85,98.17 L524.23,97.65 L524.62,96.78 L525,96.61 L525.62,95.83 L526.25,95.46 L526.88,94.95 L527.5,94.38 L528.12,93.89 L528.75,93.69 L529.38,93.33 L530,92.87 L530.62,92.69 L531.25,92.39 L531.88,91.84 L532.5,91.33 L533.12,91.17 L533.75,90.7 L534.38,90.19 L535,89.82 L535.59,89.55 L536.13,89 L536.66,88.65 L537.19,88.6 L537.76,88 L538.4,87.39 L539.14,86.83 L540,86.41 L540.49,86.13 L541.01,86.1 L541.57,85.45 L542.15,85.45 L542.76,84.92 L543.38,84.71 L544.03,84.25 L544.69,84.06 L545.36,83.7 L546.03,83.19 L546.71,82.7 L547.38,82.32 L548.05,81.9 L548.72,81.57 L549.37,81.39 L550,80.96 L550.62,80.68 L551.25,80.53 L551.88,80.1 L552.5,79.86 L553.12,79.45 L553.75,78.9 L554.38,78.48 L555,78.44 L555.62,77.87 L556.25,77.76 L556.88,77.18 L557.5,77.07 L558.12,76.72 L558.75,76.35 L559.38,76.17 L560,75.79 L560.62,75.24 L561.22,75.02 L561.8,74.64 L562.38,74.28 L562.96,73.87 L563.53,73.52 L564.11,73.35 L564.69,72.76 L565.28,72.57 L565.88,72.26 L566.51,71.89 L567.15,71.65 L567.82,71.36 L568.51,70.9 L569.24,70.39 L570,70.06 L570.58,70.14 L571.19,69.69 L571.83,69.45 L572.49,69.08 L573.17,69.02 L573.87,68.65 L574.58,68.49 L575.3,68.23 L576.03,68.14 L576.76,67.83 L577.5,67.64 L578.24,67.38 L578.97,66.79 L579.7,66.78 L580.42,66.39 L581.13,66.18 L581.83,66.03 L582.51,65.8 L583.17,65.6 L583.81,65.31 L584.42,64.94 L585,65.11 L585.8,64.39 L586.55,64.49 L587.24,64.23 L587.89,63.81 L588.52,63.34 L589.12,63.29 L589.71,62.86 L590.29,62.61 L590.88,62.57 L591.48,62.26 L592.11,61.69 L592.76,61.83 L593.45,61.32 L594.2,61 L595,60.75 L595.58,60.47 L596.18,60.36 L596.79,60.33 L597.42,60.18 L598.07,59.91 L598.73,59.6 L599.4,59.29 L600.09,59.09 L600.78,58.72 L601.48,58.54 L602.19,58.23 L602.9,58.33 L603.62,57.82 L604.34,57.63 L605.05,57.53 L605.77,57.49 L606.49,56.96 L607.21,57.06 L607.91,56.66 L608.62,56.52 L609.31,56.35 L610,56.41 L610.71,56.24 L611.43,55.75 L612.14,55.74 L612.86,55.46 L613.57,55.31 L614.29,55.39 L615,55.17 L615.71,54.98 L616.43,54.75 L617.14,54.65 L617.86,54.56 L618.57,54.58 L619.29,54.21 L620,54.22 L620.71,54.18 L621.43,53.73 L622.14,53.67 L622.86,53.76 L623.57,53.31 L624.29,53.55 L625,53.17 L625.68,53.11 L626.37,52.72 L627.05,52.71 L627.73,52.56 L628.42,52.53 L629.1,52.29 L629.79,51.92 L630.48,51.72 L631.16,51.64 L631.85,51.61 L632.53,51.23 L633.22,51.08 L633.9,50.99 L634.58,50.77 L635.26,50.77 L635.95,50.43 L636.62,50.26 L637.3,50.34 L637.98,50.12 L638.66,50.01 L639.33,49.6 L640,49.66 L640.72,49.39 L641.46,49.27 L642.22,48.99 L643.01,49.09 L643.8,48.92 L644.6,48.59 L645.41,48.38 L646.21,48.17 L647.01,48.12 L647.8,47.87 L648.57,47.77 L649.33,47.69 L650.06,47.65 L650.76,47.51 L651.43,47.03 L652.06,47.22 L652.65,46.93 L653.19,46.7 L653.69,46.75 L654.12,46.84 L654.5,46.55" fill="none" stroke="#54a82c" stroke-width="1.4" stroke-linejoin="round" stroke-linecap="round" opacity="1" clip-path="url(#c20)"/>
<path d="M459.5,147.71 L459.88,147.82 L460.29,147.83 L460.76,147.99 L461.26,147.99 L461.79,148.03 L462.37,147.64 L462.97,147.94 L463.61,147.84 L464.28,147.9 L464.97,148.02 L465.7,147.8 L466.44,147.68 L467.21,147.81 L468,148.13 L468.8,148.13 L469.62,147.94 L470.46,147.81 L471.31,148.09 L472.16,147.92 L473.03,148.18 L473.9,148.03 L474.78,147.95 L475.66,147.86 L476.54,147.96 L477.41,148 L478.29,147.99 L479.15,148.19 L480.02,148.24 L480.87,148.16 L481.71,148.07 L482.53,148.17 L483.34,147.89 L484.14,148.1 L484.91,148.1 L485.67,148.13 L486.4,147.96 L487.1,148.21 L487.78,147.97 L488.43,148 L489.05,147.83 L489.63,147.98 L490.19,147.73 L490.7,147.93 L491.17,147.75 L491.61,148.04 L492,147.78 L494.03,147.22 L494.76,146.74 L494.62,145.73 L494.07,145.11 L493.55,144.35 L493.5,144 L494.02,143.37 L494.59,143.1 L495.25,142.88 L496,142.34 L496.61,142.04 L497.31,141.66 L498.06,141.32 L498.8,140.95 L499.46,140.58 L500,140.29 L500.91,139.52 L501.5,138.75 L502.16,139.38 L503,139.49 L503.4,139.28 L503.85,138.62 L504.34,138.28 L504.87,137.36 L505.42,136.93 L506,136.28 L506.51,135.79 L507.04,135.21 L507.59,134.87 L508.16,134.16 L508.76,133.58 L509.37,133.29 L510,132.82 L510.58,132.16 L511.18,131.57 L511.8,131.48 L512.44,130.79 L513.08,130.34 L513.73,130.1 L514.37,129.31 L515,129.07 L515.62,128.48 L516.23,128.14 L516.83,127.63 L517.44,127.07 L518.05,126.94 L518.68,126.29 L519.33,125.66 L520,125.28 L520.55,124.93 L521.09,124.64 L521.63,123.93 L522.18,123.39 L522.75,123.1 L523.34,122.81 L523.95,121.98 L524.59,121.91 L525.27,121.26 L526,120.79 L526.56,120.52 L527.16,120.22 L527.8,119.83 L528.47,119.59 L529.16,119.08 L529.86,118.59 L530.56,118.26 L531.27,117.91 L531.96,117.48 L532.63,117.18 L533.28,116.89 L533.9,116.84 L534.47,116.53 L535,116.2 L535.92,115.74 L536.72,115.17 L537.42,114.9 L538.07,114.55 L538.69,114.57 L539.32,114.25 L540,113.97 L540.71,113.41 L541.43,113.44 L542.14,113.2 L542.86,112.82 L543.57,112.67 L544.29,112.46 L545,112.16 L545.71,111.82 L546.43,111.75 L547.14,111.74 L547.86,111.24 L548.57,111.41 L549.29,111.02 L550,110.98 L550.67,110.53 L551.28,110.46 L551.88,110.48 L552.51,110.07 L553.21,109.77 L554.02,109.42 L555,109.14 L555.56,109.1 L556.17,109.04 L556.81,108.5 L557.49,108.39 L558.2,108.2 L558.94,107.95 L559.69,108.03 L560.45,107.75 L561.22,107.4 L562,106.97 L562.77,107.15 L563.53,106.88 L564.27,106.75 L565,106.31 L565.71,106.15 L566.43,106.02 L567.14,105.86 L567.86,105.72 L568.57,105.8 L569.29,105.59 L570,105.1 L570.71,105.11 L571.43,104.84 L572.14,104.85 L572.86,104.7 L573.57,104.65 L574.29,104.59 L575,104.29 L575.71,104.33 L576.43,103.89 L577.14,103.82 L577.86,103.59 L578.57,103.77 L579.29,103.64 L580,103.41 L580.71,103.14 L581.43,103.05 L582.14,102.79 L582.86,102.92 L583.57,102.62 L584.29,102.5 L585,102.4 L585.71,102.51 L586.41,102.17 L587.11,102.34 L587.8,102.07 L588.49,101.75 L589.18,101.68 L589.88,101.91 L590.57,101.58 L591.28,101.5 L592,101.18 L592.72,101.38 L593.47,101.08 L594.22,100.8 L595,100.74 L595.65,100.72 L596.31,100.52 L596.99,100.51 L597.66,100.56 L598.35,100.26 L599.05,100.5 L599.75,100.23 L600.46,100.14 L601.17,100.02 L601.89,99.88 L602.61,99.83 L603.34,99.56 L604.07,99.5 L604.8,99.35 L605.53,99.4 L606.26,99.32 L607,99.34 L607.69,99.21 L608.36,99.21 L609.03,98.93 L609.69,99.07 L610.34,98.69 L611,98.77 L611.66,98.78 L612.33,98.45 L613,98.49 L613.69,98.49 L614.39,98.58 L615.11,98.38 L615.85,98.57 L616.62,98.36 L617.42,98.37 L618.24,98.36 L619.1,98.09 L620,98.05 L620.6,97.77 L621.23,97.92 L621.87,97.73 L622.54,97.72 L623.22,97.75 L623.92,97.54 L624.64,97.68 L625.36,97.46 L626.1,97.65 L626.85,97.67 L627.61,97.3 L628.37,97.24 L629.14,97.1 L629.91,97.01 L630.68,96.99 L631.45,96.98 L632.21,97.11 L632.98,97.06 L633.73,96.87 L634.48,96.8 L635.22,96.71 L635.95,96.57 L636.67,96.84 L637.37,96.42 L638.06,96.47 L638.72,96.23 L639.37,96.39 L640,96.29 L640.87,96.01 L641.74,96.15 L642.61,95.98 L643.48,95.94 L644.35,95.76 L645.21,95.53 L646.06,95.55 L646.89,95.35 L647.71,95.38 L648.5,95.29 L649.27,95.14 L650.01,94.91 L650.72,94.64 L651.39,94.43 L652.02,94.66 L652.62,94.2 L653.16,94.48 L653.66,94.09 L654.11,94.07 L654.5,94.18" fill="none" stroke="#e4641c" stroke-width="1.4" stroke-linejoin="round" stroke-linecap="round" opacity="1" clip-path="url(#c20)"/>
<path d="M459.5,22.62 L459.88,22.67 L460.29,22.7 L460.75,22.58 L461.25,22.62 L461.78,22.64 L462.35,22.74 L462.95,22.74 L463.58,22.62 L464.24,22.83 L464.93,22.65 L465.65,22.64 L466.39,22.68 L467.15,22.63 L467.93,22.69 L468.73,22.62 L469.54,22.67 L470.38,22.81 L471.22,22.65 L472.07,22.76 L472.94,22.73 L473.81,22.8 L474.69,22.66 L475.57,22.86 L476.45,22.71 L477.33,22.86 L478.21,22.69 L479.09,22.69 L479.97,22.84 L480.83,22.74 L481.69,22.8 L482.53,22.84 L483.37,22.81 L484.19,22.81 L484.99,22.84 L485.77,22.64 L486.54,22.69 L487.28,22.85 L488,22.82 L488.69,22.65 L489.36,22.84 L490,22.8 L490.61,22.71 L491.18,22.71 L491.72,22.69 L492.22,22.8 L492.69,22.66 L493.12,22.69 L493.5,22.73 L494.3,21.9 L494.66,22.25 L495.06,22.82 L495.5,23.83 L495.72,24.29 L495.92,25.08 L496.14,25.58 L496.38,26.49 L496.66,27.12 L497,27.8 L497.3,28.47 L497.64,29.08 L498.02,29.69 L498.41,30.44 L498.81,31.09 L499.21,31.77 L499.61,32.39 L500,32.92 L500.44,33.77 L500.89,34.34 L501.34,34.88 L501.78,35.69 L502.22,36.4 L502.62,37.02 L503,37.67 L503.33,38.3 L503.62,38.81 L503.87,39.46 L504.13,40.26 L504.38,40.93 L504.67,41.62 L505,42.35 L505.26,43.03 L505.54,43.75 L505.83,44.22 L506.13,44.96 L506.44,45.73 L506.75,46.38 L507.07,47.22 L507.38,47.81 L507.7,48.51 L508,49.23 L508.3,49.88 L508.6,50.66 L508.9,51.38 L509.2,52.17 L509.5,52.75 L509.8,53.55 L510.1,54.04 L510.4,54.79 L510.7,55.62 L511,56.16 L511.3,56.77 L511.6,57.47 L511.9,58.3 L512.2,58.98 L512.5,59.66 L512.8,60.39 L513.1,61.07 L513.4,61.74 L513.7,62.39 L514,62.95 L514.3,63.66 L514.62,64.39 L514.93,65.02 L515.25,65.62 L515.56,66.36 L515.87,67.03 L516.17,67.66 L516.46,68.23 L516.74,68.95 L517,69.44 L517.33,70.26 L517.62,70.83 L517.87,71.5 L518.13,72.11 L518.38,72.64 L518.67,73.23 L519,74.04 L519.26,74.52 L519.54,75.26 L519.83,75.96 L520.13,76.61 L520.44,77.24 L520.75,78.01 L521.07,78.61 L521.38,79.3 L521.7,79.79 L522,80.47 L522.38,81.15 L522.75,81.76 L523.12,82.4 L523.5,83.15 L523.88,83.65 L524.25,84.3 L524.62,85 L525,85.39 L525.43,86.13 L525.86,86.86 L526.29,87.54 L526.71,88.11 L527.14,88.65 L527.57,89.39 L528,89.9 L528.43,90.53 L528.86,91.2 L529.29,91.67 L529.71,92.2 L530.14,92.97 L530.57,93.34 L531,94.07 L531.43,94.64 L531.86,95.25 L532.29,95.63 L532.71,96.24 L533.14,97.01 L533.57,97.46 L534,98.01 L534.5,98.5 L535,99.13 L535.5,99.64 L536,100.3 L536.5,100.76 L537,101.36 L537.57,101.88 L538.1,102.18 L538.66,102.75 L539.27,103.04 L540,103.51 L540.53,103.93 L541.11,104.46 L541.73,104.82 L542.38,105.36 L543.04,105.65 L543.7,106.25 L544.36,106.59 L545,107.15 L545.62,107.65 L546.25,108.05 L546.88,108.64 L547.5,109.06 L548.12,109.53 L548.75,110.08 L549.38,110.43 L550,110.85 L550.62,111.24 L551.25,111.6 L551.88,111.95 L552.5,112.41 L553.12,112.79 L553.75,112.99 L554.38,113.55 L555,113.8 L555.59,114.07 L556.13,114.6 L556.66,114.75 L557.19,115.26 L557.76,115.4 L558.4,115.95 L559.14,116.28 L560,116.68 L560.49,117 L561.01,117.38 L561.57,117.63 L562.15,118.04 L562.76,118.37 L563.38,118.64 L564.03,119.07 L564.69,119.57 L565.36,119.77 L566.03,120.25 L566.71,120.71 L567.38,120.99 L568.05,121.23 L568.72,121.67 L569.37,121.89 L570,122.28 L570.67,122.73 L571.33,122.84 L572,123.15 L572.67,123.6 L573.33,123.73 L574,124.21 L574.67,124.37 L575.33,124.7 L576,125.05 L576.67,125.17 L577.33,125.51 L578,125.68 L578.67,126.07 L579.33,126.28 L580,126.52 L580.67,126.82 L581.36,126.96 L582.06,127.28 L582.77,127.45 L583.48,127.74 L584.19,128.03 L584.9,128.35 L585.6,128.55 L586.29,128.74 L586.96,128.97 L587.62,129.1 L588.26,129.37 L588.87,129.41 L589.45,129.68 L590,129.88 L590.96,129.96 L591.83,130.21 L592.63,130.31 L593.38,130.53 L594.07,130.52 L594.73,130.54 L595.37,130.67 L596,130.72 L596.93,131.12 L597.74,131.13 L598.5,131.36 L599.23,131.69 L600,131.8 L600.83,131.89 L601.7,132.11 L602.54,132.42 L603.33,132.43 L604,132.7 L605.16,133.06 L606,133.11 L606.78,132.73 L607.5,132.13 L607.98,131.36 L608.46,130.7 L609,130.45 L609.59,130.65 L610.24,131.11 L611,131.69 L611.68,131.94 L612.44,132.29 L613.23,132.85 L614,133.11 L614.76,133.34 L615.53,133.82 L616.29,134.06 L617,134.37 L617.93,134.52 L618.8,134.88 L619.5,134.82 L619.87,134.22 L620.12,133.63 L620.32,132.79 L620.5,132.06 L620.65,131.03 L620.74,130.06 L621,129.35 L621.52,128.7 L622.2,127.99 L623,127.49 L623.61,127.28 L624.25,127.12 L625.02,126.76 L626,126.69 L626.56,126.54 L627.12,126.2 L627.72,126.12 L628.38,125.91 L629.11,125.8 L629.94,125.67 L630.89,125.44 L632,125.5 L632.55,125.27 L633.16,125.22 L633.8,125.12 L634.49,125.13 L635.2,125.03 L635.94,125 L636.71,125.07 L637.49,124.94 L638.28,124.86 L639.08,124.75 L639.88,124.77 L640.67,124.77 L641.45,124.69 L642.21,124.52 L642.95,124.6 L643.67,124.4 L644.35,124.44 L645,124.36 L645.87,124.25 L646.75,124.31 L647.63,124.14 L648.49,124.15 L649.34,124.18 L650.16,124.01 L650.95,124.01 L651.7,123.87 L652.39,123.92 L653.03,123.78 L653.6,123.69 L654.09,123.82 L654.5,123.71" fill="none" stroke="#141414" stroke-width="1.3" stroke-linejoin="round" stroke-linecap="round" opacity="1" clip-path="url(#c20)"/>
<path d="M15.2,185.4 L31.6,185.4 L48.2,185.5 L64.5,190 L81,199.3 L97.5,206.6 L114.2,206.6 L129.7,195.2 L146.9,187.2 L162.9,192.2 L179,202.7 L195.7,220.3 L212.1,263.5" fill="none" stroke="#505050" stroke-width="0.9" stroke-linejoin="round" stroke-linecap="round" opacity="1" clip-path="url(#c01)"/>
<path d="M15.2,200.8 L31.6,201 L48.2,201.3 L64.5,201.6 L81,202 L97.5,196.3 L114.2,189 L129.7,192.9 L146.9,206.6 L162.9,212.3 L179,222.6 L195.7,235.9 L212.1,184.6" fill="none" stroke="#b04cb4" stroke-width="0.9" stroke-linejoin="round" stroke-linecap="round" opacity="1" clip-path="url(#c01)"/>
<path d="M15.2,220.9 L31.6,221.1 L48.2,221.4 L64.5,222.5 L81,223.7 L97.5,218 L114.2,212.8 L129.7,218.7 L146.9,244.4 L162.9,277.9 L179,307 L195.7,322.8 L212.1,306.3" fill="none" stroke="#ea5a4e" stroke-width="0.9" stroke-linejoin="round" stroke-linecap="round" opacity="1" clip-path="url(#c01)"/>
<path d="M15.2,243 L31.6,243.6 L48.2,244.2 L64.5,245.3 L81,246.5 L97.5,245.8 L114.2,243.2 L129.7,238.6 L146.9,235.7 L162.9,249 L179,262.6 L195.7,196.5 L212.1,131.5" fill="none" stroke="#78bb55" stroke-width="0.9" stroke-linejoin="round" stroke-linecap="round" opacity="1" clip-path="url(#c01)"/>
<path d="M15.2,258 L31.6,258.6 L48.2,259.2 L64.5,259.2 L81,259.2 L97.5,271.8 L114.2,287.6 L129.7,291.7 L146.9,305.8 L162.9,321.1 L179,293.2 L195.7,256.1 L212.1,251.2" fill="none" stroke="#f08040" stroke-width="0.9" stroke-linejoin="round" stroke-linecap="round" opacity="1" clip-path="url(#c01)"/>
<line x1="163" y1="308.3" x2="163" y2="314.4" stroke="#111" stroke-width="1.5"/>
<path d="M161.1,313.9 L164.9,313.9 L163,318.5 Z" fill="#111"/>
<line x1="195.8" y1="309.5" x2="195.8" y2="315.4" stroke="#111" stroke-width="1.5"/>
<path d="M193.9,314.9 L197.7,314.9 L195.8,319.5 Z" fill="#111"/>
<line x1="179.1" y1="269.9" x2="179.1" y2="274.5" stroke="#111" stroke-width="1.5"/>
<path d="M177.2,270.4 L181,270.4 L179.1,265.8 Z" fill="#111"/>
<line x1="195.8" y1="241.6" x2="195.8" y2="246.6" stroke="#111" stroke-width="1.5"/>
<path d="M193.9,242.1 L197.7,242.1 L195.8,237.5 Z" fill="#111"/>
<path d="M237.5,198.4 L237.86,198.55 L238.23,198.48 L238.62,198.58 L239.02,198.37 L239.44,198.42 L239.87,198.58 L240.32,198.52 L240.78,198.39 L241.25,198.5 L241.74,198.44 L242.24,198.69 L242.75,198.47 L243.28,198.63 L243.82,198.56 L244.37,198.54 L244.93,198.68 L245.5,198.59 L246.09,198.52 L246.69,198.51 L247.29,198.45 L247.91,198.56 L248.54,198.56 L249.18,198.63 L249.83,198.69 L250.49,198.72 L251.16,198.34 L251.84,198.34 L252.53,198.62 L253.23,198.74 L253.93,198.69 L254.65,198.57 L255.37,198.63 L256.1,198.36 L256.84,198.43 L257.59,198.59 L258.34,198.47 L259.1,198.62 L259.87,198.68 L260.65,198.49 L261.43,198.57 L262.21,198.7 L263.01,198.61 L263.81,198.61 L264.61,198.75 L265.42,198.66 L266.24,198.62 L267.06,198.52 L267.88,198.65 L268.71,198.55 L269.54,198.58 L270.38,198.43 L271.22,198.68 L272.07,198.44 L272.91,198.54 L273.76,198.44 L274.62,198.41 L275.47,198.7 L276.33,198.69 L277.19,198.44 L278.05,198.59 L278.92,198.75 L279.78,198.66 L280.65,198.51 L281.51,198.43 L282.38,198.71 L283.25,198.63 L284.12,198.66 L284.99,198.72 L285.86,198.54 L286.72,198.83 L287.59,198.54 L288.46,198.45 L289.32,198.76 L290.18,198.76 L291.05,198.79 L291.91,198.64 L292.76,198.75 L293.62,198.7 L294.47,198.51 L295.32,198.63 L296.17,198.61 L297.02,198.58 L297.86,198.61 L298.69,198.71 L299.53,198.53 L300.36,198.66 L301.18,198.58 L302,198.81 L302.82,198.81 L303.63,198.51 L304.43,198.84 L305.23,198.78 L306.02,198.53 L306.81,198.68 L307.59,198.74 L308.37,198.6 L309.13,198.69 L309.89,198.86 L310.65,198.79 L311.39,198.69 L312.13,198.53 L312.86,198.73 L313.59,198.55 L314.3,198.8 L315.01,198.63 L315.71,198.63 L316.39,198.91 L317.07,198.71 L317.74,198.57 L318.4,198.73 L319.05,198.67 L319.69,198.55 L320.32,198.66 L320.94,198.87 L321.55,198.79 L322.15,198.85 L322.73,198.66 L323.31,198.63 L323.87,198.59 L324.42,198.7 L324.96,198.92 L325.48,198.86 L325.99,198.82 L326.49,198.69 L326.98,198.83 L327.45,198.82 L327.91,198.77 L328.36,198.73 L328.79,198.69 L329.21,198.86 L329.61,198.82 L330,198.71 L333.91,198.67 L336.62,199 L338.33,198.83 L339.21,198.93 L339.46,198.69 L339.26,199.06 L338.79,198.81 L338.25,198.96 L337.81,199.2 L337.67,199.25 L338,199.09 L338.75,199.35 L339.47,199.65 L340.15,199.83 L340.8,199.98 L341.44,200.25 L342.07,200.19 L342.71,200.8 L343.34,200.94 L344,201.09 L344.6,201.69 L345.22,201.93 L345.83,202.08 L346.45,202.48 L347.06,202.9 L347.67,203.54 L348.27,203.95 L348.86,204.19 L349.44,204.76 L350,204.89 L350.67,205.63 L351.32,206.09 L351.95,206.2 L352.56,206.62 L353.17,207.01 L353.77,207.56 L354.38,208.07 L355,208.64 L355.5,209.25 L356.02,209.79 L356.53,210 L357.05,210.38 L357.56,211.08 L358.07,211.76 L358.57,212.14 L359.06,212.57 L359.54,213.39 L360,214.04 L360.34,214.7 L360.68,215.23 L361.01,215.74 L361.34,216.52 L361.66,217.1 L361.97,217.55 L362.28,218.35 L362.58,218.84 L362.88,219.89 L363.17,220.42 L363.45,220.95 L363.73,221.55 L364,222.22 L364.29,223.19 L364.56,223.94 L364.82,224.6 L365.07,225.05 L365.32,226 L365.56,226.6 L365.8,227.11 L366.04,228.06 L366.27,228.83 L366.51,229.32 L366.75,230.13 L367,230.62 L367.25,231.61 L367.49,232.08 L367.73,232.79 L367.96,233.78 L368.2,234.56 L368.44,235.24 L368.68,235.82 L368.93,236.46 L369.18,237.2 L369.44,237.85 L369.71,238.39 L370,239.38 L370.33,240.07 L370.68,240.45 L371.05,241.51 L371.42,241.92 L371.81,242.79 L372.19,243.49 L372.58,243.99 L372.95,244.59 L373.32,245.13 L373.67,245.93 L374,246.13 L374.56,246.97 L375.07,247.93 L375.56,248.46 L376.04,249.03 L376.51,249.39 L377,249.89 L377.48,250.62 L377.93,251.3 L378.38,251.57 L378.85,252.36 L379.38,253.06 L380,253.44 L380.42,254.08 L380.87,254.49 L381.35,254.84 L381.86,255.39 L382.38,255.85 L382.9,256.53 L383.44,257.16 L383.97,257.49 L384.49,258.11 L385,258.59 L385.62,259 L386.25,259.49 L386.88,259.95 L387.5,260.61 L388.12,260.89 L388.75,261.27 L389.38,261.94 L390,262.05 L390.62,262.52 L391.25,262.91 L391.88,263.41 L392.5,263.79 L393.12,264.26 L393.75,264.61 L394.38,265.41 L395,265.62 L395.5,266.17 L396,266.58 L396.5,266.95 L397,267.65 L397.5,268.19 L398,268.54 L398.5,269.25 L399,269.69 L399.5,269.96 L400,270.65 L400.45,271.31 L400.91,271.53 L401.36,272.44 L401.82,272.91 L402.27,273.47 L402.73,273.83 L403.18,274.43 L403.64,274.87 L404.09,275.69 L404.55,276.34 L405,276.73 L405.45,277.11 L405.91,277.82 L406.36,278.45 L406.82,279.07 L407.27,279.65 L407.73,280.07 L408.18,280.62 L408.64,281.29 L409.09,281.64 L409.55,282.29 L410,282.64 L410.5,283.37 L411,283.89 L411.5,284.21 L412,284.59 L412.5,285.22 L413,285.64 L413.5,286.03 L414,286.78 L414.5,287.13 L415,287.73 L415.45,288.18 L415.91,288.64 L416.36,289.23 L416.82,289.58 L417.27,290.28 L417.73,290.9 L418.18,291.21 L418.64,291.88 L419.09,292.38 L419.55,293.29 L420,293.75 L420.42,294.13 L420.86,294.69 L421.31,295.66 L421.76,296.05 L422.21,296.74 L422.66,297.49 L423.09,298.08 L423.52,298.46 L423.93,299.28 L424.31,299.92 L424.67,300.46 L425,301.17 L425.45,301.95 L425.86,302.62 L426.23,303.56 L426.56,304.21 L426.86,304.72 L427.11,305.74 L427.32,306.12 L427.5,306.67" fill="none" stroke="#141414" stroke-width="1.3" stroke-linejoin="round" stroke-linecap="round" opacity="1" clip-path="url(#c11)"/>
<path d="M427.3,306 L428.6,311 L429.4,318 L429.9,326 L430.1,334" fill="none" stroke="#8a8a8a" stroke-width="1.1" stroke-linejoin="round" stroke-linecap="round" opacity="1" clip-path="url(#c11)"/>
<path d="M237.5,211.38 L237.82,210.82 L238.18,211.36 L238.56,210.8 L238.98,211.43 L239.42,211.4 L239.9,211.42 L240.39,210.92 L240.92,211.26 L241.46,210.96 L242.03,211.44 L242.62,211.05 L243.22,210.83 L243.84,211.17 L244.48,211.34 L245.13,210.79 L245.8,210.8 L246.47,211.35 L247.15,211.33 L247.85,211.29 L248.55,211.09 L249.25,211.18 L249.96,211.05 L250.67,211.24 L251.38,211.24 L252.09,211.41 L252.8,211.21 L253.5,211.13 L254.2,211.33 L254.89,210.87 L255.57,211.69 L256.25,211.45 L256.91,211.03 L257.56,210.96 L258.19,211.32 L258.81,210.96 L259.42,211.28 L260,211.75 L260.64,211.34 L261.28,211.3 L261.91,211.89 L262.54,211.71 L263.17,211.89 L263.79,211.75 L264.41,211.91 L265.02,211.75 L265.63,211.89 L266.24,211.81 L266.85,211.38 L267.46,211.99 L268.06,211.84 L268.66,211.36 L269.26,211.9 L269.86,211.55 L270.45,212.29 L271.05,212.02 L271.64,211.71 L272.24,211.64 L272.83,211.69 L273.43,212.15 L274.02,211.96 L274.61,212.02 L275.21,211.89 L275.8,212.39 L276.4,212.61 L276.99,212.39 L277.59,212.69 L278.19,211.97 L278.79,212.47 L279.4,212.64 L280,212.91 L280.61,212.77 L281.21,212.38 L281.82,212.64 L282.42,212.91 L283.03,212.43 L283.64,212.53 L284.24,213.22 L284.85,212.86 L285.45,212.72 L286.06,212.62 L286.67,213.16 L287.27,213.25 L287.88,213.36 L288.48,212.97 L289.09,213.44 L289.7,213.16 L290.3,213.45 L290.91,213.07 L291.52,213.16 L292.12,213.89 L292.73,213.94 L293.33,213.22 L293.94,214.13 L294.55,213.9 L295.15,213.44 L295.76,213.91 L296.36,214.05 L296.97,214.49 L297.58,214.15 L298.18,214.6 L298.79,214.56 L299.39,214.48 L300,214.57 L300.59,214.34 L301.19,215.18 L301.8,214.57 L302.41,214.83 L303.03,215.57 L303.66,215.72 L304.29,215.32 L304.92,215.86 L305.55,215.98 L306.19,216.06 L306.82,215.74 L307.46,216.55 L308.1,216.04 L308.73,216.42 L309.37,216.5 L310,217.1 L310.62,217.13 L311.25,217.28 L311.87,217.51 L312.48,217.18 L313.08,217.9 L313.68,217.67 L314.27,218.17 L314.85,218.09 L315.42,217.8 L315.98,218.7 L316.53,218.29 L317.07,218.36 L317.59,219.15 L318.11,218.54 L318.6,219.23 L319.08,218.83 L319.55,219.28 L320,219.31 L320.85,219.51 L321.65,219.83 L322.4,219.98 L323.1,220.54 L323.77,220.17 L324.39,220.57 L324.98,220.69 L325.54,220.86 L326.08,220.78 L326.59,220.69 L327.1,220.62 L327.58,221.6 L328.07,221.65 L328.54,221.68 L329.02,221.8 L329.51,221.58 L330,221.93 L330.7,221.85 L331.39,222.77 L332.05,222.62 L332.7,222.66 L333.33,223.07 L333.94,223.93 L334.52,223.47 L335.07,224.51 L335.6,224.57 L336.1,224.85 L336.57,224.72 L337,224.86 L337.79,225.03 L338.3,224.64 L338.7,224.88 L339.21,224.83 L340,224.96 L340.38,224.97 L340.81,225.22 L341.27,225.6 L341.77,225.79 L342.29,226.13 L342.83,226.61 L343.38,226.59 L343.93,227.04 L344.48,227.5 L345.03,228.25 L345.56,228.56 L346.07,228.88 L346.55,229.15 L347,229.93 L347.54,229.66 L348.06,230.11 L348.56,230.52 L349.05,230.95 L349.52,231.85 L349.98,231.84 L350.41,232.4 L350.83,233.45 L351.24,233.73 L351.63,233.94 L352,234.32 L352.35,235.32 L352.67,235.09 L352.96,236.29 L353.24,235.91 L353.5,236.66 L353.75,237.59 L353.99,237.82 L354.24,238.88 L354.48,239.02 L354.73,239.78 L355,240.82 L355.19,240.73 L355.38,241.06 L355.56,242.38 L355.75,242.59 L355.94,243.02 L356.12,243.98 L356.31,244.98 L356.5,244.8 L356.69,245.48 L356.88,246.14 L357.06,246.98 L357.25,247.84 L357.44,248.38 L357.62,249.35 L357.81,249.22 L358,250.04 L358.3,250.54 L358.58,251.41 L358.87,251.66 L359.15,252.74 L359.44,253.58 L359.73,253.83 L360.03,254.52 L360.34,254.38 L360.66,255.37 L361,255.41 L361.53,256.17 L362.1,256.27 L362.7,256.97 L363.3,256.61 L363.9,257.52 L364.47,257.75 L365,257.49 L365.56,256.79 L366.07,256.26 L366.56,256.36 L367.04,255.48 L367.51,255.45 L368,254.89 L368.51,254.71 L369.04,255.66 L369.56,255.48 L370.07,256 L370.56,256.77 L371,257.36 L371.46,257.51 L371.87,258.34 L372.25,259.17 L372.62,259.63 L373,259.97 L373.29,259.63 L373.57,259.64 L373.86,258.8 L374.14,258.39 L374.43,257.1 L374.71,256.99 L375,256.27 L375.2,255.16 L375.42,254.96 L375.63,254.2 L375.85,253.98 L376.06,253.31 L376.27,252.61 L376.47,251.67 L376.66,251.16 L376.84,250.91 L377,250 L377.11,249.75 L377.2,249.29 L377.27,247.98 L377.33,248.28 L377.39,247.76 L377.44,247.04 L377.49,246.55 L377.56,245.62 L377.63,244.99 L377.73,243.87 L377.85,243.75 L378,242.26 L378.09,242.4 L378.19,242.09 L378.3,241.2 L378.41,240.26 L378.53,240.01 L378.65,239.03 L378.77,239.16 L378.9,237.95 L379.03,237.11 L379.17,237.1 L379.31,236.31 L379.46,235.72 L379.6,234.54 L379.75,233.9 L379.9,233.75 L380.06,232.66 L380.21,232.44 L380.37,231.37 L380.52,231.36 L380.68,230.22 L380.84,230.46 L381,230 L381.22,228.51 L381.45,228.05 L381.67,227.27 L381.91,227.07 L382.14,226.38 L382.38,225.56 L382.63,224.78 L382.88,224.28 L383.13,223.49 L383.38,222.98 L383.64,222.78 L383.91,222.57 L384.17,221.62 L384.45,220.89 L384.72,220.53 L385,220.7 L385.58,219.98 L386.18,220.43 L386.8,220.64 L387.44,220.48 L388.08,220.88 L388.73,221.41 L389.37,222.14 L390,221.75 L390.62,222.03 L391.25,221.47 L391.88,221.65 L392.5,221.56 L393.12,221.63 L393.75,221.35 L394.38,221.22 L395,221.4 L395.57,220.84 L396.17,220.47 L396.78,220.62 L397.39,220 L397.98,220.48 L398.56,219.99 L399.09,219.5 L399.58,219.26 L400,218.46 L400.35,218.44 L400.57,217.98 L400.71,217.75 L400.81,216.33 L400.94,216.26 L401.15,215.74 L401.48,214.53 L402,214.04 L402.28,214.08 L402.58,212.88 L402.91,212.91 L403.26,212.79 L403.63,212.12 L404.01,211.93 L404.42,211.35 L404.84,210.46 L405.28,210.33 L405.73,209.95 L406.18,209.3 L406.65,208.71 L407.12,208.41 L407.6,208.31 L408.08,207.36 L408.56,206.91 L409.04,206.46 L409.52,205.73 L410,206.01 L410.42,205.09 L410.85,204.54 L411.29,204.58 L411.75,204.36 L412.22,203.18 L412.69,203.52 L413.17,202.76 L413.66,202.39 L414.15,202.05 L414.64,201.43 L415.12,200.85 L415.61,200.57 L416.1,200.32 L416.57,199.5 L417.04,199.48 L417.51,198.51 L417.96,198.52 L418.4,197.84 L418.82,197.56 L419.23,197.71 L419.63,196.95 L420,196.6 L420.6,196.2 L421.18,195.64 L421.74,194.99 L422.27,195.29 L422.78,194.38 L423.27,193.76 L423.73,194.12 L424.17,193.73 L424.58,192.89 L424.97,192.83 L425.34,192.4 L425.68,191.79 L426,190.93 L426.27,191.1 L426.5,190.08 L426.71,189.73 L426.89,188.8 L427.05,188.25 L427.19,188.05 L427.31,187.14 L427.42,186.29 L427.52,185.97 L427.62,184.84 L427.71,184.43 L427.8,184.17 L427.9,183.5 L428,182.87 L428.16,182.22 L428.31,180.91 L428.44,180.67 L428.57,179.88 L428.68,178.68 L428.78,178.6 L428.86,177.76 L428.94,177.52 L429,176.99" fill="none" stroke="#86188c" stroke-width="1.7" stroke-linejoin="round" stroke-linecap="round" opacity="1" clip-path="url(#c11)"/>
<path d="M237.5,237.01 L237.87,236.74 L238.29,237.01 L238.75,236.86 L239.25,236.89 L239.79,236.86 L240.36,237.15 L240.97,237.08 L241.6,237.04 L242.26,236.98 L242.95,237.04 L243.67,236.95 L244.4,237.05 L245.15,237.16 L245.92,237.07 L246.7,237.33 L247.5,237.05 L248.31,237.13 L249.12,237.19 L249.94,237.16 L250.76,237.39 L251.58,237.38 L252.4,237.49 L253.21,237.62 L254.02,237.32 L254.82,237.48 L255.61,237.48 L256.39,237.57 L257.15,237.68 L257.9,237.57 L258.62,237.81 L259.32,237.78 L260,237.72 L260.76,237.83 L261.51,238.1 L262.25,237.98 L262.99,238.09 L263.72,237.97 L264.45,238.18 L265.18,238.04 L265.9,238.37 L266.61,238.12 L267.33,238.53 L268.04,238.43 L268.75,238.5 L269.45,238.67 L270.16,238.68 L270.86,238.72 L271.56,238.8 L272.26,238.74 L272.96,238.9 L273.66,238.82 L274.36,239.07 L275.06,239.01 L275.76,238.89 L276.46,239.39 L277.16,239.19 L277.87,239.13 L278.58,239.42 L279.29,239.57 L280,239.57 L280.71,239.57 L281.43,239.78 L282.14,239.71 L282.86,239.92 L283.57,240.11 L284.29,240.21 L285,240.14 L285.71,240.54 L286.43,240.62 L287.14,240.55 L287.86,240.82 L288.57,241.07 L289.29,241.15 L290,241.18 L290.71,241.28 L291.43,241.58 L292.14,241.49 L292.86,241.6 L293.57,241.57 L294.29,241.71 L295,242.05 L295.71,242.24 L296.43,242.47 L297.14,242.63 L297.86,242.73 L298.57,242.64 L299.29,242.65 L300,242.87 L300.7,243.25 L301.4,243.18 L302.12,243.58 L302.84,243.66 L303.57,243.52 L304.31,243.94 L305.05,243.91 L305.79,244.07 L306.54,244.2 L307.29,244.57 L308.03,244.63 L308.78,244.65 L309.52,244.86 L310.26,244.97 L310.99,245.42 L311.72,245.47 L312.44,245.71 L313.14,245.91 L313.84,245.74 L314.53,246.05 L315.21,246.27 L315.87,246.65 L316.51,246.76 L317.14,246.89 L317.75,246.87 L318.35,247.32 L318.92,247.39 L319.47,247.43 L320,247.47 L320.96,247.7 L321.83,248.09 L322.64,248.33 L323.38,248.99 L324.07,248.95 L324.72,249.21 L325.33,249.73 L325.91,250 L326.48,250.08 L327.04,250.74 L327.59,250.99 L328.16,251.28 L328.74,251.61 L329.35,251.77 L330,252.57 L330.56,252.88 L331.14,253.09 L331.72,253.69 L332.32,254.25 L332.92,254.8 L333.52,255.15 L334.12,255.67 L334.72,256.18 L335.31,256.53 L335.9,257.07 L336.47,257.67 L337.04,258.12 L337.58,258.62 L338.11,259.04 L338.62,259.61 L339.11,260.19 L339.57,260.37 L340,260.98 L340.78,261.67 L341.45,262.36 L342.04,262.56 L342.57,263.13 L343.05,263.45 L343.52,264.18 L343.98,264.24 L344.47,264.63 L345,265.08 L345.72,265.59 L346.46,266.2 L347.2,266.52 L347.93,266.84 L348.64,266.98 L349.34,267.45 L350,267.53 L350.86,267.41 L351.67,267.3 L352.45,267.49 L353.22,266.86 L354,266.32 L354.5,265.99 L355,265.73 L355.5,265.31 L356,264.95 L356.5,264.38 L357,263.76 L357.5,263.09 L358,262.41 L358.37,261.67 L358.74,261.01 L359.12,260.42 L359.5,260.04 L359.87,259.54 L360.25,258.66 L360.62,258.05 L360.98,257.41 L361.33,256.5 L361.67,255.6 L362,254.99 L362.2,254.38 L362.39,253.63 L362.56,253.21 L362.73,252.5 L362.89,251.83 L363.05,250.9 L363.21,250.38 L363.36,249.64 L363.51,249.03 L363.67,248.26 L363.83,247.47 L364,246.5 L364.18,245.96 L364.36,245.31 L364.56,244.17 L364.77,243.64 L365,242.49 L365.18,242.13 L365.36,241.51 L365.55,240.86 L365.75,240.32 L365.95,239.44 L366.16,238.52 L366.37,238.2 L366.59,237.45 L366.81,236.6 L367.04,235.93 L367.26,234.88 L367.49,234.19 L367.72,233.84 L367.95,232.84 L368.18,232.26 L368.41,231.62 L368.65,230.65 L368.88,230.05 L369.11,229.55 L369.33,229.1 L369.56,228.1 L369.78,227.92 L370,227.08 L370.38,226.26 L370.77,225.49 L371.15,224.96 L371.54,224.07 L371.92,223.46 L372.31,223.02 L372.69,222.23 L373.08,221.82 L373.46,221.17 L373.85,220.73 L374.23,220.06 L374.62,219.6 L375,218.66 L375.38,218.14 L375.77,217.28 L376.15,216.63 L376.54,216.2 L376.92,215.63 L377.31,214.95 L377.69,213.98 L378.08,213.45 L378.46,212.78 L378.85,212.13 L379.23,211.8 L379.62,210.96 L380,210.34 L380.42,209.85 L380.83,209.15 L381.25,208.6 L381.67,207.76 L382.08,207.02 L382.5,206.55 L382.92,205.73 L383.33,205.06 L383.75,204.61 L384.17,204 L384.58,203.72 L385,203.27 L385.59,202.63 L386.13,202.25 L386.66,202 L387.19,201.85 L387.76,201.2 L388.4,201.27 L389.14,200.65 L390,200.37 L390.5,200 L391.04,199.68 L391.64,199.34 L392.27,199.3 L392.92,198.85 L393.6,198.19 L394.3,198.03 L395,197.68 L395.7,197.39 L396.4,196.85 L397.08,196.56 L397.73,196.04 L398.36,195.98 L398.96,195.53 L399.5,194.95 L400,194.7 L400.78,194.25 L401.45,193.66 L402.04,193.27 L402.57,192.63 L403.05,192.18 L403.52,191.52 L403.98,191.25 L404.47,190.53 L405,190.02 L405.5,189.56 L405.98,189.23 L406.47,188.46 L406.95,188.04 L407.44,187.42 L407.93,187.15 L408.43,186.37 L408.94,186.01 L409.46,185.15 L410,184.5 L410.45,184.15 L410.93,183.36 L411.44,182.84 L411.97,182.1 L412.51,181.4 L413.05,180.74 L413.57,180.38 L414.08,179.57 L414.56,178.88 L415,178.3 L415.4,177.87 L415.73,177.14 L416,176.88" fill="none" stroke="#dc2e26" stroke-width="1.4" stroke-linejoin="round" stroke-linecap="round" opacity="1" clip-path="url(#c11)"/>
<path d="M237.5,270.7 L237.87,270.54 L238.29,270.86 L238.75,270.83 L239.25,270.57 L239.79,270.57 L240.36,270.88 L240.97,270.94 L241.6,270.93 L242.26,270.99 L242.95,271 L243.67,270.98 L244.4,271.15 L245.15,270.92 L245.92,271.28 L246.7,271.13 L247.5,271.4 L248.31,271.42 L249.12,271.21 L249.94,271.32 L250.76,271.53 L251.58,271.31 L252.4,271.74 L253.21,271.8 L254.02,271.82 L254.82,271.92 L255.61,271.92 L256.39,272.1 L257.15,271.84 L257.9,272.19 L258.62,272.13 L259.32,272.3 L260,272.12 L260.73,272.33 L261.45,272.6 L262.17,272.54 L262.89,272.7 L263.6,272.91 L264.3,272.79 L265,273.11 L265.7,273.07 L266.39,273.21 L267.08,273.44 L267.77,273.57 L268.45,273.57 L269.14,273.92 L269.82,273.73 L270.5,274.26 L271.17,274.36 L271.85,274.43 L272.53,274.4 L273.2,274.67 L273.88,275 L274.55,274.9 L275.23,275.19 L275.9,275.36 L276.58,275.21 L277.26,275.55 L277.94,275.87 L278.63,275.91 L279.31,276.23 L280,276.27 L280.69,276.21 L281.39,276.6 L282.09,276.91 L282.8,276.75 L283.51,276.96 L284.22,277.37 L284.94,277.63 L285.66,277.83 L286.37,277.76 L287.09,278.26 L287.81,278.27 L288.53,278.5 L289.24,278.73 L289.96,278.85 L290.67,279.31 L291.38,279.32 L292.08,279.55 L292.78,279.93 L293.47,279.93 L294.16,280.06 L294.84,280.21 L295.52,280.62 L296.19,280.97 L296.85,281.09 L297.5,281.09 L298.14,281.32 L298.77,281.63 L299.39,281.89 L300,282.21 L300.79,282.22 L301.57,282.44 L302.34,282.83 L303.1,283.13 L303.85,283.09 L304.59,283.42 L305.32,283.53 L306.03,283.61 L306.74,284.1 L307.44,284.43 L308.12,284.47 L308.8,284.51 L309.47,284.94 L310.12,284.99 L310.77,285.28 L311.4,285.64 L312.03,285.9 L312.64,285.95 L313.25,286.05 L313.84,286.23 L314.43,286.51 L315,286.86 L315.77,287.22 L316.52,287.53 L317.26,287.83 L317.97,288.39 L318.66,288.42 L319.34,288.7 L319.99,289.42 L320.62,289.69 L321.24,289.82 L321.84,290.22 L322.41,290.4 L322.97,290.78 L323.51,291.26 L324.02,291.78 L324.52,292.04 L325,292.63 L325.59,293.03 L326.12,293.64 L326.6,294.17 L327.04,294.91 L327.44,295.63 L327.81,296.18 L328.17,297.09 L328.52,297.51 L328.87,298.2 L329.22,298.61 L329.6,299.16 L330,299.77 L330.56,300.57 L331.11,301.04 L331.67,301.6 L332.22,301.84 L332.78,302.43 L333.33,302.98 L333.89,303.19 L334.44,303.58 L335,304.19 L335.71,304.24 L336.43,304.94 L337.14,304.98 L337.86,305.39 L338.57,305.63 L339.29,305.89 L340,305.71 L340.71,305.8 L341.43,305.84 L342.14,306.15 L342.86,306.04 L343.57,305.9 L344.29,305.58 L345,305.34 L345.57,305.18 L346.15,304.89 L346.74,304.38 L347.33,303.93 L347.91,303.15 L348.48,302.91 L349.02,302.2 L349.53,301.72 L350,300.92 L350.35,300.51 L350.67,299.94 L350.96,299.19 L351.24,298.35 L351.5,297.8 L351.75,297.1 L351.99,296.32 L352.24,295.79 L352.48,294.9 L352.73,294.52 L353,293.48 L353.27,293.12 L353.53,292.49 L353.79,291.76 L354.05,291.04 L354.31,290.35 L354.57,289.74 L354.84,289.22 L355.11,288.44 L355.39,287.92 L355.69,287.32 L356,286.49 L356.27,285.89 L356.55,285.14 L356.83,284.65 L357.12,283.83 L357.42,283.29 L357.72,282.51 L358.03,282 L358.34,281.21 L358.66,280.78 L358.99,280.16 L359.32,279.5 L359.66,278.79 L360,277.78 L360.33,277.24 L360.66,276.91 L361.01,276.01 L361.36,275.63 L361.71,274.86 L362.07,274.15 L362.44,273.67 L362.8,273.04 L363.17,272.34 L363.54,271.95 L363.91,271.09 L364.28,270.42 L364.64,269.89 L365,269.45 L365.42,268.55 L365.83,267.93 L366.25,267.49 L366.67,266.93 L367.08,266.3 L367.5,265.73 L367.92,264.92 L368.33,264.65 L368.75,264.01 L369.17,263.38 L369.58,262.88 L370,262.05 L370.42,261.37 L370.86,261.09 L371.3,260.37 L371.74,259.62 L372.18,258.95 L372.62,258.3 L373.06,257.63 L373.48,257.24 L373.89,256.75 L374.28,255.85 L374.65,255.63 L375,254.91 L375.46,254.15 L375.87,253.53 L376.23,252.62 L376.56,252.07 L376.89,251.57 L377.23,250.76 L377.59,250.38 L378,249.4 L378.31,248.82 L378.61,248.27 L378.91,247.54 L379.21,247.3 L379.53,246.49 L379.85,245.8 L380.21,245.32 L380.59,244.7 L381.02,243.8 L381.48,243.26 L382,242.55 L382.44,242.37 L382.92,241.69 L383.41,241.55 L383.94,240.98 L384.48,240.59 L385.04,240.25 L385.62,239.74 L386.22,239.53 L386.83,238.84 L387.45,238.59 L388.08,237.98 L388.72,237.67 L389.36,237.3 L390,236.81 L390.54,236.44 L391.08,236.23 L391.65,235.43 L392.22,235.2 L392.79,235.1 L393.38,234.37 L393.98,234.14 L394.57,233.6 L395.18,233.39 L395.78,233 L396.39,232.52 L397,232.15 L397.6,231.4 L398.21,231.13 L398.81,230.8 L399.41,230.23 L400,229.63 L400.48,229.12 L400.95,228.57 L401.43,228.05 L401.9,227.7 L402.38,227.27 L402.86,226.97 L403.33,226.15 L403.81,225.89 L404.29,225.22 L404.76,224.62 L405.24,224.29 L405.71,223.77 L406.19,223.05 L406.67,222.58 L407.14,221.99 L407.62,221.47 L408.1,220.85 L408.57,220.59 L409.05,219.7 L409.52,219.44 L410,218.93 L410.46,218.42 L410.92,217.69 L411.39,217.37 L411.86,216.85 L412.33,216.04 L412.81,215.44 L413.29,215.18 L413.76,214.33 L414.24,213.81 L414.71,213.24 L415.19,212.82 L415.66,212.24 L416.12,211.59 L416.58,210.96 L417.04,210.55 L417.49,210.09 L417.93,209.56 L418.36,208.92 L418.79,208.44 L419.2,207.7 L419.61,207.23 L420,206.73 L420.53,205.95 L421.05,205.43 L421.56,205.11 L422.05,204.4 L422.54,203.89 L423.02,203.05 L423.49,202.69 L423.94,202.29 L424.38,201.41 L424.8,201.18 L425.21,200.4 L425.6,199.76 L425.98,199.39 L426.34,198.78 L426.68,198.14 L427,197.03 L427.23,196.39 L427.45,196.15 L427.66,195.53 L427.85,194.64 L428.04,193.86 L428.22,192.99 L428.38,192.46 L428.54,191.87 L428.69,191.13 L428.83,190.2 L428.96,189.3 L429.09,188.73 L429.2,187.78 L429.32,186.94 L429.43,186.3 L429.53,185.86 L429.63,185.06 L429.73,184.45 L429.82,183.96 L429.91,183.5 L430,182.76 L430.2,181.77 L430.35,180.58 L430.46,179.76 L430.54,178.98 L430.59,178.55 L430.63,178.01 L430.66,177.35 L430.7,176.96" fill="none" stroke="#54a82c" stroke-width="1.4" stroke-linejoin="round" stroke-linecap="round" opacity="1" clip-path="url(#c11)"/>
<path d="M237.5,308.72 L237.91,308.56 L238.41,308.75 L238.99,308.96 L239.63,308.74 L240.34,308.96 L241.09,309.07 L241.88,309.28 L242.7,309.21 L243.55,309.19 L244.41,309.61 L245.27,309.64 L246.13,309.5 L246.97,309.7 L247.78,309.85 L248.57,310.22 L249.31,310.23 L250,310.34 L250.78,310.12 L251.52,310.47 L252.22,310.67 L252.89,310.56 L253.55,310.86 L254.2,310.83 L254.84,310.92 L255.5,311.14 L256.16,310.84 L256.85,311.37 L257.57,311.41 L258.33,311.32 L259.14,311.69 L260,311.85 L260.58,311.86 L261.18,312.32 L261.79,312.43 L262.42,312.58 L263.07,312.98 L263.73,312.99 L264.4,313.12 L265.09,313.37 L265.78,313.55 L266.48,314.12 L267.19,314.31 L267.9,314.57 L268.62,314.76 L269.34,315.02 L270.05,315.26 L270.77,315.44 L271.49,315.59 L272.21,315.85 L272.91,316.18 L273.62,316.2 L274.31,316.61 L275,316.86 L275.68,316.88 L276.36,317.27 L277.05,317.44 L277.73,317.44 L278.41,317.82 L279.09,317.67 L279.77,317.8 L280.45,318.36 L281.14,318.43 L281.82,318.56 L282.5,318.75 L283.18,318.77 L283.86,319.24 L284.55,319.16 L285.23,319.26 L285.91,319.62 L286.59,319.75 L287.27,319.9 L287.95,319.79 L288.64,320.09 L289.32,320.33 L290,320.45 L290.71,320.61 L291.43,320.71 L292.14,320.75 L292.86,320.67 L293.57,320.82 L294.29,321.22 L295,321.34 L295.71,321.22 L296.43,321.16 L297.14,321.25 L297.86,321.64 L298.57,321.65 L299.29,321.72 L300,321.56 L300.71,321.7 L301.43,321.96 L302.14,321.77 L302.86,322.06 L303.57,321.92 L304.29,322.25 L305,322.24 L305.72,322.57 L306.45,322.56 L307.19,322.59 L307.93,322.54 L308.68,322.74 L309.43,322.69 L310.19,323.03 L310.94,323.13 L311.69,323.3 L312.44,323.18 L313.18,323.5 L313.92,323.54 L314.65,323.48 L315.37,323.7 L316.08,323.5 L316.77,323.97 L317.45,323.79 L318.12,323.93 L318.77,323.88 L319.39,323.85 L320,323.98 L320.87,324.07 L321.69,324.27 L322.47,324.13 L323.22,324.24 L323.94,323.98 L324.64,324.19 L325.31,323.93 L325.98,324.18 L326.63,324.09 L327.29,324.09 L327.95,323.85 L328.62,323.59 L329.3,323.7 L330,323.37 L330.67,323.27 L331.36,323.2 L332.05,322.8 L332.74,322.31 L333.44,322.06 L334.14,321.93 L334.84,321.81 L335.53,321.24 L336.22,321.12 L336.89,320.55 L337.55,320.22 L338.19,319.93 L338.82,319.59 L339.42,319.43 L340,319.19 L340.83,319.09 L341.62,318.66 L342.38,318.51 L343.11,317.95 L343.81,317.88 L344.49,317.68 L345.14,317.31 L345.78,317.28 L346.39,316.95 L347,316.76 L347.82,316.78 L348.57,316.5 L349.28,316.25 L349.96,316.46 L350.63,316.09 L351.3,315.82 L352,315.64 L352.45,315.18 L352.91,314.6 L353.36,314.26 L353.82,313.67 L354.27,313.1 L354.73,312.66 L355.18,312 L355.64,311.53 L356.09,310.94 L356.55,310.27 L357,309.29 L357.42,308.75 L357.83,308.27 L358.25,307.67 L358.67,307.24 L359.08,306.32 L359.5,305.81 L359.92,305.3 L360.33,304.51 L360.75,303.88 L361.17,303.28 L361.58,302.59 L362,302.38 L362.42,301.47 L362.83,300.78 L363.25,300.15 L363.67,299.66 L364.08,299.33 L364.5,298.38 L364.92,297.81 L365.33,297.24 L365.75,296.51 L366.17,296.24 L366.58,295.55 L367,295.15 L367.45,294.52 L367.91,293.67 L368.36,293.12 L368.82,292.56 L369.27,292.19 L369.73,291.6 L370.18,290.87 L370.64,290.45 L371.09,290.12 L371.55,289.55 L372,288.84 L372.51,288.24 L373.03,287.99 L373.56,287.39 L374.1,286.88 L374.62,286.04 L375.14,285.82 L375.65,285.05 L376.13,284.93 L376.58,284.29 L377,283.95 L377.87,283.27 L378.56,283.01 L379.23,282.88 L380,282.94 L380.5,283.24 L381.01,283.6 L381.54,284.39 L382.09,285.15 L382.68,285.78 L383.31,286.3 L384,286.56 L384.63,286.81 L385.27,286.8 L385.93,286.7 L386.62,286.74 L387.37,286.7 L388.17,286.5 L389.04,286.2 L390,285.81 L390.59,285.82 L391.22,285.97 L391.88,285.46 L392.57,285.65 L393.28,285.16 L394.01,285.38 L394.75,284.88 L395.5,284.79 L396.26,284.68 L397.03,284.23 L397.78,284.37 L398.54,283.81 L399.28,283.69 L400,283.71 L400.67,283.08 L401.33,283.01 L402,282.68 L402.67,282.39 L403.33,281.98 L404,281.99 L404.67,281.71 L405.33,281.25 L406,280.95 L406.67,280.81 L407.33,280.39 L408,279.92 L408.67,279.54 L409.33,279.26 L410,279.16 L410.67,278.96 L411.36,278.71 L412.05,278.27 L412.74,278.01 L413.44,277.86 L414.14,277.87 L414.84,277.43 L415.53,277.12 L416.22,277.21 L416.89,276.98 L417.55,276.69 L418.19,276.49 L418.82,275.91 L419.42,275.61 L420,275.53 L420.7,275.36 L421.39,274.89 L422.05,274.26 L422.7,274.15 L423.33,273.86 L423.94,273.32 L424.52,272.91 L425.07,272.57 L425.6,272.29 L426.1,271.68 L426.57,271.1 L427,270.71 L427.4,270.22 L427.75,269.69 L428.07,268.85 L428.36,268.12 L428.62,267.41 L428.86,266.93 L429.08,266.4 L429.28,265.58 L429.47,264.48 L429.65,263.95 L429.83,262.98 L430,262.24 L430.12,261.73 L430.23,260.71 L430.33,260.11 L430.43,259.4 L430.52,258.64 L430.6,257.79 L430.68,256.62 L430.75,255.82 L430.82,255.22 L430.88,254.14 L430.94,253.74 L430.99,252.81 L431.04,252 L431.08,251.26 L431.12,250.74 L431.16,250.19 L431.2,249.98" fill="none" stroke="#e4641c" stroke-width="1.4" stroke-linejoin="round" stroke-linecap="round" opacity="1" clip-path="url(#c11)"/>
<path d="M431.2,251 L431.7,235 L431.8,200 L431.9,177" fill="none" stroke="#ee9a6a" stroke-width="1.4" stroke-linejoin="round" stroke-linecap="round" opacity="1" clip-path="url(#c11)"/>
<path d="M431.8,205 L431.8,215" fill="none" stroke="#e4641c" stroke-width="1.4" stroke-linejoin="round" stroke-linecap="round" opacity="1" clip-path="url(#c11)"/>
<line x1="351.9" y1="256" x2="351.9" y2="260.9" stroke="#111" stroke-width="1.5"/>
<path d="M350,260.4 L353.8,260.4 L351.9,265 Z" fill="#111"/>
<line x1="343.9" y1="295" x2="343.9" y2="299.4" stroke="#111" stroke-width="1.5"/>
<path d="M342,298.9 L345.8,298.9 L343.9,303.5 Z" fill="#111"/>
<line x1="320.7" y1="313.6" x2="320.7" y2="318.4" stroke="#111" stroke-width="1.5"/>
<path d="M318.8,317.9 L322.6,317.9 L320.7,322.5 Z" fill="#111"/>
<line x1="373.3" y1="268.7" x2="373.3" y2="273.6" stroke="#111" stroke-width="1.5"/>
<path d="M371.4,269.2 L375.2,269.2 L373.3,264.6 Z" fill="#111"/>
<path d="M459.5,194.16 L459.88,194.13 L460.3,194.28 L460.77,194.15 L461.28,194.47 L461.83,194.32 L462.42,194.41 L463.04,194.36 L463.69,194.34 L464.37,194.34 L465.07,194.33 L465.8,194.36 L466.55,194.59 L467.32,194.33 L468.1,194.74 L468.9,194.65 L469.71,194.67 L470.52,194.62 L471.35,194.56 L472.17,194.5 L472.99,194.66 L473.82,194.76 L474.63,194.51 L475.44,194.71 L476.24,194.65 L477.03,194.85 L477.8,194.7 L478.56,194.66 L479.29,194.94 L480,194.87 L480.73,194.62 L481.46,194.7 L482.19,194.75 L482.93,194.69 L483.67,194.77 L484.41,194.82 L485.15,194.98 L485.9,194.86 L486.64,195.05 L487.38,194.8 L488.13,195.05 L488.87,195.04 L489.61,194.94 L490.34,194.73 L491.08,194.71 L491.8,194.78 L492.53,195.03 L493.25,194.99 L493.96,194.75 L494.66,194.85 L495.36,194.86 L496.05,194.83 L496.74,194.76 L497.41,194.95 L498.07,194.67 L498.73,194.86 L499.37,194.87 L500,194.86 L500.83,194.69 L501.66,194.79 L502.48,194.78 L503.29,194.84 L504.09,194.53 L504.88,194.71 L505.67,194.47 L506.44,194.58 L507.2,194.21 L507.94,194.2 L508.68,194.33 L509.39,194.16 L510.09,194.21 L510.78,194.12 L511.44,193.88 L512.09,193.8 L512.72,193.9 L513.32,194.01 L513.9,193.69 L514.46,193.86 L515,193.67 L516.04,193.3 L516.96,193.07 L517.78,193 L518.52,192.73 L519.19,192.74 L519.8,192.6 L520.37,192.13 L520.92,192.02 L521.46,191.83 L522,191.73 L522.99,191.71 L523.82,191.74 L524.54,191.42 L525.25,191.78 L526,192 L526.56,192.33 L527.11,192.53 L527.66,193.06 L528.22,193.87 L528.78,194.25 L529.38,194.74 L530,195.22 L530.58,195.53 L531.18,196.06 L531.8,196.53 L532.44,196.69 L533.08,197.41 L533.73,197.61 L534.37,197.99 L535,198.59 L535.62,198.77 L536.25,199.16 L536.88,199.72 L537.5,200.39 L538.12,200.54 L538.75,200.99 L539.38,201.43 L540,201.92 L540.62,202.55 L541.25,202.73 L541.88,203.15 L542.5,203.49 L543.12,203.64 L543.75,204.31 L544.38,204.46 L545,204.71 L545.62,205.45 L546.25,205.55 L546.88,206.17 L547.5,206.29 L548.12,206.84 L548.75,207.45 L549.38,207.47 L550,207.97 L550.71,208.54 L551.43,208.72 L552.14,209.06 L552.86,209.18 L553.57,209.46 L554.29,210 L555,210.5 L555.62,210.61 L556.25,211.17 L556.88,211.65 L557.5,211.89 L558.12,212.32 L558.75,212.72 L559.38,213.56 L560,213.91 L560.45,214.35 L560.91,215.08 L561.36,215.33 L561.82,215.83 L562.27,216.66 L562.73,217.14 L563.18,217.83 L563.64,218.27 L564.09,218.72 L564.55,219.25 L565,219.96 L565.45,220.45 L565.91,221.18 L566.36,221.81 L566.82,222.21 L567.27,222.7 L567.73,223.37 L568.18,223.75 L568.64,224.57 L569.09,224.83 L569.55,225.45 L570,225.98 L570.56,226.43 L571.11,227.22 L571.67,227.72 L572.22,228.09 L572.78,228.66 L573.33,228.86 L573.89,229.6 L574.44,229.96 L575,230.46 L575.5,231.13 L576,231.76 L576.5,232.25 L577,232.98 L577.5,233.19 L578,233.95 L578.5,234.74 L579,235.28 L579.5,235.78 L580,236.48 L580.51,236.88 L581.03,237.61 L581.56,238.06 L582.1,238.6 L582.62,239.25 L583.14,240.08 L583.65,240.4 L584.13,241 L584.58,241.33 L585,242.04 L585.62,242.53 L586.15,243.15 L586.62,243.8 L587.07,244.37 L587.52,244.76 L588,245.33 L588.5,245.92 L589,246.53 L589.5,247.4 L590,247.86 L590.5,248.57 L591,249 L591.75,249.47 L592.5,249.67 L593.25,250.18 L594,250.26 L594.75,250.46 L595.5,250.59 L596.25,250.62 L597,250.72 L597.57,251.09 L598.1,251.65 L598.66,251.62 L599.27,252.18 L600,252.9 L600.4,253.24 L600.79,253.46 L601.2,254.12 L601.62,254.27 L602.06,254.51 L602.54,255.05 L603.07,255.71 L603.65,256.35 L604.29,257.01 L605,257.99 L605.33,258.22 L605.67,258.89 L606.04,259.25 L606.44,260.03 L606.84,260.51 L607.27,260.83 L607.7,261.77 L608.15,262.43 L608.6,262.82 L609.07,263.67 L609.53,264.12 L610,265 L610.47,265.64 L610.93,266.16 L611.4,266.98 L611.85,267.48 L612.3,268.21 L612.73,268.71 L613.16,269.45 L613.56,269.85 L613.96,270.56 L614.33,271.05 L614.67,271.51 L615,272 L615.58,272.74 L616.06,273.27 L616.48,274.1 L616.85,274.47 L617.18,274.74 L617.5,275.44 L617.82,275.82 L618.15,276.34 L618.52,276.7 L618.94,277.21 L619.42,278.09 L620,278.93 L620.31,279.33 L620.63,279.57 L620.97,280.04 L621.32,280.91 L621.68,281.1 L622.05,281.89 L622.44,282.46 L622.83,282.76 L623.23,283.52 L623.64,284.05 L624.06,284.8 L624.48,285.44 L624.9,286.04 L625.33,286.7 L625.76,287.34 L626.19,287.97 L626.63,288.77 L627.06,289.2 L627.49,289.7 L627.92,290.44 L628.35,291.19 L628.77,291.6 L629.19,292.37 L629.6,292.73 L630,293.64 L630.42,294.28 L630.83,294.56 L631.25,295.23 L631.67,295.9 L632.08,296.34 L632.5,297.21 L632.92,297.65 L633.33,298.36 L633.75,298.69 L634.17,299.58 L634.58,300.18 L635,300.47 L635.42,301.32 L635.83,301.71 L636.25,302.39 L636.67,302.83 L637.08,303.45 L637.5,304.12 L637.92,304.65 L638.33,305.36 L638.75,305.84 L639.17,306.56 L639.58,306.88 L640,307.58 L640.46,307.96 L640.93,308.75 L641.4,309.51 L641.89,310.07 L642.37,310.72 L642.86,311.13 L643.35,311.93 L643.85,312.29 L644.34,313.22 L644.83,313.79 L645.31,314.38 L645.79,314.9 L646.27,315.25 L646.73,315.83 L647.19,316.44 L647.63,317.02 L648.07,317.71 L648.49,318.03 L648.89,318.5 L649.28,318.92 L649.65,319.51 L650,320.12 L650.66,320.89 L651.28,321.8 L651.86,322.17 L652.4,323.22 L652.89,323.88 L653.35,324.08 L653.76,324.92 L654.13,325.1 L654.46,325.6 L654.75,326.12 L655,326.56" fill="none" stroke="#141414" stroke-width="1.5" stroke-linejoin="round" stroke-linecap="round" opacity="1" clip-path="url(#c21)"/>
<path d="M459.5,201.8 L459.87,201.49 L460.28,201.38 L460.72,201.55 L461.18,201.67 L461.68,201.29 L462.21,201.74 L462.76,201.67 L463.34,201.61 L463.95,201.82 L464.58,201.84 L465.23,201.73 L465.9,201.56 L466.6,201.46 L467.31,201.5 L468.04,201.82 L468.79,201.7 L469.56,201.36 L470.34,201.57 L471.13,201.71 L471.94,201.58 L472.75,201.7 L473.58,201.4 L474.42,201.49 L475.26,201.44 L476.11,201.43 L476.97,201.67 L477.83,201.41 L478.69,201.88 L479.56,201.78 L480.43,201.78 L481.29,202.03 L482.16,201.67 L483.02,202.06 L483.88,201.91 L484.74,201.52 L485.58,201.79 L486.43,201.89 L487.26,201.82 L488.08,201.56 L488.9,201.69 L489.7,201.57 L490.49,201.58 L491.26,201.58 L492.02,201.96 L492.77,202.12 L493.49,201.86 L494.2,202.15 L494.89,201.7 L495.55,201.94 L496.2,201.89 L496.82,201.77 L497.42,201.99 L497.99,202.11 L498.54,202.15 L499.05,201.77 L499.54,202.02 L500,202.05 L501.65,202.3 L503.03,201.81 L504.16,202.34 L505.08,201.88 L505.82,202.33 L506.42,202.05 L506.91,202 L507.31,202.04 L507.68,202.3 L508.03,202.17 L508.41,202.25 L508.84,202.33 L509.36,202.71 L510,202.28 L510.71,202.43 L511.43,202.46 L512.14,202.86 L512.86,202.84 L513.57,202.92 L514.29,203.28 L515,203.11 L515.71,203.35 L516.43,203.46 L517.14,204.06 L517.86,203.7 L518.57,204.23 L519.29,204.54 L520,204.16 L520.71,204.79 L521.43,204.5 L522.14,205.08 L522.86,204.98 L523.57,205.02 L524.29,205.08 L525,205.55 L525.71,205.76 L526.43,205.72 L527.14,205.74 L527.86,206.17 L528.57,205.98 L529.29,205.96 L530,206.38 L530.71,206.57 L531.43,206.63 L532.14,206.45 L532.86,207.02 L533.57,206.7 L534.29,207.22 L535,207.14 L535.71,207.47 L536.43,207.32 L537.14,207.4 L537.86,207.74 L538.57,207.55 L539.29,207.97 L540,207.96 L540.73,208.43 L541.47,208.55 L542.23,208.36 L543,208.74 L543.78,208.96 L544.55,208.82 L545.31,209.3 L546.06,209.31 L546.8,209.23 L547.51,209.68 L548.19,209.87 L548.83,210.26 L549.44,210.13 L550,210.27 L550.93,210.74 L551.65,211.32 L552.23,211.52 L552.77,211.84 L553.35,212.01 L554.07,212.41 L555,212.87 L555.56,212.78 L556.17,212.95 L556.81,213.51 L557.49,213.28 L558.2,213.85 L558.94,214.02 L559.69,213.85 L560.45,214.55 L561.22,214.62 L562,214.53 L562.77,214.84 L563.53,214.83 L564.27,215.13 L565,215.49 L565.71,215.45 L566.43,215.35 L567.14,215.72 L567.86,215.82 L568.57,215.9 L569.29,215.84 L570,215.58 L570.71,216 L571.43,215.63 L572.14,215.56 L572.86,216.04 L573.57,215.86 L574.29,215.98 L575,216.08 L575.73,216.1 L576.47,215.86 L577.23,215.61 L578,215.55 L578.78,215.84 L579.55,215.87 L580.31,215.78 L581.06,215.7 L581.8,215.3 L582.51,215.66 L583.19,215.55 L583.83,215.22 L584.44,215.49 L585,215.04 L585.99,214.95 L586.85,215.12 L587.6,214.77 L588.26,214.96 L588.86,215.09 L589.43,215.1 L590,215.33 L590.73,215.49 L591.34,216.17 L591.9,216.65 L592.43,217.08 L593,217.79 L593.58,218.41 L594.15,218.53 L594.73,219.47 L595.34,219.61 L596,220.29 L596.64,220.23 L597.24,219.91 L597.92,219.57 L598.8,219.42 L600,218.77 L600.53,218.93 L601.11,218.26 L601.75,218.41 L602.42,218.04 L603.13,217.83 L603.87,217.67 L604.62,217.8 L605.4,217.33 L606.18,217.38 L606.97,217.11 L607.75,217.19 L608.52,216.5 L609.27,216.38 L610,216.22 L610.71,216.19 L611.43,216.17 L612.14,216.08 L612.86,215.69 L613.57,215.77 L614.29,215.29 L615,214.97 L615.71,214.96 L616.43,215.04 L617.14,214.57 L617.86,214.31 L618.57,214.38 L619.29,214.43 L620,214.06 L620.71,214.09 L621.43,213.46 L622.14,213.57 L622.86,213.48 L623.57,212.87 L624.29,212.86 L625,212.87 L625.71,212.82 L626.43,212.29 L627.14,212.26 L627.86,211.84 L628.57,211.8 L629.29,211.68 L630,211.45 L630.71,211.61 L631.43,211.4 L632.14,210.9 L632.86,210.87 L633.57,210.76 L634.29,210.57 L635,210.1 L635.71,210.1 L636.43,210.22 L637.14,209.58 L637.86,209.61 L638.57,209.77 L639.29,209.61 L640,209.09 L640.73,208.81 L641.48,209.04 L642.24,208.9 L643.02,208.83 L643.8,208.83 L644.57,208.64 L645.34,208.67 L646.1,208.17 L646.83,208.13 L647.54,208.28 L648.22,207.93 L648.86,208.08 L649.46,208.09 L650,207.93 L651.12,208.12 L652.07,207.81 L652.88,207.74 L653.54,207.71 L654.07,207.75 L654.5,207.96" fill="none" stroke="#86188c" stroke-width="1.6" stroke-linejoin="round" stroke-linecap="round" opacity="1" clip-path="url(#c21)"/>
<path d="M459.5,230.59 L459.86,230.89 L460.26,230.59 L460.68,230.6 L461.12,230.82 L461.59,230.75 L462.09,230.68 L462.6,230.67 L463.14,231.03 L463.71,230.85 L464.29,230.94 L464.9,231.06 L465.52,231.09 L466.16,230.67 L466.83,230.86 L467.51,230.69 L468.2,231.06 L468.91,230.87 L469.64,230.76 L470.38,230.94 L471.14,230.84 L471.9,231.11 L472.68,230.84 L473.48,230.8 L474.28,230.77 L475.09,231.14 L475.91,231.11 L476.74,230.86 L477.57,230.85 L478.42,231.06 L479.27,230.94 L480.12,231.26 L480.98,231.14 L481.84,231.22 L482.7,231.19 L483.57,231.06 L484.44,231.13 L485.31,231.09 L486.17,231.3 L487.04,230.98 L487.91,231.27 L488.77,231.15 L489.63,231.33 L490.48,231.36 L491.33,231.39 L492.18,231.19 L493.01,231 L493.84,231.36 L494.67,231 L495.48,231.4 L496.28,231 L497.08,231.36 L497.86,231.14 L498.63,231.09 L499.39,231.39 L500.14,231.04 L500.87,231.25 L501.58,231.38 L502.28,231.28 L502.97,231.19 L503.63,231.11 L504.28,231.09 L504.91,231.34 L505.52,231.08 L506.11,231.05 L506.68,231.26 L507.22,231.24 L507.75,231.43 L508.25,231.03 L508.72,231.01 L509.18,231.24 L509.6,231 L510,231.38 L513.12,231.15 L514.8,230.73 L515.43,230.36 L515.38,230.1 L515.04,229.94 L514.79,229.47 L515,229.57 L515.84,229.57 L516.5,229.97 L517.16,230.37 L518,231.29 L518.38,231.69 L518.8,232.19 L519.25,232.69 L519.71,233.33 L520.19,233.76 L520.68,234.19 L521.17,235 L521.65,235.43 L522.12,236.1 L522.58,236.86 L523,237.42 L523.44,238.22 L523.86,238.99 L524.27,239.36 L524.67,239.96 L525.06,240.84 L525.45,241.56 L525.83,242.22 L526.22,242.79 L526.6,243.34 L527,244.19 L527.5,244.53 L528,245.3 L528.5,246.18 L529,246.7 L529.5,247.3 L530,247.59 L530.5,248.23 L531,248.5 L531.64,249.13 L532.26,249.67 L532.88,249.71 L533.52,250 L534.22,250.38 L535,250.76 L535.68,250.86 L536.45,251.06 L537.28,251.17 L538.12,251.37 L538.96,251.55 L539.73,252 L540.43,252.05 L541,252.29 L541.89,252.9 L542.33,253.83 L543,254.08 L543.53,253.83 L544.11,253.82 L544.75,253.31 L545.44,252.95 L546.19,252.72 L547,252.21 L547.58,252.08 L548.2,252.01 L548.85,251.35 L549.53,251.11 L550.22,251.13 L550.93,250.54 L551.63,250.62 L552.32,250.12 L553,249.87 L553.75,249.85 L554.5,249.71 L555.25,249.57 L556,249.31 L556.75,249.12 L557.5,248.79 L558.25,249.02 L559,248.66 L559.72,248.7 L560.41,248.64 L561.07,248.26 L561.75,248.08 L562.46,247.98 L563.22,247.97 L564.06,247.54 L565,247.48 L565.6,247.32 L566.26,247.14 L566.97,247.05 L567.71,246.52 L568.48,246.43 L569.27,246.21 L570.06,245.9 L570.85,245.7 L571.63,245.58 L572.39,245.52 L573.12,244.92 L573.8,245.01 L574.43,244.76 L575,244.51 L575.96,244.59 L576.73,244.28 L577.39,244.03 L577.98,244.03 L578.57,243.97 L579.22,244.07 L580,243.74 L580.64,243.96 L581.34,243.83 L582.08,243.63 L582.85,243.45 L583.62,243.43 L584.39,243.58 L585.13,243.54 L585.82,243.38 L586.45,243.02 L587,242.92 L587.87,242.69 L588.31,242.64 L588.85,242.03 L590,241.4 L590.46,241.3 L590.98,241.19 L591.55,240.61 L592.16,240.56 L592.81,240.24 L593.5,240.05 L594.2,239.57 L594.93,239.4 L595.66,238.91 L596.41,238.97 L597.15,238.66 L597.89,238.04 L598.61,237.75 L599.32,237.65 L600,237.39 L600.68,237 L601.37,237 L602.08,236.72 L602.8,236.21 L603.52,236.15 L604.24,235.61 L604.96,235.61 L605.67,235.33 L606.36,234.86 L607.04,234.59 L607.69,234.38 L608.32,234.29 L608.92,233.79 L609.48,233.68 L610,233.49 L610.89,232.89 L611.5,232.61 L611.97,232.49 L612.42,232.34 L612.99,231.86 L613.8,231.36 L615,231.31 L615.47,230.73 L615.99,230.68 L616.54,230.34 L617.12,230.32 L617.73,230.09 L618.37,230.06 L619.03,229.61 L619.72,229.45 L620.42,229.16 L621.14,228.86 L621.88,228.68 L622.62,228.57 L623.37,228.02 L624.12,227.95 L624.88,227.56 L625.64,227.33 L626.39,227.03 L627.14,226.79 L627.87,226.82 L628.6,226.22 L629.31,226.39 L630,226.1 L630.69,225.93 L631.38,225.69 L632.09,225.4 L632.8,225.22 L633.52,225.17 L634.24,224.67 L634.96,224.48 L635.69,224.46 L636.41,224.16 L637.13,224.28 L637.84,224.07 L638.55,223.57 L639.26,223.6 L639.95,223.3 L640.63,223.28 L641.31,223.16 L641.96,223.15 L642.61,222.65 L643.23,222.6 L643.84,222.74 L644.43,222.67 L645,222.35 L645.94,222.4 L646.86,222.01 L647.76,222.07 L648.64,222 L649.49,221.77 L650.3,221.99 L651.07,222.1 L651.79,221.88 L652.46,221.74 L653.07,221.95 L653.62,221.88 L654.1,221.85 L654.5,221.72" fill="none" stroke="#dc2e26" stroke-width="1.4" stroke-linejoin="round" stroke-linecap="round" opacity="1" clip-path="url(#c21)"/>
<path d="M459.5,243.32 L460.2,243.09 L460.91,243.42 L461.61,243.01 L462.32,243.09 L463.02,243.09 L463.73,243.12 L464.43,243.18 L465.14,243.13 L465.84,243.32 L466.55,243.25 L467.25,243.13 L467.96,243.28 L468.66,243.07 L469.37,243.38 L470.07,243.28 L470.77,243.33 L471.48,243.13 L472.18,243.04 L472.89,243.1 L473.59,242.98 L474.3,243.2 L475,243.22 L475.71,243.29 L476.41,243.09 L477.12,243.18 L477.82,243.2 L478.53,243 L479.23,243.28 L479.94,243.18 L480.64,243.15 L481.35,243.42 L482.05,243.34 L482.75,243.3 L483.46,243.32 L484.16,243.35 L484.87,243.09 L485.57,243.13 L486.28,243.26 L486.98,243.35 L487.69,243.2 L488.39,243.1 L489.1,243.3 L489.8,243.15 L490.51,243.2 L491.21,243.05 L491.92,243.04 L492.62,243.19 L493.33,242.98 L494.03,243.35 L494.73,243.24 L495.44,243.13 L496.14,243.14 L496.85,243.2 L497.55,243.02 L498.26,243.17 L498.96,243 L499.67,243.14 L500.37,243.01 L501.08,243.06 L501.78,243.42 L502.49,243.31 L503.19,243.3 L503.9,243.07 L504.6,243.33" fill="none" stroke="#54a82c" stroke-width="1.4" stroke-linejoin="round" stroke-linecap="round" opacity="1" clip-path="url(#c21)"/>
<path d="M504.7,243.15 L504.71,243.45 L504.72,244.11 L504.73,244.29 L504.75,245.16 L504.76,245.6 L504.78,246.25 L504.79,246.7 L504.81,247.3 L504.83,248.31 L504.85,249.2 L504.87,249.93 L504.89,250.52 L504.91,251.45 L504.93,252.55 L504.95,253.5 L504.98,254.28 L505,255.46 L505.01,256.01 L505.02,256.45 L505.03,257.16 L505.04,257.82 L505.06,258.38 L505.07,259.33 L505.08,259.95 L505.09,260.53 L505.09,261.44 L505.1,262.31 L505.11,262.96 L505.13,263.55 L505.14,264.55 L505.15,265.22 L505.16,266.27 L505.17,266.73 L505.18,267.79 L505.19,268.36 L505.21,269.07 L505.22,269.87 L505.24,270.83 L505.25,271.54 L505.27,272.46 L505.29,272.94 L505.3,273.65 L505.32,274.34 L505.35,275.15 L505.37,275.93 L505.39,276.27 L505.42,277.09 L505.44,277.7 L505.47,277.97 L505.5,278.54 L505.6,279.89 L505.71,281.09 L505.82,282.04 L505.95,282.91 L506.09,283.55 L506.23,283.75 L506.38,284.43 L506.53,284.95 L506.68,285.14 L506.84,285.73 L507,286.42 L507.3,287.27 L507.63,287.71 L507.97,288.61 L508.31,289.23 L508.66,289.67 L509,289.94 L509.51,290.88 L510.03,291.73 L510.54,292.2 L511,292.51 L511.81,291.93 L512.5,291.53 L512.94,291.87 L513.5,292.69 L513.98,292.98 L514.56,293.26 L515.23,293.42 L516,294.17 L516.59,294.11 L517.26,294.68 L517.97,295.1 L518.69,295.34 L519.37,295.61 L520,295.82 L520.8,296.39 L521.5,297 L522.2,297.29 L523,297.61 L523.62,298.22 L524.3,298.36 L525,298.8 L525.7,299.03 L526.38,299.14 L527,299.19 L527.77,299.14 L528.44,298.72 L529.13,298.26 L530,297.71 L530.63,297.48 L531.34,297.22 L532.11,296.83 L532.89,296.39 L533.66,296 L534.37,295.41 L535,295.31 L535.89,294.94 L536.62,294.85 L537.3,294.95 L538,294.65 L538.73,294.97 L539.44,295.24 L540.18,295.09 L541,295.24 L541.6,295 L542.22,294.91 L542.88,294.93 L543.56,294.23 L544.26,294.25 L545,293.84 L545.68,293.7 L546.41,293.88 L547.18,293.51 L547.94,293.43 L548.69,293.67 L549.38,293.32 L550,293.71 L550.89,293.7 L551.62,294.02 L552.3,294.5 L553,294.62 L553.73,294.43 L554.44,293.79 L555.18,293.65 L556,292.98 L556.64,292.94 L557.24,293.06 L557.92,292.63 L558.8,292.85 L560,292.62 L560.53,292.09 L561.11,292.2 L561.75,291.86 L562.42,292.03 L563.13,291.8 L563.87,291.52 L564.62,291.32 L565.4,291.04 L566.18,291.07 L566.97,290.79 L567.75,290.67 L568.52,290.21 L569.27,290.35 L570,289.88 L570.68,289.65 L571.37,289.52 L572.08,289.1 L572.8,289 L573.52,288.63 L574.24,288.62 L574.96,288.17 L575.67,288.12 L576.36,287.8 L577.04,287.31 L577.69,287.04 L578.32,287.15 L578.92,286.58 L579.48,286.51 L580,286.46 L580.96,286.08 L581.73,285.73 L582.39,285.91 L582.98,285.71 L583.57,285.3 L584.22,285.35 L585,285 L585.61,285.1 L586.26,284.81 L586.92,285.09 L587.61,285.1 L588.31,284.89 L589.03,284.66 L589.76,284.52 L590.5,284.69 L591.25,284.19 L592,283.91 L592.58,283.66 L593.16,283.53 L593.74,283.13 L594.32,282.84 L594.91,282.49 L595.51,281.72 L596.12,281.55 L596.73,280.84 L597.36,280.77 L598,280.23 L598.65,279.59 L599.32,279.57 L600,279.19 L600.66,279.03 L601.37,278.76 L602.1,278.56 L602.86,278.24 L603.63,278.07 L604.41,277.53 L605.19,277.74 L605.96,277.25 L606.72,277.13 L607.45,277.19 L608.15,276.88 L608.82,276.75 L609.43,276.47 L610,276.41 L610.98,275.8 L611.79,275.37 L612.49,275.29 L613.12,274.77 L613.72,274.46 L614.33,274.16 L615,274.18 L615.67,273.72 L616.28,273.72 L616.88,273.38 L617.51,273.18 L618.21,272.68 L619.02,272.7 L620,272.48 L620.56,272.32 L621.17,271.83 L621.81,271.92 L622.49,271.52 L623.2,271.35 L623.94,271.22 L624.69,270.83 L625.45,270.79 L626.22,270.43 L627,270.45 L627.77,269.89 L628.53,269.73 L629.27,269.68 L630,269.27 L630.72,269.38 L631.45,269.11 L632.18,268.85 L632.92,268.56 L633.65,268.45 L634.39,268.44 L635.12,268.19 L635.85,267.89 L636.58,267.55 L637.29,267.32 L637.99,267.51 L638.68,266.97 L639.35,266.88 L640,267 L640.81,266.69 L641.6,266.7 L642.37,266.38 L643.12,266.22 L643.86,266.24 L644.58,266.37 L645.29,266.19 L645.98,265.9 L646.66,265.95 L647.34,266.09 L648,265.87 L648.82,265.73 L649.67,265.7 L650.52,265.19 L651.35,265.15 L652.14,264.95 L652.87,264.97 L653.52,264.85 L654.07,264.55 L654.5,264.49" fill="none" stroke="#54a82c" stroke-width="1.4" stroke-linejoin="round" stroke-linecap="round" opacity="1" clip-path="url(#c21)"/>
<path d="M459.5,318.64 L459.87,318.61 L460.29,318.95 L460.73,318.63 L461.21,318.77 L461.73,318.64 L462.27,318.78 L462.85,318.9 L463.45,318.99 L464.08,318.56 L464.74,318.65 L465.42,318.86 L466.12,318.88 L466.84,318.62 L467.58,318.68 L468.34,318.59 L469.12,318.86 L469.91,318.86 L470.72,318.67 L471.54,318.54 L472.37,318.62 L473.21,318.93 L474.05,318.54 L474.91,318.57 L475.76,318.51 L476.62,318.8 L477.49,318.78 L478.35,318.76 L479.21,318.81 L480.08,318.65 L480.93,318.8 L481.78,318.49 L482.63,318.53 L483.46,318.59 L484.29,318.73 L485.11,318.64 L485.91,318.48 L486.7,318.63 L487.47,318.51 L488.23,318.68 L488.96,318.72 L489.68,318.65 L490.38,318.57 L491.05,318.66 L491.7,318.53 L492.32,318.77 L492.92,318.81 L493.49,318.68 L494.02,318.61 L494.53,318.75 L495,318.57 L496.52,318.46 L497.84,318.64 L498.98,318.52 L499.96,318.47 L500.8,318.51 L501.52,318.38 L502.12,318.38 L502.65,318.29 L503.1,318.48 L503.51,318.41 L503.88,318.58 L504.24,318.37 L504.61,318.34 L505,318.36 L506.22,319.45 L506.5,319.62 L506.91,319.28 L507.36,318.76 L507.84,318.05 L508.39,317.1 L509,316.77 L509.58,316.27 L510.22,315.89 L510.91,315.36 L511.61,315.03 L512.32,314.78 L513,314.64 L513.66,314.44 L514.3,314.13 L514.94,313.65 L515.59,313.4 L516.28,313.39 L517,313.21 L517.66,312.87 L518.36,312.45 L519.07,312.14 L519.8,311.88 L520.54,311.84 L521.28,311.76 L522,311.5 L522.71,311.46 L523.43,311.36 L524.14,311.32 L524.86,311.16 L525.57,311.16 L526.29,311.05 L527,310.65 L527.71,310.65 L528.43,310.72 L529.14,310.82 L529.86,310.49 L530.57,310.84 L531.29,310.47 L532,310.64 L532.69,310.56 L533.34,310.43 L533.99,310.36 L534.65,310.01 L535.35,310.02 L536.13,309.92 L537,309.56 L537.61,309.59 L538.24,309.44 L538.91,309.48 L539.6,309.17 L540.32,309.36 L541.06,309.31 L541.82,308.86 L542.59,308.97 L543.38,309.04 L544.19,308.72 L545,308.38 L545.65,308.52 L546.32,308.26 L547.01,308.32 L547.71,308.3 L548.42,307.82 L549.15,307.79 L549.88,307.75 L550.61,307.66 L551.35,307.58 L552.08,307.28 L552.82,307.15 L553.55,306.97 L554.28,307.08 L555,306.59 L555.73,306.67 L556.47,306.6 L557.23,306.63 L558,306.54 L558.78,306.56 L559.55,306.33 L560.31,306.23 L561.06,306.3 L561.8,306.26 L562.51,306.36 L563.19,306.22 L563.83,306.26 L564.44,306.26 L565,306.41 L565.98,306.42 L566.79,306.58 L567.49,306.9 L568.12,306.89 L568.72,307.01 L569.33,306.92 L570,307.25 L570.67,307.08 L571.28,307.05 L571.88,307.27 L572.51,307.19 L573.21,307.07 L574.02,306.59 L575,306.72 L575.55,306.56 L576.12,306.28 L576.72,306.19 L577.35,306.21 L578,305.81 L578.67,305.96 L579.38,305.7 L580.1,305.69 L580.85,305.47 L581.63,304.95 L582.44,305.03 L583.27,304.58 L584.12,304.3 L585,304.16 L585.58,303.97 L586.18,304.09 L586.79,303.82 L587.42,303.51 L588.07,303.54 L588.73,303.41 L589.4,303.16 L590.09,302.97 L590.78,302.9 L591.48,302.88 L592.19,302.68 L592.9,302.22 L593.62,302.14 L594.34,302 L595.05,302.05 L595.77,301.87 L596.49,301.53 L597.21,301.45 L597.91,301.31 L598.62,300.75 L599.31,300.73 L600,300.78 L600.69,300.29 L601.4,300.3 L602.13,299.97 L602.86,299.81 L603.61,299.79 L604.36,299.59 L605.12,299.18 L605.88,299.13 L606.63,298.66 L607.38,298.74 L608.12,298.24 L608.86,298.31 L609.58,298.06 L610.28,297.73 L610.97,297.6 L611.63,297.46 L612.27,297.43 L612.88,297.09 L613.46,296.95 L614.01,296.82 L614.53,296.71 L615,296.5 L616.2,296.34 L617.01,296.18 L617.58,296.06 L618.03,296.4 L618.5,296.17 L619.11,296.23 L620,296.24 L620.56,295.98 L621.17,296.17 L621.81,295.9 L622.49,295.96 L623.2,295.79 L623.94,295.97 L624.69,295.73 L625.45,295.74 L626.22,295.87 L627,295.49 L627.77,295.33 L628.53,295.43 L629.27,295.55 L630,295.39 L630.7,295.29 L631.39,295 L632.06,294.95 L632.73,294.78 L633.39,295.04 L634.05,294.83 L634.72,294.58 L635.4,294.46 L636.1,294.43 L636.81,294.27 L637.56,294.34 L638.34,294.41 L639.15,293.92 L640,294 L640.64,293.91 L641.33,293.7 L642.07,293.57 L642.84,293.61 L643.65,293.67 L644.48,293.37 L645.32,293.17 L646.17,293.01 L647.03,292.94 L647.88,293.02 L648.71,292.78 L649.53,292.89 L650.32,292.74 L651.07,292.68 L651.79,292.25 L652.46,292.48 L653.07,292.38 L653.62,292.01 L654.1,292.32 L654.5,292.24" fill="none" stroke="#e4641c" stroke-width="1.4" stroke-linejoin="round" stroke-linecap="round" opacity="1" clip-path="url(#c21)"/>
<line x1="596.5" y1="208.7" x2="596.5" y2="213.7" stroke="#111" stroke-width="1.5"/>
<path d="M594.6,213.2 L598.4,213.2 L596.5,217.8 Z" fill="#111"/>
<line x1="543.3" y1="242.6" x2="543.3" y2="247.7" stroke="#111" stroke-width="1.5"/>
<path d="M541.4,247.2 L545.2,247.2 L543.3,251.8 Z" fill="#111"/>
<line x1="527.1" y1="287.6" x2="527.1" y2="293.2" stroke="#111" stroke-width="1.5"/>
<path d="M525.2,292.7 L529,292.7 L527.1,297.3 Z" fill="#111"/>
<line x1="506.6" y1="308.1" x2="506.6" y2="313.7" stroke="#111" stroke-width="1.5"/>
<path d="M504.7,313.2 L508.5,313.2 L506.6,317.8 Z" fill="#111"/>
<line x1="24.8" y1="69.1" x2="24.8" y2="91.3" stroke="#262626" stroke-width="1.1"/>
<line x1="22.8" y1="69.1" x2="26.8" y2="69.1" stroke="#262626" stroke-width="1.1"/>
<line x1="22.8" y1="91.3" x2="26.8" y2="91.3" stroke="#262626" stroke-width="1.1"/>
<rect x="20.4" y="35.15" width="7.6" height="31.7" fill="#fff"/>
<text transform="translate(27.3,51) rotate(-90)" font-size="8.8" text-anchor="middle">2000 µ<tspan font-style="italic">ε</tspan></text>
<line x1="55.2" y1="155" x2="94.2" y2="155" stroke="#262626" stroke-width="1.1"/>
<line x1="55.2" y1="153" x2="55.2" y2="157" stroke="#262626" stroke-width="1.1"/>
<line x1="94.2" y1="153" x2="94.2" y2="157" stroke="#262626" stroke-width="1.1"/>
<text x="97.8" y="156.9" font-size="8.6" text-anchor="start" letter-spacing="-0.22">0.2 msec</text>
<line x1="245.3" y1="71.6" x2="245.3" y2="100" stroke="#262626" stroke-width="1.1"/>
<line x1="243.3" y1="71.6" x2="247.3" y2="71.6" stroke="#262626" stroke-width="1.1"/>
<line x1="243.3" y1="100" x2="247.3" y2="100" stroke="#262626" stroke-width="1.1"/>
<rect x="240.9" y="43.65" width="7.6" height="26.7" fill="#fff"/>
<text transform="translate(247.8,57) rotate(-90)" font-size="8.8" text-anchor="middle">500 µ<tspan font-style="italic">ε</tspan></text>
<line x1="261.4" y1="154.3" x2="286.4" y2="154.3" stroke="#262626" stroke-width="1.1"/>
<line x1="261.4" y1="152.3" x2="261.4" y2="156.3" stroke="#262626" stroke-width="1.1"/>
<line x1="286.4" y1="152.3" x2="286.4" y2="156.3" stroke="#262626" stroke-width="1.1"/>
<text x="288.8" y="156.5" font-size="8.6" text-anchor="start" letter-spacing="-0.22">10 msec</text>
<line x1="467.6" y1="84.7" x2="467.6" y2="109.7" stroke="#262626" stroke-width="1.1"/>
<line x1="465.6" y1="84.7" x2="469.6" y2="84.7" stroke="#262626" stroke-width="1.1"/>
<line x1="465.6" y1="109.7" x2="469.6" y2="109.7" stroke="#262626" stroke-width="1.1"/>
<rect x="463.1" y="53.15" width="7.6" height="26.7" fill="#fff"/>
<text transform="translate(470,66.5) rotate(-90)" font-size="8.8" text-anchor="middle">200 µ<tspan font-style="italic">ε</tspan></text>
<line x1="509.4" y1="154.9" x2="539" y2="154.9" stroke="#262626" stroke-width="1.1"/>
<line x1="509.4" y1="152.9" x2="509.4" y2="156.9" stroke="#262626" stroke-width="1.1"/>
<line x1="539" y1="152.9" x2="539" y2="156.9" stroke="#262626" stroke-width="1.1"/>
<text x="541.9" y="156.8" font-size="8.6" text-anchor="start" letter-spacing="-0.22">200 msec</text>
<line x1="24.7" y1="280.3" x2="24.7" y2="305.5" stroke="#262626" stroke-width="1.1"/>
<line x1="22.7" y1="280.3" x2="26.7" y2="280.3" stroke="#262626" stroke-width="1.1"/>
<line x1="22.7" y1="305.5" x2="26.7" y2="305.5" stroke="#262626" stroke-width="1.1"/>
<rect x="20.4" y="245.65" width="7.6" height="31.7" fill="#fff"/>
<text transform="translate(27.3,261.5) rotate(-90)" font-size="8.8" text-anchor="middle">1000 µ<tspan font-style="italic">ε</tspan></text>
<line x1="48.7" y1="326.3" x2="81" y2="326.3" stroke="#262626" stroke-width="1.1"/>
<line x1="48.7" y1="324.3" x2="48.7" y2="328.3" stroke="#262626" stroke-width="1.1"/>
<line x1="81" y1="324.3" x2="81" y2="328.3" stroke="#262626" stroke-width="1.1"/>
<text x="84.1" y="328.3" font-size="8.6" text-anchor="start" letter-spacing="-0.22">0.001 msec</text>
<line x1="246" y1="246.5" x2="246" y2="279.8" stroke="#262626" stroke-width="1.1"/>
<line x1="244" y1="246.5" x2="248" y2="246.5" stroke="#262626" stroke-width="1.1"/>
<line x1="244" y1="279.8" x2="248" y2="279.8" stroke="#262626" stroke-width="1.1"/>
<rect x="241.7" y="217.15" width="7.6" height="26.7" fill="#fff"/>
<text transform="translate(248.6,230.5) rotate(-90)" font-size="8.8" text-anchor="middle">200 µ<tspan font-style="italic">ε</tspan></text>
<line x1="340.9" y1="326" x2="381.8" y2="326" stroke="#262626" stroke-width="1.1"/>
<line x1="340.9" y1="324" x2="340.9" y2="328" stroke="#262626" stroke-width="1.1"/>
<line x1="381.8" y1="324" x2="381.8" y2="328" stroke="#262626" stroke-width="1.1"/>
<text x="385.2" y="328.1" font-size="8.6" text-anchor="start" letter-spacing="-0.22">10 msec</text>
<line x1="467" y1="269.5" x2="467" y2="296.6" stroke="#262626" stroke-width="1.1"/>
<line x1="465" y1="269.5" x2="469" y2="269.5" stroke="#262626" stroke-width="1.1"/>
<line x1="465" y1="296.6" x2="469" y2="296.6" stroke="#262626" stroke-width="1.1"/>
<rect x="462.7" y="240.25" width="7.6" height="26.7" fill="#fff"/>
<text transform="translate(469.6,253.6) rotate(-90)" font-size="8.8" text-anchor="middle">100 µ<tspan font-style="italic">ε</tspan></text>
<line x1="532.5" y1="326" x2="556.5" y2="326" stroke="#262626" stroke-width="1.1"/>
<line x1="532.5" y1="324" x2="532.5" y2="328" stroke="#262626" stroke-width="1.1"/>
<line x1="556.5" y1="324" x2="556.5" y2="328" stroke="#262626" stroke-width="1.1"/>
<text x="559.5" y="328.1" font-size="8.6" text-anchor="start" letter-spacing="-0.22">20 msec</text>
<rect x="22.5" y="9.1" width="12" height="11.5" fill="#fff"/>
<text x="23.7" y="19.6" font-size="13.5" text-anchor="start" >A</text>
<rect x="243" y="8.9" width="12" height="11.5" fill="#fff"/>
<text x="245.1" y="19.4" font-size="13.5" text-anchor="start" >B</text>
<rect x="465" y="9" width="12.5" height="11.5" fill="#fff"/>
<text x="466.4" y="19.5" font-size="13.5" text-anchor="start" >C</text>
<rect x="23.2" y="181" width="11.3" height="11.5" fill="#fff"/>
<text x="23.6" y="191.5" font-size="13.5" text-anchor="start" >D</text>
<rect x="243.5" y="181.3" width="11" height="11.5" fill="#fff"/>
<text x="244.6" y="191.8" font-size="13.5" text-anchor="start" >E</text>
<rect x="465.5" y="180.7" width="10" height="11.5" fill="#fff"/>
<text x="466.1" y="191.2" font-size="13.5" text-anchor="start" >F</text>
<text x="45.4" y="23.7" font-size="8.0" text-anchor="start" >Mineral: olivine</text>
<text x="45.6" y="33.7" font-size="8.0" text-anchor="start" ><tspan font-style="italic">P</tspan><tspan font-size="4.7" dy="2.9" dx="-0.2">c</tspan><tspan dy="-2.9" dx="2.0">= 140 MPa</tspan></text>
<rect x="259.5" y="14.2" width="52" height="20.5" fill="#fff"/>
<text x="261.5" y="20.7" font-size="8.0" text-anchor="start" >Mineral: liz/ctl</text>
<text x="261.7" y="30.7" font-size="8.0" text-anchor="start" ><tspan font-style="italic">P</tspan><tspan font-size="4.7" dy="2.9" dx="-0.2">c</tspan><tspan dy="-2.9" dx="2.0">= 170 MPa</tspan></text>
<text x="517.7" y="17.8" font-size="8.0" text-anchor="start" >Mineral: liz/ctl</text>
<text x="517.9" y="27.8" font-size="8.0" text-anchor="start" ><tspan font-style="italic">P</tspan><tspan font-size="4.7" dy="2.9" dx="-0.2">c</tspan><tspan dy="-2.9" dx="2.0">= 60 MPa</tspan></text>
<rect x="14.7" y="5.5" width="197.8" height="157.5" fill="none" stroke="#262626" stroke-width="1.3"/>
<rect x="14.7" y="177.5" width="197.8" height="156.8" fill="none" stroke="#262626" stroke-width="1.3"/>
<rect x="236.5" y="5.5" width="197.5" height="157.5" fill="none" stroke="#262626" stroke-width="1.3"/>
<rect x="236.5" y="177.5" width="197.5" height="156.8" fill="none" stroke="#262626" stroke-width="1.3"/>
<rect x="458.5" y="5.5" width="196.8" height="157.5" fill="none" stroke="#262626" stroke-width="1.3"/>
<rect x="458.5" y="177.5" width="196.8" height="156.8" fill="none" stroke="#262626" stroke-width="1.3"/>
<text transform="translate(9.7,83.65) rotate(-90)" font-size="11.1" text-anchor="middle">Strain (µ<tspan font-style="italic">ε</tspan>)</text>
<text transform="translate(681.3,82.75) rotate(-90)" font-size="10.4" text-anchor="middle">Shear stress (MPa)</text>
<text transform="translate(9.7,255.3) rotate(-90)" font-size="11.1" text-anchor="middle">Strain (µ<tspan font-style="italic">ε</tspan>)</text>
<text transform="translate(681.3,254.4) rotate(-90)" font-size="10.4" text-anchor="middle">Shear stress (MPa)</text>
<text x="113.9" y="347.2" font-size="10.4" text-anchor="middle" >Time (ms)</text>
<text x="335.55" y="347.2" font-size="10.4" text-anchor="middle" >Time (ms)</text>
<text x="557.2" y="347.2" font-size="10.4" text-anchor="middle" >Time (ms)</text>
</svg></body></html>
